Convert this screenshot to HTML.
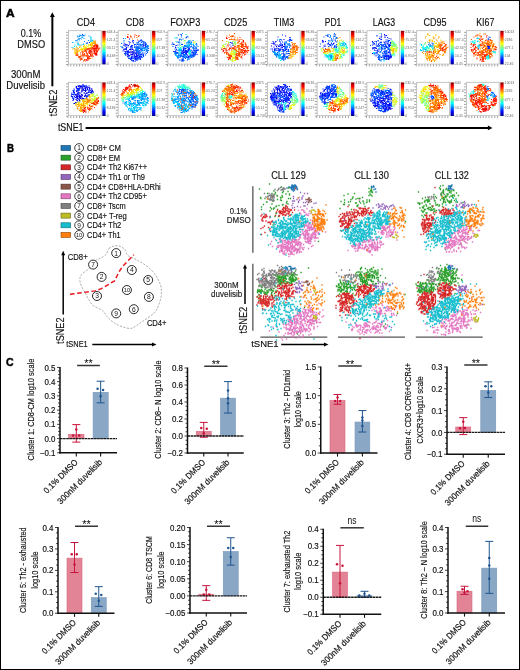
<!DOCTYPE html>
<html><head><meta charset="utf-8"><style>
html,body{margin:0;padding:0;background:#fff;}
body{width:520px;height:670px;overflow:hidden;}
svg{display:block;will-change:transform;font-family:"Liberation Sans", sans-serif;}
</style></head><body>
<svg width="520" height="670" viewBox="0 0 520 670">
<rect x="0" y="0" width="520" height="670" fill="#fff"/>
<defs><linearGradient id="jet" x1="0" y1="0" x2="0" y2="1"><stop offset="0.0000" stop-color="#7f0000"/><stop offset="0.0625" stop-color="#bf0000"/><stop offset="0.1250" stop-color="#ff0000"/><stop offset="0.1875" stop-color="#ff3f00"/><stop offset="0.2500" stop-color="#ff7f00"/><stop offset="0.3125" stop-color="#ffbf00"/><stop offset="0.3750" stop-color="#ffff00"/><stop offset="0.4375" stop-color="#bfff3f"/><stop offset="0.5000" stop-color="#7fff7f"/><stop offset="0.5625" stop-color="#3fffbf"/><stop offset="0.6250" stop-color="#00ffff"/><stop offset="0.6875" stop-color="#00bfff"/><stop offset="0.7500" stop-color="#007fff"/><stop offset="0.8125" stop-color="#003fff"/><stop offset="0.8750" stop-color="#0000ff"/><stop offset="0.9375" stop-color="#0000bf"/><stop offset="1.0000" stop-color="#00007f"/></linearGradient><filter id="bl" x="-10%" y="-10%" width="120%" height="120%"><feGaussianBlur stdDeviation="0.4"/></filter><filter id="bl2" x="-5%" y="-5%" width="110%" height="110%"><feGaussianBlur stdDeviation="0.3"/></filter></defs>
<text x="6.00" y="16.80" font-size="10.8" fill="#000" font-weight="bold" textLength="8.60" lengthAdjust="spacingAndGlyphs" stroke="#000" stroke-width="0.5">A</text>
<text x="31.00" y="36.90" font-size="10.3" fill="#111" text-anchor="middle" textLength="20.50" lengthAdjust="spacingAndGlyphs" stroke="#111" stroke-width="0.15">0.1%</text>
<text x="31.20" y="47.80" font-size="10.3" fill="#111" text-anchor="middle" textLength="27.90" lengthAdjust="spacingAndGlyphs" stroke="#111" stroke-width="0.15">DMSO</text>
<text x="25.70" y="77.50" font-size="10.3" fill="#111" text-anchor="middle" textLength="29.40" lengthAdjust="spacingAndGlyphs" stroke="#111" stroke-width="0.15">300nM</text>
<text x="25.60" y="88.90" font-size="10.3" fill="#111" text-anchor="middle" textLength="38.70" lengthAdjust="spacingAndGlyphs" stroke="#111" stroke-width="0.15">Duvelisib</text>
<line x1="52.35" y1="86.30" x2="52.35" y2="16.00" stroke="#000" stroke-width="2"/>
<path d="M52.35 12.3 L54.8 16.9 L49.9 16.9 Z" fill="#000"/>
<text x="0.00" y="0.00" font-size="10.4" fill="#111" textLength="26.60" lengthAdjust="spacingAndGlyphs" transform="translate(57.3,116.3) rotate(-90)" stroke="#111" stroke-width="0.15">tSNE2</text>
<text x="57.90" y="130.70" font-size="10.2" fill="#111" textLength="25.60" lengthAdjust="spacingAndGlyphs" stroke="#111" stroke-width="0.15">tSNE1</text>
<line x1="85.60" y1="127.90" x2="488.50" y2="127.90" stroke="#000" stroke-width="2"/>
<path d="M492.5 127.9 L487.9 125.45 L487.9 130.35 Z" fill="#000"/>
<text x="85.85" y="25.90" font-size="10.1" fill="#111" text-anchor="middle" textLength="18.20" lengthAdjust="spacingAndGlyphs" stroke="#111" stroke-width="0.15">CD4</text>
<rect x="68.40" y="30.70" width="32.80" height="33.40" fill="#fff" stroke="#b5b5b5" stroke-width="0.8"/>
<path d="M66.00 64.50h2M68.00 64.50v2M66.00 61.58h2M70.87 64.50v2M66.00 58.65h2M73.74 64.50v2M66.00 55.73h2M76.62 64.50v2M66.00 52.81h2M79.49 64.50v2M66.00 49.88h2M82.36 64.50v2M66.00 46.96h2M85.23 64.50v2M66.00 44.04h2M88.10 64.50v2M66.00 41.12h2M90.97 64.50v2M66.00 38.19h2M93.85 64.50v2M66.00 35.27h2M96.72 64.50v2M66.00 32.35h2M99.59 64.50v2" stroke="#666" stroke-width="0.6"/>
<g filter="url(#bl)">
<path d="M174 86h0" stroke="#0005ff" stroke-width="2.20" stroke-linecap="square" fill="none" transform="scale(0.5)"/>
<path d="M165 69h0m1 2h0m13 14h0" stroke="#0031ff" stroke-width="2.20" stroke-linecap="square" fill="none" transform="scale(0.5)"/>
<path d="M167 71h0m-8 2h0m-3 1h0m8 1h0m-4 2h0m-8 4h0m29 1h0m-6 4h0" stroke="#005eff" stroke-width="2.20" stroke-linecap="square" fill="none" transform="scale(0.5)"/>
<path d="M160 70h0m10 0h0m-9 1h0m-6 1h0m4 0h0m9 0h0m10 0h0m-20 5h0m10 0h0m-10 1h0m-2 1h0m-2 2h0m23 0h0m-8 2h0m-13 1h0m-11 1h0m11 2h0m17 0h0m-6 1h0" stroke="#008aff" stroke-width="2.20" stroke-linecap="square" fill="none" transform="scale(0.5)"/>
<path d="M164 71h0m-2 1h0m-4 1h0m7 1h0m16 0h0m-16 1h0m-2 3h0m18 0h0m-22 2h0m24 0h0m3 1h0m-2 1h0m0 1h0m-18 6h0m-10 1h0m3 0h0m3 0h0m-9 4h0m-9 1h0" stroke="#00b6ff" stroke-width="2.20" stroke-linecap="square" fill="none" transform="scale(0.5)"/>
<path d="M182 75h0m1 1h0m-2 7h0m-29 1h0m-6 1h0m9 3h0m2 1h0m-7 1h0m-1 3h0m-2 3h0" stroke="#00e3ff" stroke-width="2.20" stroke-linecap="square" fill="none" transform="scale(0.5)"/>
<path d="M184 80h0" stroke="#10ffee" stroke-width="2.20" stroke-linecap="square" fill="none" transform="scale(0.5)"/>
<path d="M178 89h0m-8 1h0m-3 2h0m16 1h0m-13 1h0m1 2h0m-4 1h0m-1 1h0m-3 1h0" stroke="#c2ff3c" stroke-width="2.20" stroke-linecap="square" fill="none" transform="scale(0.5)"/>
<path d="M181 86h0m2 0h0m-1 2h0m-9 2h0m5 1h0m4 0h0m-13 3h0m3 0h0m2 0h0m4 1h0m-15 1h0m8 0h0m8 0h0m-16 1h0m3 0h0m2 0h0m-6 1h0m-1 1h0m7 0h0m-5 1h0" stroke="#eeff10" stroke-width="2.20" stroke-linecap="square" fill="none" transform="scale(0.5)"/>
<path d="M187 82h0m-3 4h0m4 0h0m2 0h0m-7 2h0m0 1h0m1 0h0m-6 1h0m6 0h0m0 0h0m-15 1h0m8 0h0m-1 2h0m-17 1h0m11 0h0m12 0h0m-28 1h0m14 0h0m4 0h0m10 0h0m-2 1h0m1 0h0m-9 1h0m0 1h0m-7 1h0m3 0h0m1 0h0m-17 1h0m0 0h0m7 0h0m1 0h0m0 0h0m3 0h0m-4 2h0m-9 1h0m6 1h0m-1 1h0m-5 1h0m1 0h0m-1 1h0m1 0h0m0 0h0m0 0h0" stroke="#ffe300" stroke-width="2.20" stroke-linecap="square" fill="none" transform="scale(0.5)"/>
<path d="M190 82h0m0 2h0m-6 1h0m4 0h0m-3 2h0m3 0h0m3 0h0m1 1h0m-1 1h0m2 0h0m-11 2h0m5 0h0m-25 1h0m22 0h0m-17 1h0m-7 1h0m-1 1h0m24 0h0m-29 1h0m18 0h0m-23 1h0m21 0h0m4 0h0m3 0h0m2 0h0m-16 2h0m-14 1h0m1 0h0m2 1h0m4 0h0m-4 1h0m2 0h0m0 1h0m2 0h0m-6 2h0m2 0h0m6 8h0" stroke="#ffb600" stroke-width="2.20" stroke-linecap="square" fill="none" transform="scale(0.5)"/>
<path d="M190 82h0m-3 2h0m3 0h0m1 2h0m-3 1h0m-7 2h0m10 0h0m3 0h0m-9 1h0m-29 7h0m-10 1h0m6 0h0m23 0h0m16 0h0m-37 2h0m0 0h0m2 0h0m10 3h0m3 0h0m23 0h0m-14 3h0m-13 1h0m-12 1h0m1 0h0m3 2h0m13 0h0m-9 2h0m9 0h0m1 0h0m-12 1h0m-2 1h0m19 0h0m8 2h0m-22 1h0m2 0h0m14 0h0m-9 4h0" stroke="#ff8a00" stroke-width="2.20" stroke-linecap="square" fill="none" transform="scale(0.5)"/>
<path d="M190 89h0m-1 2h0m-2 3h0m-2 1h0m0 1h0m1 0h0m8 0h0m5 0h0m0 1h0m-21 1h0m5 0h0m2 0h0m-11 1h0m-4 1h0m12 0h0m-3 1h0m1 0h0m-15 1h0m3 0h0m5 0h0m-9 1h0m7 0h0m8 0h0m14 0h0m1 0h0m-30 1h0m20 0h0m9 0h0m-27 1h0m7 0h0m0 1h0m6 0h0m14 0h0m-39 1h0m15 0h0m6 0h0m11 0h0m7 1h0m-39 1h0m21 0h0m10 0h0m-34 1h0m2 0h0m9 0h0m3 0h0m16 0h0m2 0h0m-29 1h0m18 0h0m-8 1h0m4 0h0m7 0h0m2 0h0m-18 1h0m2 0h0m14 0h0m1 0h0m6 0h0m-23 2h0m16 0h0m-14 1h0m18 1h0m2 0h0m-6 1h0m2 0h0m-14 1h0m1 0h0m5 0h0m0 1h0" stroke="#ff5e00" stroke-width="2.20" stroke-linecap="square" fill="none" transform="scale(0.5)"/>
<path d="M195 91h0m1 0h0m-8 1h0m0 0h0m5 0h0m3 0h0m-9 1h0m1 0h0m1 0h0m4 0h0m0 1h0m1 0h0m-9 1h0m10 0h0m1 0h0m-14 1h0m3 0h0m4 0h0m5 0h0m-6 1h0m4 0h0m-18 1h0m1 0h0m0 0h0m3 0h0m3 0h0m1 0h0m6 0h0m2 0h0m4 0h0m4 0h0m-5 1h0m4 0h0m-27 1h0m2 0h0m0 0h0m4 0h0m16 0h0m-21 1h0m17 0h0m2 0h0m6 0h0m-12 1h0m9 0h0m2 0h0m0 1h0m-16 1h0m2 0h0m11 0h0m3 0h0m-3 1h0m-38 1h0m7 0h0m5 0h0m7 0h0m8 0h0m1 0h0m7 0h0m3 1h0m-3 1h0m-23 1h0m3 0h0m12 0h0m10 0h0m-36 1h0m13 0h0m6 0h0m18 0h0m-38 1h0m12 0h0m10 0h0m8 0h0m-11 1h0m-15 1h0m4 1h0m4 0h0m9 0h0m-17 1h0m20 0h0m-1 1h0m0 0h0m-14 1h0m12 0h0m-15 1h0m18 0h0m-17 2h0m13 1h0m-7 1h0m4 0h0" stroke="#ff3100" stroke-width="2.20" stroke-linecap="square" fill="none" transform="scale(0.5)"/>
<path d="M194 90h0m-4 1h0m3 0h0m-2 1h0m0 0h0m1 0h0m0 3h0m0 1h0m-14 1h0m10 0h0m1 0h0m3 0h0m4 0h0m-18 1h0m8 0h0m2 2h0m1 0h0m-8 1h0m-2 1h0m3 0h0m12 0h0m-12 1h0m6 0h0m1 0h0m-16 1h0m4 0h0m6 0h0m3 2h0m4 0h0m-11 1h0m12 0h0m1 0h0m-10 1h0m10 1h0m-11 1h0m11 0h0m2 0h0m-12 2h0m4 0h0m-7 1h0m7 0h0m-14 6h0m4 1h0" stroke="#ff0500" stroke-width="2.20" stroke-linecap="square" fill="none" transform="scale(0.5)"/>
<path d="M194 93h0m1 0h0m-5 3h0m-2 2h0m2 0h0m-1 6h0m4 3h0m0 2h0m-17 7h0m-3 4h0" stroke="#d80000" stroke-width="2.20" stroke-linecap="square" fill="none" transform="scale(0.5)"/>
</g>
<rect x="102.30" y="30.80" width="3.30" height="33.60" fill="url(#jet)"/>
<line x1="105.60" y1="31.50" x2="106.60" y2="31.50" stroke="#555" stroke-width="0.4"/>
<text x="106.80" y="32.70" font-size="3.4" fill="#666">443.4</text>
<line x1="105.60" y1="39.65" x2="106.60" y2="39.65" stroke="#555" stroke-width="0.4"/>
<text x="106.80" y="40.85" font-size="3.4" fill="#666">121.4</text>
<line x1="105.60" y1="47.80" x2="106.60" y2="47.80" stroke="#555" stroke-width="0.4"/>
<text x="106.80" y="49.00" font-size="3.4" fill="#666">33.11</text>
<line x1="105.60" y1="55.95" x2="106.60" y2="55.95" stroke="#555" stroke-width="0.4"/>
<text x="106.80" y="57.15" font-size="3.4" fill="#666">8.438</text>
<line x1="105.60" y1="64.10" x2="106.60" y2="64.10" stroke="#555" stroke-width="0.4"/>
<text x="106.80" y="65.30" font-size="3.4" fill="#666">0</text>
<rect x="68.40" y="82.30" width="32.80" height="33.40" fill="#fff" stroke="#b5b5b5" stroke-width="0.8"/>
<path d="M66.00 116.10h2M68.00 116.10v2M66.00 113.18h2M70.87 116.10v2M66.00 110.25h2M73.74 116.10v2M66.00 107.33h2M76.62 116.10v2M66.00 104.41h2M79.49 116.10v2M66.00 101.48h2M82.36 116.10v2M66.00 98.56h2M85.23 116.10v2M66.00 95.64h2M88.10 116.10v2M66.00 92.72h2M90.97 116.10v2M66.00 89.79h2M93.85 116.10v2M66.00 86.87h2M96.72 116.10v2M66.00 83.95h2M99.59 116.10v2" stroke="#666" stroke-width="0.6"/>
<g filter="url(#bl)">
<path d="M164 180h0" stroke="#00007f" stroke-width="2.20" stroke-linecap="square" fill="none" transform="scale(0.5)"/>
<path d="M161 173h0m8 0h0m-7 1h0m-9 1h0m31 3h0m-26 1h0m8 1h0m1 0h0m-19 2h0m23 1h0m12 0h0m1 0h0m-26 2h0m22 0h0m2 0h0m-26 1h0m27 0h0m-4 4h0m-27 1h0m7 0h0m1 1h0m1 0h0m-5 1h0m-1 1h0m18 1h0m-18 2h0m2 1h0m-3 7h0" stroke="#0000ab" stroke-width="2.20" stroke-linecap="square" fill="none" transform="scale(0.5)"/>
<path d="M158 171h0m3 1h0m3 0h0m3 0h0m1 0h0m10 0h0m-25 1h0m4 0h0m6 0h0m-3 1h0m3 0h0m3 0h0m6 1h0m4 0h0m-11 1h0m-11 1h0m0 0h0m2 0h0m1 0h0m7 0h0m4 0h0m-4 1h0m3 1h0m8 0h0m-17 1h0m1 0h0m19 0h0m-24 1h0m2 0h0m14 0h0m2 0h0m13 0h0m0 0h0m-31 1h0m9 0h0m-10 1h0m30 0h0m3 0h0m-30 1h0m21 0h0m9 1h0m-26 1h0m9 0h0m-9 1h0m14 0h0m-20 1h0m17 0h0m-19 1h0m11 0h0m-15 1h0m8 0h0m9 0h0m-11 1h0m11 0h0m5 0h0m2 0h0m-8 1h0m-19 1h0m8 0h0m7 0h0m2 0h0m7 0h0m-14 1h0m-4 1h0m0 0h0m3 0h0m5 0h0m3 0h0m-1 1h0m-1 1h0m-4 1h0m9 0h0m1 0h0m-14 1h0m2 2h0m5 1h0m1 0h0m-4 2h0m-8 3h0m2 0h0" stroke="#0000d8" stroke-width="2.20" stroke-linecap="square" fill="none" transform="scale(0.5)"/>
<path d="M166 169h0m-10 3h0m3 0h0m3 0h0m3 0h0m2 0h0m4 0h0m1 0h0m1 0h0m-16 1h0m6 0h0m-11 1h0m22 0h0m1 0h0m-22 1h0m17 0h0m8 0h0m-25 1h0m5 0h0m1 0h0m2 0h0m9 0h0m2 0h0m7 0h0m1 0h0m-9 1h0m4 0h0m-27 1h0m7 0h0m24 0h0m4 0h0m-26 1h0m9 0h0m1 0h0m4 0h0m-17 1h0m1 0h0m12 0h0m13 0h0m-26 1h0m28 0h0m-35 1h0m9 0h0m0 0h0m9 0h0m14 0h0m-32 2h0m16 0h0m-15 1h0m1 0h0m25 0h0m3 0h0m5 0h0m0 1h0m-27 1h0m1 0h0m17 0h0m11 0h0m0 0h0m-41 1h0m6 0h0m2 1h0m7 0h0m-3 1h0m1 0h0m15 0h0m-12 1h0m5 0h0m13 0h0m-34 1h0m32 0h0m-30 1h0m4 0h0m6 0h0m4 0h0m17 0h0m-20 1h0m-5 1h0m1 0h0m-7 1h0m3 0h0m17 0h0m-4 1h0m1 0h0m4 0h0m1 0h0m-14 1h0m-6 1h0m-1 2h0m9 0h0m4 0h0m-8 4h0" stroke="#0005ff" stroke-width="2.20" stroke-linecap="square" fill="none" transform="scale(0.5)"/>
<path d="M172 172h0m-13 5h0m-2 1h0m1 1h0m-9 1h0m9 0h0m16 0h0m-28 1h0m23 0h0m9 1h0m4 2h0m-25 1h0m-13 1h0m4 0h0m20 0h0m-23 3h0m2 0h0m31 0h0m-35 1h0m33 0h0m1 0h0m0 1h0m-3 1h0m-31 1h0m29 0h0m2 1h0m-29 2h0m2 1h0m12 2h0m4 0h0m2 0h0" stroke="#0031ff" stroke-width="2.20" stroke-linecap="square" fill="none" transform="scale(0.5)"/>
<path d="M168 171h0m-1 1h0m11 10h0m-30 6h0m22 9h0" stroke="#005eff" stroke-width="2.20" stroke-linecap="square" fill="none" transform="scale(0.5)"/>
<path d="M155 180h0" stroke="#008aff" stroke-width="2.20" stroke-linecap="square" fill="none" transform="scale(0.5)"/>
<path d="M186 192h0m2 0h0" stroke="#69ff95" stroke-width="2.20" stroke-linecap="square" fill="none" transform="scale(0.5)"/>
<path d="M187 188h0m1 0h0m6 2h0m-5 3h0m-4 5h0m2 1h0m1 1h0m-2 2h0" stroke="#95ff69" stroke-width="2.20" stroke-linecap="square" fill="none" transform="scale(0.5)"/>
<path d="M183 188h0m2 0h0m0 0h0m-1 1h0m2 1h0m0 0h0m8 0h0m1 0h0m-10 1h0m9 0h0m-9 1h0m6 0h0m-7 1h0m5 0h0m-1 1h0m4 1h0m2 0h0m-4 2h0m-2 1h0m2 0h0m1 0h0m-6 1h0m5 0h0m0 0h0m1 0h0m-7 1h0m1 0h0m1 0h0m-25 1h0m26 0h0m2 0h0m-5 3h0m-28 1h0m0 0h0m1 0h0m28 0h0m-6 5h0" stroke="#c2ff3c" stroke-width="2.20" stroke-linecap="square" fill="none" transform="scale(0.5)"/>
<path d="M186 190h0m0 0h0m1 0h0m-9 2h0m5 0h0m-4 2h0m2 0h0m9 1h0m-7 2h0m6 0h0m-20 2h0m18 1h0m-2 2h0m3 0h0m-20 1h0m-10 1h0m-2 1h0m4 1h0m7 0h0m-10 1h0m6 0h0m9 0h0m-21 1h0m13 0h0m12 0h0m-2 1h0m1 0h0m0 1h0m-7 1h0m1 1h0" stroke="#eeff10" stroke-width="2.20" stroke-linecap="square" fill="none" transform="scale(0.5)"/>
<path d="M181 190h0m-1 4h0m-7 3h0m10 0h0m-19 2h0m5 0h0m-3 1h0m5 0h0m0 0h0m7 1h0m2 0h0m2 0h0m-14 1h0m-1 1h0m7 0h0m-7 1h0m1 0h0m7 0h0m6 0h0m-17 2h0m5 0h0m4 0h0m7 0h0m-27 1h0m-1 1h0m6 0h0m1 0h0m8 0h0m7 0h0m-18 1h0m3 0h0m3 0h0m2 0h0m3 0h0m0 1h0m4 0h0m-7 1h0m1 0h0m-3 1h0m6 0h0m2 0h0m0 0h0m-9 1h0m3 1h0m1 0h0m2 0h0m1 0h0m-7 5h0m3 0h0m-4 1h0" stroke="#ffe300" stroke-width="2.20" stroke-linecap="square" fill="none" transform="scale(0.5)"/>
<path d="M179 192h0m-1 1h0m1 0h0m18 2h0m-24 1h0m7 0h0m0 0h0m-2 2h0m17 0h0m-25 1h0m4 0h0m0 0h0m-6 1h0m7 0h0m5 0h0m-15 1h0m9 0h0m6 0h0m-5 1h0m-9 1h0m0 0h0m1 0h0m3 0h0m2 0h0m2 1h0m5 0h0m1 0h0m3 0h0m-25 1h0m9 0h0m7 0h0m0 0h0m-17 1h0m10 0h0m7 0h0m-3 1h0m3 0h0m0 0h0m-10 1h0m3 0h0m-6 1h0m6 0h0m-15 1h0m0 0h0m5 0h0m12 0h0m0 0h0m-17 1h0m6 0h0m7 0h0m1 0h0m1 1h0m-10 1h0m-2 1h0m6 0h0m2 0h0m4 0h0m-5 1h0m1 0h0m1 0h0m-2 1h0m4 0h0m-8 2h0m4 0h0m1 0h0m-1 1h0m-1 1h0m1 1h0m1 0h0m-2 2h0m2 0h0" stroke="#ffb600" stroke-width="2.20" stroke-linecap="square" fill="none" transform="scale(0.5)"/>
<path d="M196 197h0m-22 2h0m2 0h0m-1 1h0m6 0h0m-5 1h0m2 0h0m12 0h0m-22 1h0m10 0h0m11 0h0m5 0h0m-4 1h0m-20 1h0m8 0h0m11 0h0m-13 1h0m-2 1h0m10 1h0m-28 2h0m31 0h0m-33 1h0m13 0h0m25 0h0m-29 1h0m3 0h0m-7 1h0m26 0h0m1 0h0m-6 1h0m2 0h0m-28 1h0m27 0h0m-20 1h0m1 1h0m-7 1h0m7 0h0m13 0h0m3 0h0m-22 1h0m3 3h0m4 0h0m14 3h0" stroke="#ff8a00" stroke-width="2.20" stroke-linecap="square" fill="none" transform="scale(0.5)"/>
<path d="M197 195h0m-23 2h0m22 0h0m-18 3h0m17 2h0m-19 1h0m14 0h0m4 0h0m-3 1h0m-1 1h0m5 1h0m-12 1h0m6 0h0m3 0h0m4 0h0m-2 1h0m-5 1h0m2 0h0m-11 1h0m4 2h0m-9 2h0m9 0h0m-9 1h0m3 0h0m4 2h0m-1 1h0m3 0h0m-15 2h0m3 0h0m7 1h0m-8 3h0" stroke="#ff5e00" stroke-width="2.20" stroke-linecap="square" fill="none" transform="scale(0.5)"/>
<path d="M194 199h0m-1 1h0m4 1h0m-6 1h0m4 2h0m-8 1h0m6 0h0m2 0h0m0 0h0m-2 1h0m-8 1h0m1 0h0m2 0h0m1 0h0m0 2h0m3 1h0m-9 3h0m-13 1h0m1 1h0m18 0h0m-21 1h0m1 1h0m10 0h0m-3 1h0m-10 1h0m11 0h0m3 0h0m-15 1h0m6 0h0m-5 1h0m2 0h0m0 1h0m-2 1h0m1 2h0" stroke="#ff3100" stroke-width="2.20" stroke-linecap="square" fill="none" transform="scale(0.5)"/>
<path d="M193 198h0m4 5h0m-18 8h0m-8 5h0m7 3h0m-10 2h0" stroke="#ff0500" stroke-width="2.20" stroke-linecap="square" fill="none" transform="scale(0.5)"/>
<path d="M168 220h0m1 3h0m3 1h0" stroke="#d80000" stroke-width="2.20" stroke-linecap="square" fill="none" transform="scale(0.5)"/>
</g>
<rect x="102.30" y="82.40" width="3.30" height="33.60" fill="url(#jet)"/>
<line x1="105.60" y1="83.10" x2="106.60" y2="83.10" stroke="#555" stroke-width="0.4"/>
<text x="106.80" y="84.30" font-size="3.4" fill="#666">443.4</text>
<line x1="105.60" y1="91.25" x2="106.60" y2="91.25" stroke="#555" stroke-width="0.4"/>
<text x="106.80" y="92.45" font-size="3.4" fill="#666">121.4</text>
<line x1="105.60" y1="99.40" x2="106.60" y2="99.40" stroke="#555" stroke-width="0.4"/>
<text x="106.80" y="100.60" font-size="3.4" fill="#666">33.11</text>
<line x1="105.60" y1="107.55" x2="106.60" y2="107.55" stroke="#555" stroke-width="0.4"/>
<text x="106.80" y="108.75" font-size="3.4" fill="#666">8.438</text>
<line x1="105.60" y1="115.70" x2="106.60" y2="115.70" stroke="#555" stroke-width="0.4"/>
<text x="106.80" y="116.90" font-size="3.4" fill="#666">0</text>
<text x="134.90" y="25.90" font-size="10.1" fill="#111" text-anchor="middle" textLength="18.20" lengthAdjust="spacingAndGlyphs" stroke="#111" stroke-width="0.15">CD8</text>
<rect x="118.15" y="30.70" width="32.80" height="33.40" fill="#fff" stroke="#b5b5b5" stroke-width="0.8"/>
<path d="M115.75 64.50h2M117.75 64.50v2M115.75 61.58h2M120.62 64.50v2M115.75 58.65h2M123.49 64.50v2M115.75 55.73h2M126.37 64.50v2M115.75 52.81h2M129.24 64.50v2M115.75 49.88h2M132.11 64.50v2M115.75 46.96h2M134.98 64.50v2M115.75 44.04h2M137.85 64.50v2M115.75 41.12h2M140.72 64.50v2M115.75 38.19h2M143.60 64.50v2M115.75 35.27h2M146.47 64.50v2M115.75 32.35h2M149.34 64.50v2" stroke="#666" stroke-width="0.6"/>
<g filter="url(#bl)">
<path d="M253 96h0m8 2h0m-4 12h0m10 11h0" stroke="#0000ab" stroke-width="2.20" stroke-linecap="square" fill="none" transform="scale(0.5)"/>
<path d="M250 88h0m9 0h0m-7 1h0m35 1h0m-37 2h0m2 6h0m0 1h0m7 0h0m2 0h0m19 2h0m-26 2h0m1 0h0m2 0h0m5 0h0m-11 1h0m14 0h0m3 0h0m-6 2h0m5 0h0m-2 2h0m4 0h0m-7 1h0m2 0h0m10 2h0m2 0h0m-20 2h0m8 0h0m7 0h0m3 1h0m-12 2h0m7 0h0m9 0h0" stroke="#0000d8" stroke-width="2.20" stroke-linecap="square" fill="none" transform="scale(0.5)"/>
<path d="M259 78h0m6 4h0m13 0h0m-12 2h0m-6 1h0m-12 3h0m43 0h0m-36 2h0m31 0h0m5 0h0m-34 1h0m31 0h0m-36 1h0m12 0h0m-3 2h0m15 0h0m-23 1h0m19 0h0m-8 1h0m10 0h0m1 0h0m-23 1h0m45 0h0m-33 1h0m-16 1h0m4 0h0m13 0h0m-3 1h0m9 0h0m3 1h0m-17 1h0m19 0h0m-26 1h0m0 0h0m5 0h0m11 0h0m12 0h0m-20 1h0m12 0h0m-12 1h0m2 0h0m4 0h0m17 0h0m-30 1h0m1 0h0m3 0h0m2 0h0m13 0h0m0 0h0m10 0h0m-31 1h0m23 0h0m5 0h0m-11 1h0m9 0h0m-20 1h0m18 0h0m11 0h0m-27 1h0m5 0h0m3 0h0m0 0h0m3 0h0m0 0h0m5 0h0m-14 1h0m28 0h0m-32 1h0m14 0h0m5 0h0m5 0h0m1 0h0m-8 1h0m-2 1h0m4 0h0m3 0h0m2 0h0m-16 1h0m1 0h0m6 0h0m12 0h0m-11 1h0m1 0h0m3 0h0m3 0h0m-20 1h0m4 0h0m2 0h0m6 1h0m2 0h0m1 0h0m1 0h0m-2 2h0m-8 1h0m3 1h0" stroke="#0005ff" stroke-width="2.20" stroke-linecap="square" fill="none" transform="scale(0.5)"/>
<path d="M282 80h0m-15 1h0m14 0h0m2 1h0m-25 1h0m20 0h0m8 0h0m1 1h0m-13 1h0m-7 1h0m7 0h0m14 0h0m0 0h0m-1 2h0m1 0h0m3 0h0m-38 1h0m16 0h0m15 0h0m-32 1h0m29 0h0m-33 1h0m15 0h0m2 0h0m26 0h0m-27 1h0m27 0h0m4 0h0m-33 1h0m1 0h0m23 0h0m0 0h0m8 0h0m2 0h0m-51 1h0m11 0h0m18 0h0m2 0h0m15 0h0m-27 1h0m-18 1h0m32 0h0m5 0h0m7 0h0m-16 1h0m6 0h0m-31 1h0m3 0h0m25 0h0m-29 2h0m19 0h0m5 0h0m2 0h0m19 0h0m-25 1h0m-22 1h0m7 0h0m4 0h0m17 0h0m0 1h0m20 0h0m-20 1h0m-19 1h0m1 0h0m20 0h0m-24 1h0m15 0h0m6 0h0m4 0h0m8 0h0m5 0h0m-40 1h0m4 0h0m18 0h0m1 0h0m-1 1h0m6 0h0m4 0h0m1 0h0m-5 1h0m0 0h0m3 0h0m2 0h0m-32 1h0m1 0h0m28 0h0m1 0h0m6 0h0m-13 1h0m-5 1h0m1 0h0m5 0h0m-11 1h0m4 0h0m13 0h0m2 0h0m4 0h0m-31 1h0m2 0h0m24 0h0m-18 2h0m-6 1h0m0 0h0m1 0h0m16 0h0m6 0h0m-20 2h0m1 0h0m19 0h0m-17 1h0m7 0h0m2 0h0m2 0h0" stroke="#0031ff" stroke-width="2.20" stroke-linecap="square" fill="none" transform="scale(0.5)"/>
<path d="M247 77h0m36 3h0m2 2h0m-37 2h0m41 0h0m-12 1h0m0 0h0m6 0h0m8 0h0m-48 2h0m33 1h0m16 0h0m1 0h0m-22 1h0m4 0h0m5 0h0m1 0h0m12 0h0m-20 1h0m4 0h0m2 0h0m3 1h0m-13 1h0m14 0h0m1 0h0m8 0h0m-22 1h0m10 0h0m13 0h0m-32 1h0m12 0h0m3 0h0m11 0h0m6 0h0m-24 1h0m4 0h0m5 0h0m12 0h0m5 0h0m-19 1h0m1 0h0m4 0h0m4 0h0m5 0h0m-18 1h0m5 0h0m1 0h0m0 0h0m0 0h0m7 0h0m3 0h0m-5 1h0m2 0h0m-13 1h0m4 0h0m5 0h0m13 0h0m-20 1h0m0 0h0m9 0h0m-27 1h0m17 0h0m0 0h0m1 0h0m4 0h0m6 0h0m1 0h0m10 0h0m-22 1h0m4 1h0m5 0h0m-9 1h0m6 1h0m0 0h0m16 0h0m-40 1h0m22 0h0m1 1h0m15 0h0m-43 1h0m37 0h0m0 1h0m-36 1h0m26 0h0m4 0h0m10 0h0m-14 1h0m8 4h0m-18 1h0m8 0h0m4 0h0m0 0h0m-12 1h0m10 0h0m-8 1h0m5 1h0m4 0h0m-13 3h0m5 1h0" stroke="#005eff" stroke-width="2.20" stroke-linecap="square" fill="none" transform="scale(0.5)"/>
<path d="M248 81h0m33 1h0m-5 4h0m10 0h0m-43 1h0m37 0h0m3 3h0m12 1h0m1 1h0m1 0h0m-55 1h0m32 1h0m-30 1h0m44 0h0m-7 1h0m13 0h0m2 0h0m-21 1h0m13 0h0m8 0h0m-15 1h0m4 0h0m4 0h0m-17 1h0m3 0h0m17 0h0m1 1h0m-7 1h0m3 0h0m8 0h0m-22 1h0m17 0h0m3 0h0m-9 2h0m-2 7h0m-26 2h0m3 3h0" stroke="#008aff" stroke-width="2.20" stroke-linecap="square" fill="none" transform="scale(0.5)"/>
<path d="M251 77h0m45 16h0m-16 1h0m12 3h0m-4 1h0m-11 2h0m4 5h0" stroke="#00b6ff" stroke-width="2.20" stroke-linecap="square" fill="none" transform="scale(0.5)"/>
<path d="M285 99h0" stroke="#00e3ff" stroke-width="2.20" stroke-linecap="square" fill="none" transform="scale(0.5)"/>
<path d="M257 74h0m8 4h0" stroke="#ff8a00" stroke-width="2.20" stroke-linecap="square" fill="none" transform="scale(0.5)"/>
<path d="M273 71h0m4 2h0m-16 1h0m-5 1h0m18 0h0m1 5h0" stroke="#ff5e00" stroke-width="2.20" stroke-linecap="square" fill="none" transform="scale(0.5)"/>
<path d="M256 69h0m5 3h0m2 2h0m6 0h0" stroke="#ff3100" stroke-width="2.20" stroke-linecap="square" fill="none" transform="scale(0.5)"/>
<path d="M270 70h0m8 1h0m-23 2h0m0 2h0" stroke="#ff0500" stroke-width="2.20" stroke-linecap="square" fill="none" transform="scale(0.5)"/>
</g>
<rect x="152.05" y="30.80" width="3.30" height="33.60" fill="url(#jet)"/>
<line x1="155.35" y1="31.50" x2="156.35" y2="31.50" stroke="#555" stroke-width="0.4"/>
<text x="156.55" y="32.70" font-size="3.4" fill="#666">902.9</text>
<line x1="155.35" y1="39.65" x2="156.35" y2="39.65" stroke="#555" stroke-width="0.4"/>
<text x="156.55" y="40.85" font-size="3.4" fill="#666">207</text>
<line x1="155.35" y1="47.80" x2="156.35" y2="47.80" stroke="#555" stroke-width="0.4"/>
<text x="156.55" y="49.00" font-size="3.4" fill="#666">47.38</text>
<line x1="155.35" y1="55.95" x2="156.35" y2="55.95" stroke="#555" stroke-width="0.4"/>
<text x="156.55" y="57.15" font-size="3.4" fill="#666">10.32</text>
<line x1="155.35" y1="64.10" x2="156.35" y2="64.10" stroke="#555" stroke-width="0.4"/>
<text x="156.55" y="65.30" font-size="3.4" fill="#666">0</text>
<rect x="118.15" y="82.30" width="32.80" height="33.40" fill="#fff" stroke="#b5b5b5" stroke-width="0.8"/>
<path d="M115.75 116.10h2M117.75 116.10v2M115.75 113.18h2M120.62 116.10v2M115.75 110.25h2M123.49 116.10v2M115.75 107.33h2M126.37 116.10v2M115.75 104.41h2M129.24 116.10v2M115.75 101.48h2M132.11 116.10v2M115.75 98.56h2M134.98 116.10v2M115.75 95.64h2M137.85 116.10v2M115.75 92.72h2M140.72 116.10v2M115.75 89.79h2M143.60 116.10v2M115.75 86.87h2M146.47 116.10v2M115.75 83.95h2M149.34 116.10v2" stroke="#666" stroke-width="0.6"/>
<g filter="url(#bl)">
<path d="M277 207h0" stroke="#0031ff" stroke-width="2.20" stroke-linecap="square" fill="none" transform="scale(0.5)"/>
<path d="M289 186h0m-1 1h0m2 1h0m-13 4h0m10 0h0m-18 2h0m-6 1h0m17 0h0m15 0h0m-26 1h0m2 0h0m-6 1h0m31 0h0m-8 1h0m3 0h0m1 0h0m-10 2h0m-7 1h0m6 4h0m2 0h0m1 0h0m11 0h0m-24 1h0m-1 3h0m9 0h0m-20 2h0m8 0h0m7 4h0m-14 7h0" stroke="#005eff" stroke-width="2.20" stroke-linecap="square" fill="none" transform="scale(0.5)"/>
<path d="M285 187h0m2 0h0m-4 1h0m9 0h0m-13 1h0m3 0h0m3 0h0m1 0h0m3 0h0m4 0h0m-9 1h0m8 0h0m2 0h0m-10 1h0m1 0h0m8 0h0m-4 1h0m-21 1h0m2 0h0m4 0h0m8 0h0m3 0h0m7 0h0m-26 1h0m0 0h0m3 0h0m14 0h0m7 0h0m-23 1h0m5 0h0m8 0h0m6 0h0m-3 1h0m13 0h0m-29 1h0m12 0h0m4 0h0m2 0h0m3 0h0m-25 1h0m23 0h0m0 0h0m2 0h0m4 0h0m-27 1h0m1 0h0m17 0h0m0 0h0m5 0h0m-6 1h0m13 0h0m-37 1h0m2 0h0m10 0h0m0 0h0m1 0h0m7 0h0m0 0h0m5 0h0m0 0h0m-13 1h0m7 0h0m19 0h0m-35 1h0m14 0h0m15 0h0m-40 1h0m29 0h0m-27 1h0m41 0h0m-47 1h0m4 0h0m19 0h0m7 0h0m1 0h0m3 0h0m7 0h0m5 0h0m1 0h0m-32 1h0m5 0h0m2 0h0m-6 1h0m3 0h0m14 0h0m-22 1h0m-5 1h0m8 0h0m3 0h0m23 0h0m-11 1h0m5 0h0m-16 2h0m3 2h0m13 0h0m-12 1h0m1 0h0m4 3h0m-12 1h0m13 0h0m8 0h0m-18 1h0m6 0h0m3 0h0m2 1h0m-11 1h0m1 0h0m9 0h0m-9 2h0m3 0h0" stroke="#008aff" stroke-width="2.20" stroke-linecap="square" fill="none" transform="scale(0.5)"/>
<path d="M290 184h0m-7 2h0m2 0h0m5 0h0m-9 2h0m1 0h0m-5 1h0m3 0h0m2 1h0m3 0h0m1 0h0m-10 1h0m2 0h0m6 0h0m4 0h0m-19 1h0m1 0h0m4 0h0m14 0h0m-19 1h0m10 0h0m10 0h0m-27 1h0m29 0h0m-25 1h0m3 0h0m12 0h0m1 0h0m3 0h0m-9 1h0m3 0h0m1 0h0m-21 1h0m37 0h0m-40 1h0m26 0h0m1 0h0m-31 1h0m6 0h0m27 0h0m9 1h0m2 0h0m-7 2h0m-36 1h0m35 0h0m-31 1h0m1 0h0m26 0h0m10 0h0m-35 1h0m8 0h0m8 0h0m1 0h0m2 0h0m4 0h0m5 0h0m6 0h0m0 0h0m2 0h0m-42 1h0m27 0h0m2 0h0m-29 1h0m6 0h0m5 0h0m19 0h0m4 0h0m9 0h0m-47 1h0m2 0h0m7 0h0m4 0h0m9 0h0m5 0h0m9 0h0m-29 1h0m12 0h0m6 0h0m2 0h0m0 0h0m15 0h0m-18 1h0m4 0h0m1 0h0m15 0h0m-21 1h0m1 0h0m14 0h0m4 0h0m-38 1h0m19 0h0m-17 2h0m5 0h0m0 0h0m12 0h0m-4 1h0m8 0h0m-4 1h0m3 0h0m4 0h0m1 0h0m3 0h0m-25 1h0m2 0h0m0 0h0m3 0h0m5 0h0m-11 1h0m6 0h0m3 0h0m-4 1h0m7 0h0m9 0h0m2 0h0m-23 1h0m12 0h0m-5 1h0m2 0h0m4 0h0m0 0h0m-2 2h0m-2 1h0m2 0h0m2 1h0" stroke="#00b6ff" stroke-width="2.20" stroke-linecap="square" fill="none" transform="scale(0.5)"/>
<path d="M283 186h0m-3 2h0m-3 1h0m4 0h0m0 1h0m-8 1h0m17 0h0m-25 1h0m12 0h0m-14 1h0m7 0h0m4 0h0m-13 1h0m0 0h0m1 0h0m0 0h0m-1 1h0m24 0h0m-7 1h0m-23 1h0m39 0h0m-39 1h0m2 0h0m31 0h0m-20 2h0m20 1h0m9 1h0m-51 1h0m16 2h0m-3 1h0m27 0h0m4 0h0m-9 1h0m8 1h0m-31 1h0m6 0h0m6 0h0m-17 1h0m11 0h0m11 0h0m-23 2h0m17 1h0m1 0h0m1 0h0m-8 1h0m0 0h0m25 0h0m-6 1h0m-11 1h0m1 0h0m-9 1h0m18 0h0m-23 1h0m6 0h0m9 1h0m-5 1h0m9 0h0m-16 1h0m11 1h0" stroke="#00e3ff" stroke-width="2.20" stroke-linecap="square" fill="none" transform="scale(0.5)"/>
<path d="M285 182h0m2 1h0m-2 1h0m-3 1h0m3 0h0m-23 8h0m1 0h0m-7 1h0m3 0h0m2 0h0m-5 1h0m20 0h0m-30 6h0m8 3h0m36 6h0m-5 1h0m-19 1h0m-2 1h0" stroke="#10ffee" stroke-width="2.20" stroke-linecap="square" fill="none" transform="scale(0.5)"/>
<path d="M281 184h0m-4 2h0m-2 2h0m-2 2h0m2 0h0m-13 1h0m1 0h0m-5 1h0m-8 3h0m0 1h0m2 0h0m3 1h0m-11 3h0m3 0h0" stroke="#3cffc2" stroke-width="2.20" stroke-linecap="square" fill="none" transform="scale(0.5)"/>
<path d="M283 180h0m-2 1h0m3 0h0m-18 7h0m-4 1h0m4 0h0m-5 1h0m2 0h0m6 0h0m-12 1h0m1 0h0m-2 2h0m3 0h0m-9 2h0m-5 1h0m3 1h0m-3 2h0m2 0h0" stroke="#69ff95" stroke-width="2.20" stroke-linecap="square" fill="none" transform="scale(0.5)"/>
<path d="M283 180h0m-4 3h0m-3 1h0m-3 1h0m1 1h0m-11 2h0m6 0h0m4 0h0m-15 1h0m6 0h0m5 0h0m-7 1h0m-8 1h0m3 1h0m-4 1h0m3 1h0m-10 4h0" stroke="#95ff69" stroke-width="2.20" stroke-linecap="square" fill="none" transform="scale(0.5)"/>
<path d="M285 179h0m-3 2h0m-8 1h0m-6 3h0m-3 1h0m4 0h0m-7 1h0m3 0h0m1 0h0m-12 1h0m6 0h0m2 0h0m-5 1h0m3 0h0m5 0h0m-6 2h0m-11 3h0m-1 1h0" stroke="#c2ff3c" stroke-width="2.20" stroke-linecap="square" fill="none" transform="scale(0.5)"/>
<path d="M278 179h0m-5 1h0m0 0h0m3 0h0m1 0h0m-2 1h0m1 0h0m-10 1h0m6 0h0m1 0h0m-10 2h0m-6 2h0m4 0h0m6 0h0m2 0h0m-8 1h0m2 0h0m-9 2h0m-3 1h0m-2 1h0m6 0h0m-10 3h0m1 0h0m-3 2h0" stroke="#eeff10" stroke-width="2.20" stroke-linecap="square" fill="none" transform="scale(0.5)"/>
<path d="M281 175h0m1 2h0m-11 1h0m0 0h0m1 0h0m5 0h0m-10 1h0m8 0h0m3 0h0m-12 1h0m-2 1h0m3 0h0m0 0h0m4 0h0m2 1h0m-6 1h0m-4 1h0m1 0h0m-3 1h0m3 0h0m3 0h0m5 0h0m-15 1h0m-11 6h0" stroke="#ffe300" stroke-width="2.20" stroke-linecap="square" fill="none" transform="scale(0.5)"/>
<path d="M275 176h0m-2 1h0m2 0h0m2 1h0m-9 1h0m1 0h0m5 0h0m-2 1h0m-13 1h0m4 1h0m-4 1h0m5 0h0m-11 1h0m-6 2h0m8 0h0m2 0h0m-13 2h0m0 3h0m1 0h0m1 0h0" stroke="#ffb600" stroke-width="2.20" stroke-linecap="square" fill="none" transform="scale(0.5)"/>
<path d="M276 172h0m-6 2h0m5 0h0m2 1h0m0 1h0m-3 1h0m-12 1h0m-2 1h0m-2 1h0m0 0h0m-10 5h0m1 1h0m6 0h0m-11 1h0m0 1h0m1 1h0m1 0h0m-1 1h0m-2 1h0" stroke="#ff8a00" stroke-width="2.20" stroke-linecap="square" fill="none" transform="scale(0.5)"/>
<path d="M270 170h0m6 1h0m-4 1h0m-2 1h0m2 0h0m6 0h0m-21 1h0m3 3h0m-6 2h0m6 0h0m1 0h0m1 0h0m1 0h0m-12 1h0m11 0h0m-4 1h0m-6 1h0m-4 1h0m1 2h0m-5 1h0m0 2h0m2 0h0m-4 1h0" stroke="#ff5e00" stroke-width="2.20" stroke-linecap="square" fill="none" transform="scale(0.5)"/>
<path d="M274 170h0m1 0h0m-4 1h0m-1 1h0m0 1h0m4 0h0m-21 1h0m7 0h0m18 0h0m-27 1h0m3 0h0m2 0h0m6 0h0m-10 2h0m3 0h0m-4 1h0m7 0h0m-11 1h0m2 2h0m0 0h0m-2 3h0" stroke="#ff3100" stroke-width="2.20" stroke-linecap="square" fill="none" transform="scale(0.5)"/>
<path d="M270 169h0m-11 1h0m1 0h0m0 0h0m12 1h0m-14 1h0m7 0h0m0 0h0m4 0h0m5 0h0m1 0h0m-16 1h0m1 0h0m-5 2h0m1 0h0m-3 1h0m3 0h0m-5 1h0m3 1h0m0 0h0m-7 1h0m0 0h0m6 0h0m-3 1h0m1 0h0m-6 2h0m5 0h0m-4 4h0m-1 1h0" stroke="#ff0500" stroke-width="2.20" stroke-linecap="square" fill="none" transform="scale(0.5)"/>
<path d="M268 169h0m0 3h0m9 1h0" stroke="#d80000" stroke-width="2.20" stroke-linecap="square" fill="none" transform="scale(0.5)"/>
<path d="M263 169h0m7 1h0m-2 1h0m3 0h0" stroke="#ab0000" stroke-width="2.20" stroke-linecap="square" fill="none" transform="scale(0.5)"/>
</g>
<rect x="152.05" y="82.40" width="3.30" height="33.60" fill="url(#jet)"/>
<line x1="155.35" y1="83.10" x2="156.35" y2="83.10" stroke="#555" stroke-width="0.4"/>
<text x="156.55" y="84.30" font-size="3.4" fill="#666">902.9</text>
<line x1="155.35" y1="91.25" x2="156.35" y2="91.25" stroke="#555" stroke-width="0.4"/>
<text x="156.55" y="92.45" font-size="3.4" fill="#666">207</text>
<line x1="155.35" y1="99.40" x2="156.35" y2="99.40" stroke="#555" stroke-width="0.4"/>
<text x="156.55" y="100.60" font-size="3.4" fill="#666">47.38</text>
<line x1="155.35" y1="107.55" x2="156.35" y2="107.55" stroke="#555" stroke-width="0.4"/>
<text x="156.55" y="108.75" font-size="3.4" fill="#666">10.32</text>
<line x1="155.35" y1="115.70" x2="156.35" y2="115.70" stroke="#555" stroke-width="0.4"/>
<text x="156.55" y="116.90" font-size="3.4" fill="#666">0</text>
<text x="185.25" y="25.90" font-size="10.1" fill="#111" text-anchor="middle" textLength="30.00" lengthAdjust="spacingAndGlyphs" stroke="#111" stroke-width="0.15">FOXP3</text>
<rect x="167.90" y="30.70" width="32.80" height="33.40" fill="#fff" stroke="#b5b5b5" stroke-width="0.8"/>
<path d="M165.50 64.50h2M167.50 64.50v2M165.50 61.58h2M170.37 64.50v2M165.50 58.65h2M173.24 64.50v2M165.50 55.73h2M176.12 64.50v2M165.50 52.81h2M178.99 64.50v2M165.50 49.88h2M181.86 64.50v2M165.50 46.96h2M184.73 64.50v2M165.50 44.04h2M187.60 64.50v2M165.50 41.12h2M190.47 64.50v2M165.50 38.19h2M193.35 64.50v2M165.50 35.27h2M196.22 64.50v2M165.50 32.35h2M199.09 64.50v2" stroke="#666" stroke-width="0.6"/>
<g filter="url(#bl)">
<path d="M368 102h0" stroke="#0000ab" stroke-width="2.20" stroke-linecap="square" fill="none" transform="scale(0.5)"/>
<path d="M353 99h0m29 1h0m-9 1h0m23 0h0m-26 1h0m2 0h0m3 0h0m-25 1h0m17 2h0m7 0h0m-11 1h0m26 2h0m-3 3h0m-2 3h0" stroke="#0000d8" stroke-width="2.20" stroke-linecap="square" fill="none" transform="scale(0.5)"/>
<path d="M363 70h0m-16 19h0m1 0h0m3 6h0m16 1h0m3 1h0m2 0h0m5 0h0m-10 1h0m2 0h0m0 0h0m9 1h0m-11 1h0m10 0h0m2 0h0m9 0h0m-32 1h0m0 0h0m7 0h0m8 0h0m7 0h0m15 0h0m-41 1h0m13 0h0m1 0h0m1 0h0m4 0h0m-7 1h0m9 0h0m2 0h0m17 0h0m-22 1h0m6 0h0m8 0h0m-15 1h0m3 0h0m16 0h0m-26 1h0m3 1h0m2 0h0m4 0h0m2 0h0m-12 1h0m11 0h0m9 0h0m9 1h0m4 0h0m-9 1h0m0 1h0m3 0h0m-5 1h0m-21 8h0" stroke="#0005ff" stroke-width="2.20" stroke-linecap="square" fill="none" transform="scale(0.5)"/>
<path d="M362 69h0m-5 1h0m3 8h0m-1 2h0m-5 4h0m-9 2h0m38 0h0m-18 3h0m-9 1h0m-3 1h0m-2 1h0m27 0h0m-10 1h0m4 1h0m15 0h0m5 0h0m-17 1h0m3 0h0m14 0h0m-40 1h0m15 0h0m20 0h0m5 0h0m-14 1h0m1 0h0m-8 1h0m7 0h0m9 0h0m-34 1h0m23 0h0m20 0h0m-24 2h0m10 0h0m6 0h0m2 0h0m5 0h0m-44 1h0m25 0h0m1 0h0m13 0h0m1 0h0m-44 1h0m3 0h0m1 0h0m25 0h0m-26 1h0m20 0h0m0 0h0m3 0h0m12 0h0m3 0h0m-33 1h0m9 0h0m20 0h0m1 0h0m7 0h0m1 0h0m-41 1h0m13 0h0m19 0h0m-21 1h0m3 0h0m1 0h0m20 0h0m0 0h0m4 0h0m-40 1h0m13 0h0m24 0h0m2 0h0m-23 1h0m1 0h0m1 0h0m3 0h0m0 0h0m9 0h0m6 0h0m-29 1h0m17 0h0m8 0h0m0 0h0m4 0h0m3 0h0m-38 1h0m34 0h0m-25 1h0m13 0h0m4 0h0m0 0h0m5 0h0m-18 1h0m2 0h0m10 0h0m0 0h0m1 0h0m2 0h0m8 0h0m-27 1h0m15 0h0m1 0h0m5 0h0m4 0h0m-28 1h0m14 0h0m11 0h0m-6 1h0m1 0h0m2 0h0m-16 2h0m2 0h0m-1 2h0m2 0h0m8 0h0m-10 2h0" stroke="#0031ff" stroke-width="2.20" stroke-linecap="square" fill="none" transform="scale(0.5)"/>
<path d="M374 73h0m-11 1h0m13 0h0m-3 1h0m-19 1h0m18 0h0m-6 2h0m-7 1h0m27 2h0m-29 3h0m2 0h0m19 1h0m1 0h0m-3 1h0m6 1h0m11 0h0m-46 1h0m-3 1h0m19 0h0m16 1h0m14 0h0m1 0h0m-25 1h0m2 0h0m3 0h0m2 1h0m0 0h0m1 0h0m-31 1h0m24 0h0m3 0h0m10 0h0m-14 1h0m12 0h0m-5 1h0m1 1h0m0 0h0m16 0h0m-24 1h0m-19 1h0m40 0h0m1 0h0m2 0h0m-31 2h0m-2 1h0m26 1h0m-35 2h0m17 0h0m22 0h0m2 0h0m-41 1h0m2 0h0m34 0h0m-34 1h0m0 0h0m4 0h0m35 0h0m0 0h0m-39 1h0m0 0h0m2 0h0m12 0h0m-9 1h0m13 0h0m13 0h0m-15 1h0m4 0h0m-10 1h0m4 0h0m3 0h0m2 0h0m7 0h0m8 0h0m3 0h0m-34 1h0m2 0h0m1 0h0m3 0h0m2 0h0m4 0h0m13 0h0m-24 1h0m3 0h0m3 0h0m5 0h0m2 0h0m12 0h0m0 0h0m-17 1h0m8 0h0m8 0h0m1 0h0m1 0h0m3 0h0m-30 1h0m0 0h0m14 0h0m-4 1h0m3 0h0m6 0h0m-19 1h0m0 1h0m15 0h0m-5 1h0m-7 2h0m9 1h0m-5 1h0m4 0h0" stroke="#005eff" stroke-width="2.20" stroke-linecap="square" fill="none" transform="scale(0.5)"/>
<path d="M363 71h0m-1 8h0m1 1h0m14 2h0m1 0h0m0 1h0m4 0h0m-6 1h0m-19 1h0m19 0h0m7 0h0m-10 1h0m7 0h0m7 0h0m-7 1h0m-21 1h0m18 0h0m5 0h0m0 1h0m0 0h0m10 0h0m0 0h0m-20 1h0m11 0h0m-9 1h0m0 0h0m1 0h0m4 0h0m8 0h0m-10 1h0m12 0h0m-19 1h0m0 0h0m3 0h0m7 0h0m16 0h0m-22 1h0m2 0h0m8 0h0m6 0h0m-24 2h0m19 0h0m1 0h0m6 0h0m-4 1h0m-27 1h0m2 1h0m-2 1h0m2 0h0m-3 1h0m1 0h0m-1 3h0m0 0h0m-11 2h0m0 0h0m6 1h0m-5 1h0m39 0h0m-38 1h0m1 0h0m5 1h0m4 0h0m10 0h0m-19 1h0m18 0h0m14 0h0m-4 1h0m-25 1h0m7 0h0m-5 1h0m14 0h0m-16 1h0m1 0h0m17 0h0m-6 1h0m9 1h0m-1 2h0m3 0h0" stroke="#008aff" stroke-width="2.20" stroke-linecap="square" fill="none" transform="scale(0.5)"/>
<path d="M365 67h0m15 14h0m-1 1h0m-3 3h0m-14 1h0m12 0h0m7 2h0m-1 1h0m6 0h0m1 0h0m-12 1h0m1 0h0m17 0h0m-15 1h0m-4 1h0m3 0h0m-19 4h0m3 2h0m-3 1h0m2 0h0m-3 1h0m5 1h0m17 0h0m-21 1h0m2 0h0m21 1h0m-3 1h0m1 0h0m-27 6h0m1 1h0m6 1h0m-3 2h0m27 0h0" stroke="#00b6ff" stroke-width="2.20" stroke-linecap="square" fill="none" transform="scale(0.5)"/>
<path d="M372 69h0m0 0h0m-22 7h0m33 11h0m-6 3h0m-5 1h0m-10 8h0m-5 1h0m24 1h0m-23 1h0m3 4h0m19 0h0m1 0h0m-21 1h0m18 0h0m-25 6h0" stroke="#00e3ff" stroke-width="2.20" stroke-linecap="square" fill="none" transform="scale(0.5)"/>
<path d="M352 75h0m0 8h0m4 12h0m3 2h0m3 0h0m17 7h0m0 0h0m-18 2h0m17 0h0m3 0h0m-3 1h0m1 1h0" stroke="#10ffee" stroke-width="2.20" stroke-linecap="square" fill="none" transform="scale(0.5)"/>
<path d="M359 92h0m7 1h0m-3 1h0m-2 1h0m-3 11h0m21 1h0m0 1h0m1 0h0m-1 1h0" stroke="#3cffc2" stroke-width="2.20" stroke-linecap="square" fill="none" transform="scale(0.5)"/>
<path d="M361 91h0m4 2h0" stroke="#69ff95" stroke-width="2.20" stroke-linecap="square" fill="none" transform="scale(0.5)"/>
<path d="M369 81h0m1 0h0m-2 1h0m3 0h0m20 2h0" stroke="#95ff69" stroke-width="2.20" stroke-linecap="square" fill="none" transform="scale(0.5)"/>
<path d="M369 86h0" stroke="#c2ff3c" stroke-width="2.20" stroke-linecap="square" fill="none" transform="scale(0.5)"/>
<path d="M388 84h0m0 2h0" stroke="#eeff10" stroke-width="2.20" stroke-linecap="square" fill="none" transform="scale(0.5)"/>
<path d="M388 84h0" stroke="#ffe300" stroke-width="2.20" stroke-linecap="square" fill="none" transform="scale(0.5)"/>
</g>
<rect x="201.80" y="30.80" width="3.30" height="33.60" fill="url(#jet)"/>
<line x1="205.10" y1="31.50" x2="206.10" y2="31.50" stroke="#555" stroke-width="0.4"/>
<text x="206.30" y="32.70" font-size="3.4" fill="#666">276.7</text>
<line x1="205.10" y1="39.65" x2="206.10" y2="39.65" stroke="#555" stroke-width="0.4"/>
<text x="206.30" y="40.85" font-size="3.4" fill="#666">65.24</text>
<line x1="205.10" y1="47.80" x2="206.10" y2="47.80" stroke="#555" stroke-width="0.4"/>
<text x="206.30" y="49.00" font-size="3.4" fill="#666">15.06</text>
<line x1="205.10" y1="55.95" x2="206.10" y2="55.95" stroke="#555" stroke-width="0.4"/>
<text x="206.30" y="57.15" font-size="3.4" fill="#666">3.338</text>
<line x1="205.10" y1="64.10" x2="206.10" y2="64.10" stroke="#555" stroke-width="0.4"/>
<text x="206.30" y="65.30" font-size="3.4" fill="#666">0</text>
<rect x="167.90" y="82.30" width="32.80" height="33.40" fill="#fff" stroke="#b5b5b5" stroke-width="0.8"/>
<path d="M165.50 116.10h2M167.50 116.10v2M165.50 113.18h2M170.37 116.10v2M165.50 110.25h2M173.24 116.10v2M165.50 107.33h2M176.12 116.10v2M165.50 104.41h2M178.99 116.10v2M165.50 101.48h2M181.86 116.10v2M165.50 98.56h2M184.73 116.10v2M165.50 95.64h2M187.60 116.10v2M165.50 92.72h2M190.47 116.10v2M165.50 89.79h2M193.35 116.10v2M165.50 86.87h2M196.22 116.10v2M165.50 83.95h2M199.09 116.10v2" stroke="#666" stroke-width="0.6"/>
<g filter="url(#bl)">
<path d="M359 180h0m8 0h0m3 0h0m-5 1h0m1 3h0m21 4h0m-2 4h0m4 2h0m1 21h0" stroke="#0005ff" stroke-width="2.20" stroke-linecap="square" fill="none" transform="scale(0.5)"/>
<path d="M365 178h0m-5 1h0m1 0h0m7 0h0m-3 1h0m-2 1h0m2 0h0m3 0h0m-5 2h0m2 0h0m2 0h0m-5 1h0m7 0h0m13 0h0m-10 2h0m2 0h0m15 0h0m-23 1h0m14 0h0m5 1h0m-2 1h0m-11 2h0m9 0h0m4 0h0m2 0h0m-14 1h0m9 0h0m3 0h0m4 1h0m-19 1h0m14 0h0m2 0h0m3 0h0m3 0h0m-18 1h0m16 0h0m-4 1h0m7 0h0m-7 1h0m4 0h0m-36 1h0m4 0h0m27 0h0m1 0h0m5 1h0m1 0h0m-8 1h0m3 1h0m-22 1h0m16 1h0m9 0h0m-9 2h0m9 0h0m5 1h0m-3 1h0m-10 2h0m4 0h0m-5 1h0m8 0h0m2 0h0m1 1h0m-7 1h0m6 0h0m-7 1h0m2 0h0m-2 2h0" stroke="#0031ff" stroke-width="2.20" stroke-linecap="square" fill="none" transform="scale(0.5)"/>
<path d="M359 178h0m21 0h0m-21 1h0m2 0h0m2 0h0m4 0h0m1 0h0m-9 1h0m16 0h0m-12 1h0m2 0h0m3 0h0m1 0h0m2 1h0m-12 1h0m7 0h0m-10 1h0m7 0h0m11 0h0m1 0h0m3 0h0m4 0h0m-19 1h0m0 0h0m4 0h0m8 0h0m9 0h0m0 0h0m1 0h0m1 0h0m-29 1h0m9 0h0m6 0h0m6 0h0m6 0h0m2 0h0m-27 1h0m2 0h0m11 0h0m15 0h0m1 0h0m0 0h0m1 0h0m-21 1h0m1 0h0m0 0h0m8 0h0m0 0h0m6 0h0m-2 1h0m1 0h0m-9 1h0m15 0h0m3 0h0m0 0h0m1 0h0m-26 1h0m3 0h0m3 0h0m-15 1h0m12 1h0m19 0h0m-4 1h0m1 0h0m-29 1h0m23 0h0m7 0h0m3 0h0m1 0h0m1 0h0m1 0h0m-19 1h0m3 0h0m7 0h0m-15 1h0m1 0h0m8 0h0m6 0h0m-1 1h0m5 0h0m-21 1h0m19 0h0m10 0h0m-28 1h0m1 0h0m15 0h0m10 0h0m-31 1h0m1 0h0m3 0h0m6 0h0m7 0h0m1 0h0m7 0h0m7 0h0m0 0h0m-37 1h0m11 0h0m11 0h0m7 0h0m7 0h0m-28 1h0m9 0h0m0 0h0m12 0h0m2 0h0m-32 1h0m13 0h0m10 0h0m1 0h0m11 0h0m1 0h0m1 0h0m-11 1h0m-18 1h0m24 0h0m-32 2h0m3 0h0m28 0h0m-31 1h0m29 0h0m0 0h0m0 0h0m5 0h0m1 0h0m-29 1h0m1 0h0m7 0h0m-8 1h0m15 0h0m6 0h0m-1 1h0m5 0h0m-26 1h0m25 0h0m-30 1h0m0 0h0m7 3h0m2 1h0m19 0h0m-18 2h0" stroke="#005eff" stroke-width="2.20" stroke-linecap="square" fill="none" transform="scale(0.5)"/>
<path d="M350 179h0m21 0h0m3 0h0m6 2h0m3 0h0m-36 1h0m9 0h0m17 0h0m8 1h0m6 0h0m-20 1h0m14 0h0m3 0h0m-27 1h0m20 0h0m9 0h0m-31 1h0m25 0h0m2 0h0m6 0h0m-28 1h0m3 0h0m6 0h0m11 0h0m-16 1h0m6 0h0m10 0h0m4 0h0m-29 1h0m4 0h0m24 0h0m-13 2h0m14 0h0m10 0h0m-36 1h0m7 0h0m3 0h0m1 0h0m9 0h0m8 0h0m5 0h0m-30 1h0m32 0h0m-38 1h0m30 0h0m-29 1h0m18 0h0m2 0h0m4 0h0m2 0h0m12 0h0m-32 1h0m5 0h0m24 0h0m-41 1h0m6 0h0m0 0h0m4 0h0m1 0h0m3 0h0m0 0h0m3 0h0m6 0h0m16 0h0m7 0h0m-40 1h0m5 0h0m10 0h0m24 0h0m-46 1h0m1 0h0m2 0h0m4 0h0m7 0h0m8 0h0m6 0h0m3 0h0m16 0h0m-51 1h0m24 0h0m0 0h0m0 0h0m7 0h0m4 0h0m-34 1h0m3 0h0m20 0h0m0 0h0m1 0h0m-22 1h0m3 0h0m1 0h0m6 0h0m5 0h0m6 0h0m2 0h0m9 0h0m15 0h0m-48 1h0m5 0h0m3 0h0m2 0h0m9 0h0m18 0h0m9 0h0m3 0h0m-44 1h0m14 0h0m12 0h0m5 0h0m12 0h0m-47 1h0m14 0h0m0 0h0m3 0h0m3 0h0m26 0h0m-28 1h0m1 0h0m16 0h0m-35 1h0m10 0h0m11 0h0m17 0h0m-29 1h0m6 0h0m7 0h0m0 0h0m3 0h0m0 0h0m9 0h0m11 0h0m-23 1h0m10 0h0m-25 1h0m36 0h0m-41 1h0m0 0h0m16 0h0m13 0h0m2 0h0m1 0h0m-25 1h0m5 0h0m1 0h0m0 0h0m11 0h0m9 0h0m-32 1h0m0 0h0m12 0h0m2 0h0m25 0h0m-20 1h0m5 0h0m-11 1h0m22 0h0m-26 1h0m8 1h0m-10 1h0m0 0h0m0 0h0m9 0h0m3 1h0m-8 1h0m6 0h0m6 0h0m2 0h0m-13 1h0m4 0h0m7 0h0m1 0h0m1 1h0m-3 1h0m-8 1h0m4 0h0m-7 1h0m2 0h0m0 0h0" stroke="#008aff" stroke-width="2.20" stroke-linecap="square" fill="none" transform="scale(0.5)"/>
<path d="M375 178h0m-25 1h0m26 0h0m-7 2h0m11 0h0m3 0h0m1 0h0m-34 1h0m2 0h0m19 0h0m-19 1h0m17 0h0m-16 1h0m31 0h0m-30 1h0m27 0h0m8 1h0m-45 1h0m5 1h0m6 0h0m9 0h0m-20 2h0m16 0h0m-14 2h0m2 1h0m6 0h0m3 0h0m-14 1h0m22 0h0m12 1h0m17 0h0m-51 2h0m2 0h0m7 1h0m0 0h0m1 0h0m11 0h0m2 0h0m-20 1h0m3 0h0m1 0h0m16 0h0m12 0h0m16 0h0m-51 1h0m4 0h0m34 0h0m12 0h0m-35 1h0m5 0h0m-16 1h0m1 0h0m3 0h0m14 1h0m11 0h0m-30 1h0m1 0h0m6 0h0m1 0h0m22 0h0m-22 1h0m13 0h0m0 0h0m-20 1h0m1 0h0m1 0h0m6 0h0m4 1h0m9 0h0m11 0h0m-20 1h0m19 0h0m-19 1h0m13 0h0m5 0h0m-23 1h0m-3 1h0m6 0h0m1 0h0m0 0h0m3 0h0m7 0h0m9 0h0m5 0h0m-20 1h0m-5 1h0m1 0h0m2 0h0m11 0h0m-11 1h0m6 0h0m1 0h0m8 0h0m2 0h0m3 0h0m-24 1h0m3 0h0m10 0h0m-14 1h0m6 0h0m3 0h0m3 0h0m1 0h0m3 0h0m1 0h0m7 0h0m-18 1h0m9 0h0m3 0h0m5 0h0m2 0h0m-11 1h0m1 0h0m1 0h0m-6 1h0m1 0h0m3 0h0m8 0h0m-17 1h0m11 0h0m3 0h0m-7 1h0m2 0h0m2 0h0m3 0h0m-3 1h0m-4 1h0m1 1h0m1 0h0" stroke="#00b6ff" stroke-width="2.20" stroke-linecap="square" fill="none" transform="scale(0.5)"/>
<path d="M366 170h0m2 2h0m1 0h0m-2 1h0m-6 1h0m3 1h0m1 1h0m1 1h0m1 0h0m-4 1h0m-11 2h0m-1 14h0m44 0h0m-50 2h0m14 2h0m-15 1h0m1 3h0m7 2h0m-2 1h0m6 1h0m-1 1h0m3 1h0m12 2h0m-21 1h0m22 0h0m2 0h0m5 0h0m-5 1h0m-12 3h0m0 0h0m4 1h0m8 2h0m-7 2h0" stroke="#00e3ff" stroke-width="2.20" stroke-linecap="square" fill="none" transform="scale(0.5)"/>
<path d="M366 169h0m-7 1h0m9 0h0m-7 2h0m3 0h0m6 0h0m1 0h0m1 0h0m-17 1h0m9 0h0m2 1h0m1 0h0m3 0h0m-10 1h0m2 0h0m3 0h0m4 0h0m4 0h0m-22 1h0m6 0h0m12 0h0m8 0h0m-6 1h0m0 0h0m-26 12h0m16 24h0" stroke="#10ffee" stroke-width="2.20" stroke-linecap="square" fill="none" transform="scale(0.5)"/>
<path d="M363 170h0m6 0h0m0 0h0m-2 1h0m-11 1h0m15 0h0m-16 1h0m3 0h0m-1 1h0m2 0h0m4 0h0m1 0h0m12 0h0m1 0h0m1 0h0m-21 1h0m14 0h0m1 0h0m0 0h0m2 0h0m-11 1h0m5 0h0m5 0h0m2 0h0m4 1h0m0 0h0m0 0h0" stroke="#3cffc2" stroke-width="2.20" stroke-linecap="square" fill="none" transform="scale(0.5)"/>
<path d="M371 173h0m6 0h0m3 5h0" stroke="#69ff95" stroke-width="2.20" stroke-linecap="square" fill="none" transform="scale(0.5)"/>
<path d="M381 187h0m9 1h0" stroke="#ffb600" stroke-width="2.20" stroke-linecap="square" fill="none" transform="scale(0.5)"/>
<path d="M365 183h0m3 2h0m-2 4h0m12 5h0m5 16h0m-7 2h0m-19 1h0m33 0h0m-13 1h0m-18 6h0" stroke="#ff8a00" stroke-width="2.20" stroke-linecap="square" fill="none" transform="scale(0.5)"/>
<path d="M354 185h0m17 0h0m19 2h0m-43 1h0m22 5h0m10 0h0m-18 3h0m-15 2h0m-2 3h0m24 0h0m26 2h0m-33 1h0m29 0h0m-11 5h0m-15 5h0m2 1h0m0 2h0" stroke="#ff5e00" stroke-width="2.20" stroke-linecap="square" fill="none" transform="scale(0.5)"/>
<path d="M355 180h0m13 0h0m14 4h0m10 7h0m-5 1h0m0 3h0m-26 3h0m7 12h0m13 1h0m-18 1h0m1 7h0m7 0h0" stroke="#ff3100" stroke-width="2.20" stroke-linecap="square" fill="none" transform="scale(0.5)"/>
</g>
<rect x="201.80" y="82.40" width="3.30" height="33.60" fill="url(#jet)"/>
<line x1="205.10" y1="83.10" x2="206.10" y2="83.10" stroke="#555" stroke-width="0.4"/>
<text x="206.30" y="84.30" font-size="3.4" fill="#666">276.7</text>
<line x1="205.10" y1="91.25" x2="206.10" y2="91.25" stroke="#555" stroke-width="0.4"/>
<text x="206.30" y="92.45" font-size="3.4" fill="#666">65.24</text>
<line x1="205.10" y1="99.40" x2="206.10" y2="99.40" stroke="#555" stroke-width="0.4"/>
<text x="206.30" y="100.60" font-size="3.4" fill="#666">15.06</text>
<line x1="205.10" y1="107.55" x2="206.10" y2="107.55" stroke="#555" stroke-width="0.4"/>
<text x="206.30" y="108.75" font-size="3.4" fill="#666">3.338</text>
<line x1="205.10" y1="115.70" x2="206.10" y2="115.70" stroke="#555" stroke-width="0.4"/>
<text x="206.30" y="116.90" font-size="3.4" fill="#666">0</text>
<text x="235.60" y="25.90" font-size="10.1" fill="#111" text-anchor="middle" textLength="23.20" lengthAdjust="spacingAndGlyphs" stroke="#111" stroke-width="0.15">CD25</text>
<rect x="217.65" y="30.70" width="32.80" height="33.40" fill="#fff" stroke="#b5b5b5" stroke-width="0.8"/>
<path d="M215.25 64.50h2M217.25 64.50v2M215.25 61.58h2M220.12 64.50v2M215.25 58.65h2M222.99 64.50v2M215.25 55.73h2M225.87 64.50v2M215.25 52.81h2M228.74 64.50v2M215.25 49.88h2M231.61 64.50v2M215.25 46.96h2M234.48 64.50v2M215.25 44.04h2M237.35 64.50v2M215.25 41.12h2M240.22 64.50v2M215.25 38.19h2M243.10 64.50v2M215.25 35.27h2M245.97 64.50v2M215.25 32.35h2M248.84 64.50v2" stroke="#666" stroke-width="0.6"/>
<g filter="url(#bl)">
<path d="M464 86h0" stroke="#0000d8" stroke-width="2.20" stroke-linecap="square" fill="none" transform="scale(0.5)"/>
<path d="M462 94h0" stroke="#0005ff" stroke-width="2.20" stroke-linecap="square" fill="none" transform="scale(0.5)"/>
<path d="M461 85h0m3 1h0m2 2h0m-6 2h0m6 1h0" stroke="#0031ff" stroke-width="2.20" stroke-linecap="square" fill="none" transform="scale(0.5)"/>
<path d="M467 91h0" stroke="#005eff" stroke-width="2.20" stroke-linecap="square" fill="none" transform="scale(0.5)"/>
<path d="M469 84h0m-10 1h0m10 1h0m-2 2h0m-25 8h0m27 5h0m0 0h0m0 3h0m2 0h0m-2 2h0m1 11h0" stroke="#69ff95" stroke-width="2.20" stroke-linecap="square" fill="none" transform="scale(0.5)"/>
<path d="M454 83h0m11 0h0m3 0h0m3 1h0m-1 2h0m-3 1h0m4 0h0m1 0h0m-21 1h0m18 0h0m-21 1h0m-3 2h0m4 2h0m18 9h0m5 2h0m-1 1h0m-6 2h0m5 0h0m0 0h0m-1 2h0m1 1h0m1 0h0m-9 10h0m2 2h0" stroke="#95ff69" stroke-width="2.20" stroke-linecap="square" fill="none" transform="scale(0.5)"/>
<path d="M457 84h0m0 1h0m-5 3h0m19 1h0m-26 2h0m2 0h0m-1 2h0m3 1h0m1 2h0m17 6h0m3 0h0m-7 1h0m1 1h0m0 0h0m3 1h0m2 1h0m-7 1h0m1 1h0m-2 1h0m7 1h0m1 0h0m1 0h0m-5 4h0m5 0h0m-2 2h0m2 0h0m-3 1h0m-2 1h0m-5 2h0m2 0h0m9 0h0m-3 1h0m2 0h0m-5 2h0" stroke="#c2ff3c" stroke-width="2.20" stroke-linecap="square" fill="none" transform="scale(0.5)"/>
<path d="M453 83h0m-8 12h0m20 5h0m-1 3h0m-4 3h0m4 0h0m-2 1h0m1 0h0m3 0h0m0 0h0m0 1h0m1 0h0m1 0h0m-5 1h0m0 1h0m4 0h0m-3 1h0m2 4h0m1 0h0m1 0h0m-3 1h0m3 0h0m2 2h0m1 3h0m-5 1h0" stroke="#eeff10" stroke-width="2.20" stroke-linecap="square" fill="none" transform="scale(0.5)"/>
<path d="M447 93h0m41 3h0m1 1h0m-14 5h0m-11 1h0m-2 3h0m2 1h0m0 2h0m2 5h0m1 1h0m-2 3h0m0 2h0" stroke="#ffe300" stroke-width="2.20" stroke-linecap="square" fill="none" transform="scale(0.5)"/>
<path d="M473 80h0m5 8h0m-10 3h0m8 1h0m4 1h0m-2 1h0m-5 2h0m-1 3h0m0 4h0m3 4h0m-21 7h0" stroke="#ffb600" stroke-width="2.20" stroke-linecap="square" fill="none" transform="scale(0.5)"/>
<path d="M464 71h0m2 1h0m-5 1h0m3 1h0m11 2h0m-14 3h0m1 0h0m2 0h0m2 0h0m3 0h0m2 1h0m5 4h0m1 1h0m14 1h0m-5 2h0m-4 1h0m2 0h0m-7 2h0m2 0h0m7 0h0m-14 1h0m12 0h0m-3 1h0m-10 1h0m5 1h0m2 1h0m-35 2h0m25 0h0m20 0h0m-11 1h0m2 0h0m-8 1h0m2 2h0m9 0h0m4 2h0m-8 1h0m2 0h0m-7 1h0m0 0h0m1 1h0m1 0h0m-21 2h0m18 0h0m6 0h0m2 0h0m-7 1h0m4 0h0m2 3h0m-4 4h0" stroke="#ff8a00" stroke-width="2.20" stroke-linecap="square" fill="none" transform="scale(0.5)"/>
<path d="M459 70h0m-5 2h0m16 2h0m-12 1h0m-4 2h0m9 1h0m-4 1h0m25 0h0m-16 1h0m8 0h0m-31 1h0m40 1h0m-7 1h0m1 0h0m-2 2h0m-2 1h0m8 0h0m7 0h0m0 0h0m-9 1h0m2 0h0m0 0h0m1 0h0m-27 1h0m23 0h0m3 1h0m2 0h0m2 0h0m-3 1h0m1 0h0m-2 1h0m-8 1h0m2 0h0m0 1h0m12 0h0m-35 1h0m38 0h0m-18 1h0m9 0h0m2 0h0m-22 1h0m5 0h0m11 0h0m-30 1h0m17 0h0m12 0h0m17 0h0m-36 1h0m8 0h0m1 0h0m3 0h0m24 0h0m-24 1h0m13 0h0m1 0h0m-37 1h0m4 0h0m20 0h0m6 0h0m5 0h0m3 0h0m-13 1h0m15 0h0m7 0h0m-17 1h0m18 0h0m-49 1h0m28 0h0m10 0h0m5 0h0m-38 1h0m28 0h0m4 0h0m-35 1h0m1 0h0m4 0h0m34 0h0m7 0h0m-39 1h0m22 0h0m10 0h0m2 0h0m-37 1h0m21 0h0m3 0h0m10 0h0m-30 1h0m23 0h0m-23 1h0m15 0h0m1 0h0m4 0h0m-19 1h0m2 0h0m13 0h0m3 0h0m6 0h0m-22 1h0m14 0h0m3 0h0m2 0h0m-21 1h0m3 0h0m13 0h0m2 0h0m2 0h0m-19 1h0m2 0h0m10 0h0m-9 1h0m10 0h0m-17 1h0m18 0h0m9 0h0m-6 1h0m0 0h0m-1 2h0m-3 1h0" stroke="#ff5e00" stroke-width="2.20" stroke-linecap="square" fill="none" transform="scale(0.5)"/>
<path d="M469 67h0m-2 5h0m-5 1h0m3 0h0m-12 2h0m27 0h0m-11 3h0m11 1h0m-4 1h0m3 2h0m12 6h0m-6 1h0m7 0h0m-37 1h0m36 0h0m-34 2h0m19 0h0m7 0h0m4 0h0m6 0h0m-10 1h0m1 0h0m7 0h0m-22 1h0m14 0h0m1 0h0m2 0h0m6 0h0m3 1h0m-36 1h0m6 0h0m2 0h0m26 0h0m3 0h0m-49 1h0m12 0h0m2 0h0m5 0h0m12 0h0m11 0h0m-36 1h0m16 0h0m12 0h0m-23 1h0m24 0h0m-19 1h0m20 0h0m0 0h0m2 0h0m6 0h0m-37 1h0m28 0h0m0 0h0m4 0h0m3 0h0m1 0h0m2 1h0m1 0h0m-40 2h0m24 0h0m4 0h0m2 0h0m11 0h0m-40 1h0m30 0h0m3 0h0m3 0h0m-41 1h0m34 0h0m-4 1h0m-25 1h0m18 0h0m7 0h0m13 0h0m-16 2h0m9 0h0m4 0h0m-31 1h0m16 0h0m-11 2h0m20 0h0m-1 1h0m-26 1h0m19 0h0m-14 1h0m10 0h0m2 0h0m11 0h0m-26 1h0m16 0h0m0 0h0m-14 1h0m0 0h0m14 0h0m2 1h0" stroke="#ff3100" stroke-width="2.20" stroke-linecap="square" fill="none" transform="scale(0.5)"/>
<path d="M453 77h0m1 0h0m33 4h0m0 1h0m0 2h0m-3 1h0m1 5h0m-15 3h0m26 0h0m-30 3h0m-8 4h0m-11 1h0m43 0h0m7 0h0m-51 1h0m46 0h0m-3 1h0m-3 3h0m4 3h0m-32 1h0m4 1h0m-3 4h0m-1 1h0m2 0h0m-3 3h0" stroke="#ff0500" stroke-width="2.20" stroke-linecap="square" fill="none" transform="scale(0.5)"/>
<path d="M450 97h0m37 0h0m-43 2h0m8 1h0" stroke="#d80000" stroke-width="2.20" stroke-linecap="square" fill="none" transform="scale(0.5)"/>
</g>
<rect x="251.55" y="30.80" width="3.30" height="33.60" fill="url(#jet)"/>
<line x1="254.85" y1="31.50" x2="255.85" y2="31.50" stroke="#555" stroke-width="0.4"/>
<text x="256.05" y="32.70" font-size="3.4" fill="#666">2375</text>
<line x1="254.85" y1="39.65" x2="255.85" y2="39.65" stroke="#555" stroke-width="0.4"/>
<text x="256.05" y="40.85" font-size="3.4" fill="#666">466</text>
<line x1="254.85" y1="47.80" x2="255.85" y2="47.80" stroke="#555" stroke-width="0.4"/>
<text x="256.05" y="49.00" font-size="3.4" fill="#666">92.94</text>
<line x1="254.85" y1="55.95" x2="255.85" y2="55.95" stroke="#555" stroke-width="0.4"/>
<text x="256.05" y="57.15" font-size="3.4" fill="#666">15.11</text>
<line x1="254.85" y1="64.10" x2="255.85" y2="64.10" stroke="#555" stroke-width="0.4"/>
<text x="256.05" y="65.30" font-size="3.4" fill="#666">-0.747</text>
<rect x="217.65" y="82.30" width="32.80" height="33.40" fill="#fff" stroke="#b5b5b5" stroke-width="0.8"/>
<path d="M215.25 116.10h2M217.25 116.10v2M215.25 113.18h2M220.12 116.10v2M215.25 110.25h2M222.99 116.10v2M215.25 107.33h2M225.87 116.10v2M215.25 104.41h2M228.74 116.10v2M215.25 101.48h2M231.61 116.10v2M215.25 98.56h2M234.48 116.10v2M215.25 95.64h2M237.35 116.10v2M215.25 92.72h2M240.22 116.10v2M215.25 89.79h2M243.10 116.10v2M215.25 86.87h2M245.97 116.10v2M215.25 83.95h2M248.84 116.10v2" stroke="#666" stroke-width="0.6"/>
<g filter="url(#bl)">
<path d="M462 194h0m-3 4h0" stroke="#00e3ff" stroke-width="2.20" stroke-linecap="square" fill="none" transform="scale(0.5)"/>
<path d="M445 187h0m18 5h0m-5 2h0m4 0h0m2 0h0m-8 1h0m1 0h0m3 1h0m2 0h0" stroke="#10ffee" stroke-width="2.20" stroke-linecap="square" fill="none" transform="scale(0.5)"/>
<path d="M444 189h0m6 0h0m12 1h0m-19 1h0m2 1h0m13 0h0m1 0h0m-16 1h0m16 0h0m-16 1h0m18 0h0m-19 1h0m17 0h0m1 0h0m-12 1h0m0 0h0m-3 1h0m1 0h0m2 1h0" stroke="#3cffc2" stroke-width="2.20" stroke-linecap="square" fill="none" transform="scale(0.5)"/>
<path d="M449 187h0m2 0h0m0 2h0m-6 1h0m2 1h0m2 1h0m-7 1h0m0 1h0m0 0h0m3 0h0m5 0h0m-4 1h0m1 0h0m5 0h0m-8 1h0m0 0h0m4 1h0m2 0h0m-8 1h0m3 1h0m0 0h0m-2 1h0m3 1h0m3 2h0m-4 1h0" stroke="#69ff95" stroke-width="2.20" stroke-linecap="square" fill="none" transform="scale(0.5)"/>
<path d="M455 171h0m6 1h0m-14 13h0m0 6h0m4 3h0m-5 1h0m2 0h0m0 0h0m0 0h0m1 0h0m-2 3h0m0 0h0m-3 1h0m0 1h0m2 0h0m-2 1h0m2 0h0m0 0h0m3 0h0m-1 1h0m-4 1h0m6 0h0m1 2h0" stroke="#95ff69" stroke-width="2.20" stroke-linecap="square" fill="none" transform="scale(0.5)"/>
<path d="M457 170h0m-2 1h0m4 1h0m-7 24h0m-2 1h0m-4 2h0m6 0h0m-2 2h0m-5 1h0m0 0h0m3 0h0m2 0h0m0 2h0m1 3h0m-3 1h0m0 2h0m1 0h0m7 7h0m1 0h0" stroke="#c2ff3c" stroke-width="2.20" stroke-linecap="square" fill="none" transform="scale(0.5)"/>
<path d="M460 171h0m-2 1h0m25 19h0m-26 27h0" stroke="#eeff10" stroke-width="2.20" stroke-linecap="square" fill="none" transform="scale(0.5)"/>
<path d="M450 177h0m11 2h0m-7 1h0m0 5h0m20 1h0m2 5h0m6 0h0m-5 1h0m3 1h0m-3 4h0m-13 8h0m20 9h0m-25 2h0" stroke="#ffe300" stroke-width="2.20" stroke-linecap="square" fill="none" transform="scale(0.5)"/>
<path d="M451 176h0m3 0h0m2 1h0m8 0h0m3 0h0m-16 2h0m2 1h0m1 1h0m2 0h0m9 0h0m-20 1h0m2 0h0m3 0h0m20 1h0m-17 1h0m-1 1h0m32 0h0m-12 2h0m3 0h0m5 0h0m-10 1h0m10 0h0m12 0h0m-12 2h0m5 0h0m4 0h0m-16 1h0m5 0h0m3 0h0m2 0h0m9 0h0m-8 1h0m3 0h0m2 0h0m-34 1h0m24 0h0m6 0h0m-16 1h0m13 0h0m2 0h0m8 0h0m-20 1h0m19 0h0m-16 1h0m5 1h0m3 0h0m6 0h0m-21 1h0m16 0h0m-31 1h0m31 1h0m-17 1h0m-11 1h0m14 0h0m6 1h0m-1 1h0m-8 5h0m12 2h0m-22 3h0m33 0h0" stroke="#ffb600" stroke-width="2.20" stroke-linecap="square" fill="none" transform="scale(0.5)"/>
<path d="M456 172h0m7 0h0m-9 1h0m3 0h0m1 1h0m8 0h0m3 1h0m-17 1h0m6 0h0m1 0h0m4 0h0m-12 1h0m3 0h0m6 0h0m4 0h0m0 0h0m1 0h0m3 0h0m-19 1h0m1 0h0m2 0h0m2 0h0m3 0h0m1 0h0m1 0h0m6 0h0m2 0h0m3 0h0m14 0h0m-28 1h0m2 0h0m1 0h0m4 0h0m3 0h0m-18 1h0m5 0h0m3 0h0m0 0h0m1 0h0m-4 1h0m-7 1h0m9 0h0m6 0h0m5 0h0m1 0h0m17 0h0m-34 1h0m8 0h0m8 0h0m0 0h0m-10 1h0m11 0h0m12 0h0m2 0h0m-26 2h0m8 0h0m9 0h0m-15 1h0m1 0h0m7 0h0m4 0h0m-17 1h0m3 0h0m0 0h0m1 0h0m27 0h0m-3 1h0m0 0h0m-25 1h0m31 0h0m4 0h0m-38 1h0m17 0h0m3 0h0m17 0h0m-35 1h0m12 0h0m0 0h0m12 0h0m9 0h0m-11 1h0m12 0h0m4 0h0m3 0h0m-40 1h0m17 0h0m7 0h0m1 0h0m2 0h0m4 0h0m-15 1h0m4 0h0m-21 1h0m12 0h0m0 0h0m2 0h0m0 0h0m5 0h0m10 0h0m1 0h0m5 0h0m5 0h0m-39 1h0m23 0h0m2 0h0m2 0h0m4 0h0m-14 1h0m12 0h0m-25 1h0m3 0h0m25 0h0m2 0h0m-34 1h0m6 1h0m4 0h0m1 0h0m1 0h0m13 0h0m1 0h0m-27 1h0m1 0h0m22 0h0m2 0h0m-21 1h0m13 0h0m6 0h0m5 0h0m6 0h0m-31 1h0m3 0h0m2 0h0m11 0h0m5 0h0m-16 1h0m-1 1h0m2 0h0m2 0h0m3 0h0m13 0h0m4 0h0m-33 1h0m12 0h0m4 0h0m3 1h0m18 0h0m-28 1h0m-4 1h0m27 0h0m3 0h0m-7 1h0m2 1h0m-26 1h0m31 0h0m0 0h0m-28 2h0m6 0h0m0 0h0m20 0h0m1 0h0m0 1h0m-4 2h0m-21 3h0m9 0h0m7 1h0m-14 1h0m4 1h0m2 0h0" stroke="#ff8a00" stroke-width="2.20" stroke-linecap="square" fill="none" transform="scale(0.5)"/>
<path d="M465 168h0m-3 1h0m3 1h0m8 1h0m-6 1h0m-13 1h0m3 0h0m11 0h0m6 0h0m3 0h0m-14 1h0m0 0h0m6 0h0m2 0h0m-4 1h0m1 0h0m1 0h0m11 0h0m-24 1h0m15 0h0m-19 1h0m14 0h0m4 0h0m-9 1h0m2 0h0m1 0h0m0 2h0m2 0h0m-6 1h0m4 0h0m2 0h0m7 0h0m-24 1h0m10 0h0m3 0h0m4 0h0m1 0h0m-22 1h0m16 0h0m5 0h0m3 0h0m0 0h0m2 0h0m1 0h0m3 0h0m5 0h0m0 0h0m-10 1h0m17 0h0m0 0h0m-19 1h0m1 0h0m7 0h0m-21 1h0m-1 1h0m6 0h0m-4 1h0m3 0h0m11 0h0m-18 1h0m3 0h0m0 0h0m1 0h0m3 1h0m7 1h0m-10 2h0m29 0h0m2 0h0m2 0h0m-36 2h0m3 0h0m21 0h0m3 0h0m5 0h0m7 0h0m2 1h0m-22 1h0m12 0h0m7 0h0m-38 1h0m4 0h0m1 0h0m28 0h0m5 0h0m-37 1h0m33 0h0m5 0h0m-8 1h0m0 0h0m5 0h0m4 0h0m-38 1h0m6 0h0m17 0h0m7 0h0m6 0h0m2 0h0m-36 1h0m24 0h0m7 0h0m-17 1h0m25 0h0m-43 1h0m20 0h0m1 0h0m11 0h0m2 0h0m1 0h0m0 0h0m3 0h0m2 1h0m-23 1h0m1 0h0m13 0h0m1 0h0m4 0h0m-36 1h0m14 0h0m1 0h0m12 0h0m-26 1h0m7 0h0m5 0h0m15 0h0m1 0h0m2 0h0m6 0h0m-5 1h0m-30 1h0m8 0h0m25 0h0m-35 1h0m2 0h0m6 0h0m21 0h0m-4 1h0m0 0h0m-26 1h0m1 1h0m3 0h0m1 0h0m18 0h0m7 0h0m0 1h0m-27 1h0m10 0h0m3 0h0m3 0h0m5 0h0m5 0h0m0 0h0m-17 1h0m4 0h0m2 0h0m2 0h0m3 0h0m5 0h0m-8 1h0m-12 1h0m8 0h0m4 0h0m7 0h0m-16 1h0m13 0h0m4 0h0m-21 2h0m5 0h0m3 0h0m6 0h0m-11 1h0m1 0h0m8 0h0m2 0h0m-8 1h0m5 0h0m-7 1h0m6 1h0" stroke="#ff5e00" stroke-width="2.20" stroke-linecap="square" fill="none" transform="scale(0.5)"/>
<path d="M463 169h0m7 1h0m-8 1h0m1 2h0m3 0h0m3 0h0m1 0h0m-3 1h0m13 0h0m-22 1h0m3 0h0m5 0h0m5 0h0m2 0h0m2 0h0m1 0h0m-1 1h0m1 0h0m-6 1h0m-2 2h0m-12 1h0m19 0h0m-7 1h0m10 0h0m5 0h0m2 0h0m-3 1h0m1 0h0m-9 1h0m-14 1h0m-1 2h0m6 0h0m3 0h0m-7 2h0m4 0h0m0 1h0m-9 1h0m35 6h0m-8 1h0m14 3h0m-7 1h0m2 0h0m-15 1h0m11 0h0m2 0h0m-34 1h0m18 0h0m10 0h0m2 0h0m-33 1h0m29 0h0m1 0h0m-6 1h0m7 0h0m6 0h0m-37 1h0m39 0h0m2 0h0m-40 1h0m25 0h0m13 0h0m-35 1h0m19 0h0m-23 1h0m3 0h0m7 0h0m-9 1h0m4 1h0m15 1h0m-21 1h0m4 0h0m8 0h0m4 2h0m4 0h0m2 0h0m5 0h0m3 0h0m-12 1h0m13 0h0m-14 1h0m7 1h0m3 0h0m-24 1h0m23 0h0m-21 1h0m12 0h0m3 0h0m4 1h0m-6 1h0m-9 2h0" stroke="#ff3100" stroke-width="2.20" stroke-linecap="square" fill="none" transform="scale(0.5)"/>
<path d="M476 174h0m-6 2h0m11 0h0m-3 2h0m1 0h0m-6 2h0m0 2h0m-10 3h0m0 4h0m3 0h0m23 12h0m-15 6h0m-1 7h0m3 2h0" stroke="#ff0500" stroke-width="2.20" stroke-linecap="square" fill="none" transform="scale(0.5)"/>
<path d="M474 172h0" stroke="#d80000" stroke-width="2.20" stroke-linecap="square" fill="none" transform="scale(0.5)"/>
</g>
<rect x="251.55" y="82.40" width="3.30" height="33.60" fill="url(#jet)"/>
<line x1="254.85" y1="83.10" x2="255.85" y2="83.10" stroke="#555" stroke-width="0.4"/>
<text x="256.05" y="84.30" font-size="3.4" fill="#666">2375</text>
<line x1="254.85" y1="91.25" x2="255.85" y2="91.25" stroke="#555" stroke-width="0.4"/>
<text x="256.05" y="92.45" font-size="3.4" fill="#666">466</text>
<line x1="254.85" y1="99.40" x2="255.85" y2="99.40" stroke="#555" stroke-width="0.4"/>
<text x="256.05" y="100.60" font-size="3.4" fill="#666">92.94</text>
<line x1="254.85" y1="107.55" x2="255.85" y2="107.55" stroke="#555" stroke-width="0.4"/>
<text x="256.05" y="108.75" font-size="3.4" fill="#666">15.11</text>
<line x1="254.85" y1="115.70" x2="255.85" y2="115.70" stroke="#555" stroke-width="0.4"/>
<text x="256.05" y="116.90" font-size="3.4" fill="#666">-0.747</text>
<text x="284.00" y="25.90" font-size="10.1" fill="#111" text-anchor="middle" textLength="20.50" lengthAdjust="spacingAndGlyphs" stroke="#111" stroke-width="0.15">TIM3</text>
<rect x="267.40" y="30.70" width="32.80" height="33.40" fill="#fff" stroke="#b5b5b5" stroke-width="0.8"/>
<path d="M265.00 64.50h2M267.00 64.50v2M265.00 61.58h2M269.87 64.50v2M265.00 58.65h2M272.74 64.50v2M265.00 55.73h2M275.62 64.50v2M265.00 52.81h2M278.49 64.50v2M265.00 49.88h2M281.36 64.50v2M265.00 46.96h2M284.23 64.50v2M265.00 44.04h2M287.10 64.50v2M265.00 41.12h2M289.97 64.50v2M265.00 38.19h2M292.85 64.50v2M265.00 35.27h2M295.72 64.50v2M265.00 32.35h2M298.59 64.50v2" stroke="#666" stroke-width="0.6"/>
<g filter="url(#bl)">
<path d="M554 90h0m-5 12h0" stroke="#0000ab" stroke-width="2.20" stroke-linecap="square" fill="none" transform="scale(0.5)"/>
<path d="M580 75h0m-33 11h0m2 2h0m20 1h0m-9 1h0m4 0h0m-21 2h0m10 1h0m5 0h0m9 0h0m-3 1h0m-10 2h0m-4 2h0m2 0h0m5 0h0m-3 3h0m-9 1h0" stroke="#0000d8" stroke-width="2.20" stroke-linecap="square" fill="none" transform="scale(0.5)"/>
<path d="M571 72h0m-3 7h0m-5 1h0m-4 2h0m-7 1h0m-1 1h0m-3 2h0m13 0h0m-17 1h0m3 1h0m4 2h0m10 1h0m4 0h0m-8 1h0m1 1h0m11 0h0m-21 1h0m14 0h0m3 1h0m0 0h0m0 0h0m5 0h0m-6 1h0m-7 1h0m-12 1h0m0 0h0m4 0h0m21 0h0m-21 1h0m0 0h0m17 0h0m7 0h0m-8 1h0m0 0h0m2 0h0m-18 1h0m1 0h0m8 0h0m2 0h0m10 0h0m-2 1h0m8 0h0m1 0h0m-11 1h0m2 5h0m0 3h0m10 0h0m-10 2h0m-1 1h0m-1 2h0m-2 2h0" stroke="#0005ff" stroke-width="2.20" stroke-linecap="square" fill="none" transform="scale(0.5)"/>
<path d="M565 70h0m-9 4h0m24 2h0m-1 3h0m2 0h0m0 1h0m-5 1h0m4 0h0m3 0h0m-37 2h0m19 1h0m8 0h0m-4 2h0m-6 2h0m8 0h0m-11 1h0m5 0h0m-3 2h0m-4 1h0m12 0h0m5 2h0m-4 1h0m-29 3h0m8 0h0m8 0h0m3 0h0m13 0h0m7 0h0m-21 1h0m2 0h0m9 0h0m6 0h0m-28 1h0m10 0h0m1 0h0m7 0h0m4 0h0m-18 1h0m17 0h0m-13 1h0m20 0h0m-1 1h0m-9 3h0m-1 1h0m8 0h0m3 0h0m2 0h0m-26 1h0m1 0h0m9 0h0m-11 1h0m-1 1h0m16 0h0m3 2h0m-4 1h0m2 0h0m5 1h0m1 0h0m2 0h0m-11 1h0m3 0h0m6 0h0m-10 2h0m7 0h0m5 0h0m-8 1h0m-1 2h0" stroke="#0031ff" stroke-width="2.20" stroke-linecap="square" fill="none" transform="scale(0.5)"/>
<path d="M561 79h0m-6 1h0m29 0h0m-5 2h0m-19 1h0m12 1h0m-3 3h0m6 1h0m1 0h0m2 1h0m2 1h0m0 1h0m-10 1h0m9 0h0m-7 1h0m2 1h0m-2 1h0m-2 2h0m2 0h0m-18 1h0m15 3h0m8 0h0m-9 1h0m5 1h0m5 0h0m-28 1h0m-2 1h0m7 0h0m-5 1h0m8 0h0m14 0h0m2 2h0m5 0h0m-30 1h0m3 0h0m1 0h0m2 0h0m13 0h0m2 0h0m-1 3h0m-4 1h0m8 0h0m1 0h0m1 0h0m-22 1h0m17 0h0m-4 1h0m7 0h0m3 0h0m-9 1h0m4 0h0m6 0h0m-11 1h0m5 0h0m-7 1h0m1 0h0m0 0h0m6 0h0m-3 2h0" stroke="#005eff" stroke-width="2.20" stroke-linecap="square" fill="none" transform="scale(0.5)"/>
<path d="M579 83h0m-9 1h0m2 2h0m7 1h0m-2 3h0m-5 2h0m3 0h0m4 3h0m-9 1h0m-17 5h0m-6 2h0m11 0h0m1 0h0m-10 2h0m1 0h0m-1 1h0m7 0h0m-6 1h0m4 0h0m5 1h0m-1 1h0m-6 2h0m0 0h0m1 0h0m1 0h0m3 0h0m4 0h0m-8 2h0m3 1h0m3 0h0m2 0h0m5 0h0m-4 2h0m1 0h0m-4 1h0m1 0h0m4 1h0" stroke="#008aff" stroke-width="2.20" stroke-linecap="square" fill="none" transform="scale(0.5)"/>
<path d="M559 79h0m14 7h0m3 2h0m5 4h0m-35 12h0m13 0h0m-12 1h0m4 0h0m2 2h0m-3 1h0m2 0h0m7 1h0m2 1h0m-7 1h0m0 0h0m5 0h0m-2 2h0m1 0h0m5 1h0m-4 1h0m2 0h0" stroke="#00b6ff" stroke-width="2.20" stroke-linecap="square" fill="none" transform="scale(0.5)"/>
<path d="M562 103h0m-2 6h0m-2 5h0m5 0h0m-5 3h0" stroke="#00e3ff" stroke-width="2.20" stroke-linecap="square" fill="none" transform="scale(0.5)"/>
<path d="M561 109h0m2 11h0m-2 1h0" stroke="#10ffee" stroke-width="2.20" stroke-linecap="square" fill="none" transform="scale(0.5)"/>
<path d="M581 106h0m-1 2h0m8 1h0m-3 4h0m1 0h0m-8 2h0" stroke="#ffe300" stroke-width="2.20" stroke-linecap="square" fill="none" transform="scale(0.5)"/>
<path d="M588 87h0m2 4h0m-3 3h0m0 1h0m3 0h0m4 2h0m-12 2h0m2 0h0m-2 2h0m10 0h0m-7 1h0m4 1h0m-6 2h0m8 0h0m0 0h0m-4 1h0m-5 3h0m3 0h0m5 0h0m-9 1h0m-1 1h0m6 1h0m-4 3h0m-3 1h0m2 0h0m2 0h0m-5 1h0" stroke="#ffb600" stroke-width="2.20" stroke-linecap="square" fill="none" transform="scale(0.5)"/>
<path d="M591 87h0m-6 1h0m0 1h0m4 0h0m-1 1h0m4 1h0m-4 1h0m-2 2h0m6 0h0m-7 1h0m8 0h0m1 0h0m-8 1h0m3 0h0m6 0h0m-8 1h0m2 1h0m5 0h0m-8 1h0m2 1h0m1 0h0m4 0h0m-1 1h0m-7 1h0m1 0h0m1 0h0m-6 1h0m5 0h0m4 0h0m0 0h0m-3 1h0m-1 1h0m4 0h0m4 0h0m-8 2h0m5 0h0m-5 1h0m-6 4h0m2 0h0m1 0h0" stroke="#ff8a00" stroke-width="2.20" stroke-linecap="square" fill="none" transform="scale(0.5)"/>
<path d="M584 85h0m4 2h0m4 5h0m-4 1h0m6 0h0m-8 1h0m0 0h0m3 1h0m8 0h0m-3 2h0m-2 1h0m3 1h0m-1 2h0m-13 2h0m10 0h0m-10 1h0m3 1h0m9 0h0m1 0h0" stroke="#ff5e00" stroke-width="2.20" stroke-linecap="square" fill="none" transform="scale(0.5)"/>
<path d="M585 90h0m-3 2h0m12 0h0m-4 1h0m-3 2h0m-3 2h0" stroke="#ff3100" stroke-width="2.20" stroke-linecap="square" fill="none" transform="scale(0.5)"/>
</g>
<rect x="301.30" y="30.80" width="3.30" height="33.60" fill="url(#jet)"/>
<line x1="304.60" y1="31.50" x2="305.60" y2="31.50" stroke="#555" stroke-width="0.4"/>
<text x="305.80" y="32.70" font-size="3.4" fill="#666">96.36</text>
<line x1="304.60" y1="39.65" x2="305.60" y2="39.65" stroke="#555" stroke-width="0.4"/>
<text x="305.80" y="40.85" font-size="3.4" fill="#666">35.63</text>
<line x1="304.60" y1="47.80" x2="305.60" y2="47.80" stroke="#555" stroke-width="0.4"/>
<text x="305.80" y="49.00" font-size="3.4" fill="#666">13.12</text>
<line x1="304.60" y1="55.95" x2="305.60" y2="55.95" stroke="#555" stroke-width="0.4"/>
<text x="305.80" y="57.15" font-size="3.4" fill="#666">4.227</text>
<line x1="304.60" y1="64.10" x2="305.60" y2="64.10" stroke="#555" stroke-width="0.4"/>
<text x="305.80" y="65.30" font-size="3.4" fill="#666">0</text>
<rect x="267.40" y="82.30" width="32.80" height="33.40" fill="#fff" stroke="#b5b5b5" stroke-width="0.8"/>
<path d="M265.00 116.10h2M267.00 116.10v2M265.00 113.18h2M269.87 116.10v2M265.00 110.25h2M272.74 116.10v2M265.00 107.33h2M275.62 116.10v2M265.00 104.41h2M278.49 116.10v2M265.00 101.48h2M281.36 116.10v2M265.00 98.56h2M284.23 116.10v2M265.00 95.64h2M287.10 116.10v2M265.00 92.72h2M289.97 116.10v2M265.00 89.79h2M292.85 116.10v2M265.00 86.87h2M295.72 116.10v2M265.00 83.95h2M298.59 116.10v2" stroke="#666" stroke-width="0.6"/>
<g filter="url(#bl)">
<path d="M549 183h0m16 34h0" stroke="#00007f" stroke-width="2.20" stroke-linecap="square" fill="none" transform="scale(0.5)"/>
<path d="M551 176h0m4 1h0m-1 1h0m-6 2h0m35 0h0m-1 1h0m-38 9h0m9 7h0m-4 6h0m12 0h0m20 0h0m-19 5h0m-1 6h0m-2 2h0m4 0h0" stroke="#0000ab" stroke-width="2.20" stroke-linecap="square" fill="none" transform="scale(0.5)"/>
<path d="M570 170h0m0 0h0m0 2h0m3 0h0m-12 1h0m7 0h0m7 0h0m-21 1h0m4 0h0m5 0h0m-10 1h0m5 0h0m-5 1h0m0 0h0m1 0h0m10 0h0m3 0h0m8 0h0m-10 1h0m6 0h0m-14 1h0m1 0h0m7 0h0m-11 1h0m0 0h0m2 0h0m3 0h0m5 0h0m18 0h0m-32 1h0m5 1h0m4 0h0m1 0h0m0 2h0m1 0h0m-6 1h0m7 0h0m-14 1h0m4 0h0m3 0h0m17 0h0m-7 1h0m4 0h0m-28 1h0m35 0h0m-29 1h0m26 0h0m0 0h0m10 0h0m1 0h0m-35 1h0m-7 1h0m30 0h0m5 0h0m0 1h0m-4 1h0m3 0h0m-34 1h0m27 0h0m-26 1h0m10 0h0m-7 1h0m1 0h0m30 0h0m-23 1h0m21 0h0m7 0h0m-28 1h0m7 1h0m14 0h0m3 0h0m-16 1h0m-6 1h0m17 0h0m3 0h0m-9 1h0m6 0h0m5 0h0m-27 2h0m2 0h0m11 0h0m-7 1h0m-9 1h0m31 1h0m0 1h0m-31 1h0m10 1h0m7 1h0m13 0h0m-21 1h0m19 0h0m-20 1h0m5 0h0m0 2h0m3 0h0m-9 2h0m5 1h0m5 0h0m-3 2h0m-6 1h0m11 0h0m-5 2h0" stroke="#0000d8" stroke-width="2.20" stroke-linecap="square" fill="none" transform="scale(0.5)"/>
<path d="M570 169h0m1 2h0m-15 1h0m2 0h0m-1 1h0m-7 1h0m18 0h0m0 0h0m3 0h0m-9 1h0m11 0h0m-13 1h0m7 0h0m0 1h0m-9 1h0m20 0h0m-8 1h0m11 0h0m-18 1h0m1 0h0m5 0h0m4 0h0m-18 1h0m11 0h0m-22 1h0m5 0h0m6 0h0m11 0h0m2 0h0m9 0h0m-15 1h0m-1 1h0m7 0h0m2 0h0m-8 1h0m11 0h0m1 0h0m5 0h0m-23 1h0m3 0h0m5 0h0m6 0h0m0 0h0m-21 1h0m7 0h0m2 0h0m18 0h0m3 0h0m-32 1h0m1 0h0m31 0h0m2 0h0m2 0h0m-23 1h0m-16 1h0m6 0h0m4 0h0m15 0h0m4 0h0m6 0h0m2 0h0m-38 1h0m1 0h0m3 0h0m1 0h0m5 0h0m5 0h0m5 0h0m10 0h0m6 0h0m-36 1h0m1 0h0m24 0h0m10 0h0m1 0h0m2 0h0m-39 1h0m8 0h0m18 0h0m5 0h0m0 0h0m10 0h0m-38 1h0m2 0h0m2 0h0m-8 1h0m2 0h0m1 0h0m1 0h0m8 0h0m8 0h0m13 0h0m-31 1h0m4 0h0m0 0h0m2 0h0m18 0h0m-23 1h0m23 0h0m6 0h0m2 0h0m1 0h0m-33 1h0m2 0h0m24 0h0m1 0h0m2 0h0m-28 1h0m33 0h0m-28 1h0m4 0h0m7 0h0m4 0h0m8 0h0m1 0h0m6 0h0m-35 1h0m15 0h0m4 0h0m7 0h0m0 0h0m-26 1h0m4 0h0m3 0h0m8 0h0m16 0h0m-20 1h0m1 0h0m0 0h0m1 0h0m1 0h0m13 0h0m-5 1h0m7 0h0m-15 1h0m10 0h0m8 0h0m5 0h0m-35 1h0m7 0h0m4 1h0m22 0h0m0 0h0m-29 1h0m2 0h0m11 0h0m-15 2h0m5 0h0m7 0h0m16 0h0m0 0h0m-12 2h0m9 0h0m-2 1h0m6 0h0m-22 1h0m3 0h0m6 1h0m-5 1h0m7 0h0m10 0h0m-11 2h0m-3 1h0m9 0h0m-5 1h0m-4 1h0m5 1h0m-1 1h0m2 1h0" stroke="#0005ff" stroke-width="2.20" stroke-linecap="square" fill="none" transform="scale(0.5)"/>
<path d="M567 169h0m2 0h0m-12 2h0m13 1h0m0 0h0m-6 1h0m15 0h0m-14 1h0m5 2h0m1 0h0m-12 1h0m12 0h0m-24 1h0m28 0h0m7 0h0m-6 1h0m6 1h0m-15 1h0m13 0h0m-7 2h0m1 1h0m-7 1h0m15 0h0m-37 1h0m4 0h0m3 0h0m29 0h0m-37 1h0m11 0h0m3 0h0m-12 1h0m5 0h0m4 0h0m1 0h0m3 0h0m11 0h0m-24 1h0m13 0h0m6 0h0m5 0h0m2 0h0m-25 1h0m13 0h0m4 0h0m4 0h0m4 0h0m-20 1h0m9 1h0m7 0h0m5 0h0m-23 1h0m15 0h0m8 0h0m1 0h0m-21 1h0m3 0h0m7 0h0m9 0h0m9 0h0m-38 1h0m6 0h0m2 0h0m31 0h0m-22 1h0m10 0h0m4 0h0m1 0h0m-7 1h0m3 0h0m7 0h0m1 0h0m-38 1h0m5 0h0m2 0h0m3 0h0m7 0h0m1 0h0m10 0h0m4 0h0m0 0h0m-29 1h0m27 0h0m-24 1h0m18 0h0m10 0h0m-29 1h0m23 0h0m3 0h0m5 0h0m-31 1h0m12 0h0m15 0h0m-20 1h0m6 0h0m8 0h0m14 0h0m-32 2h0m2 0h0m5 0h0m-2 2h0m-4 1h0m1 2h0m11 1h0m-9 1h0m21 0h0m-2 3h0m-13 5h0m-1 1h0m1 2h0m3 1h0m5 0h0" stroke="#0031ff" stroke-width="2.20" stroke-linecap="square" fill="none" transform="scale(0.5)"/>
<path d="M570 173h0m6 4h0m2 1h0m-2 2h0m-2 1h0m6 1h0m4 3h0m-38 2h0m15 0h0m16 2h0m-19 2h0m-3 1h0m6 0h0m-13 1h0m11 0h0m1 0h0m-3 1h0m5 1h0m3 0h0m6 0h0m1 0h0m-11 1h0m6 2h0m-21 2h0m4 0h0m-5 2h0m1 0h0m28 10h0m-16 9h0m2 0h0m5 3h0m1 0h0" stroke="#005eff" stroke-width="2.20" stroke-linecap="square" fill="none" transform="scale(0.5)"/>
<path d="M563 206h0" stroke="#008aff" stroke-width="2.20" stroke-linecap="square" fill="none" transform="scale(0.5)"/>
<path d="M570 210h0m0 0h0m-1 1h0m1 3h0m-1 3h0m0 1h0m-1 3h0" stroke="#00b6ff" stroke-width="2.20" stroke-linecap="square" fill="none" transform="scale(0.5)"/>
<path d="M585 183h0m2 2h0m3 2h0m-27 18h0m8 1h0m-14 1h0m10 1h0m3 0h0m0 1h0m-1 5h0m-1 3h0m2 1h0" stroke="#00e3ff" stroke-width="2.20" stroke-linecap="square" fill="none" transform="scale(0.5)"/>
<path d="M587 184h0m0 1h0m2 1h0m3 2h0m-3 2h0m4 2h0m-4 2h0m3 0h0m3 5h0m0 1h0m-4 2h0m-28 4h0m0 1h0m9 0h0m-5 1h0m1 5h0m2 0h0m-2 3h0m2 2h0m-1 1h0m-1 1h0" stroke="#10ffee" stroke-width="2.20" stroke-linecap="square" fill="none" transform="scale(0.5)"/>
<path d="M585 187h0m1 0h0m1 2h0m-2 2h0m6 0h0m1 0h0m-5 1h0m6 2h0m-8 3h0m5 0h0m4 0h0m-1 1h0m2 0h0m-3 1h0m1 0h0m-11 1h0m13 1h0m1 2h0m-26 2h0m23 0h0m1 0h0m-22 1h0m-13 1h0" stroke="#3cffc2" stroke-width="2.20" stroke-linecap="square" fill="none" transform="scale(0.5)"/>
<path d="M587 193h0m5 1h0m-2 1h0m-6 2h0m9 0h0m-8 1h0m3 1h0m0 1h0m7 0h0m1 0h0m-14 1h0m2 0h0m10 0h0m-2 1h0m2 1h0m-6 1h0m1 0h0m-4 1h0m8 0h0m-6 1h0m4 0h0m1 0h0m-14 9h0" stroke="#69ff95" stroke-width="2.20" stroke-linecap="square" fill="none" transform="scale(0.5)"/>
<path d="M585 195h0m0 4h0m4 2h0m2 0h0m-9 1h0m3 0h0m5 1h0m-8 2h0m6 1h0m1 0h0m1 0h0m-10 13h0" stroke="#95ff69" stroke-width="2.20" stroke-linecap="square" fill="none" transform="scale(0.5)"/>
<path d="M588 205h0m-4 4h0m2 0h0m4 0h0m-4 1h0m2 0h0m1 1h0m-10 1h0m5 2h0m-3 3h0m-2 1h0m-1 1h0m2 0h0" stroke="#c2ff3c" stroke-width="2.20" stroke-linecap="square" fill="none" transform="scale(0.5)"/>
<path d="M589 210h0m-8 4h0m2 1h0m-1 1h0m-3 1h0m4 0h0" stroke="#eeff10" stroke-width="2.20" stroke-linecap="square" fill="none" transform="scale(0.5)"/>
<path d="M583 211h0m4 0h0m-6 1h0m-1 3h0m2 2h0m1 0h0" stroke="#ffe300" stroke-width="2.20" stroke-linecap="square" fill="none" transform="scale(0.5)"/>
</g>
<rect x="301.30" y="82.40" width="3.30" height="33.60" fill="url(#jet)"/>
<line x1="304.60" y1="83.10" x2="305.60" y2="83.10" stroke="#555" stroke-width="0.4"/>
<text x="305.80" y="84.30" font-size="3.4" fill="#666">96.36</text>
<line x1="304.60" y1="91.25" x2="305.60" y2="91.25" stroke="#555" stroke-width="0.4"/>
<text x="305.80" y="92.45" font-size="3.4" fill="#666">35.63</text>
<line x1="304.60" y1="99.40" x2="305.60" y2="99.40" stroke="#555" stroke-width="0.4"/>
<text x="305.80" y="100.60" font-size="3.4" fill="#666">13.12</text>
<line x1="304.60" y1="107.55" x2="305.60" y2="107.55" stroke="#555" stroke-width="0.4"/>
<text x="305.80" y="108.75" font-size="3.4" fill="#666">4.227</text>
<line x1="304.60" y1="115.70" x2="305.60" y2="115.70" stroke="#555" stroke-width="0.4"/>
<text x="305.80" y="116.90" font-size="3.4" fill="#666">0</text>
<text x="333.10" y="25.90" font-size="10.1" fill="#111" text-anchor="middle" textLength="16.50" lengthAdjust="spacingAndGlyphs" stroke="#111" stroke-width="0.15">PD1</text>
<rect x="317.15" y="30.70" width="32.80" height="33.40" fill="#fff" stroke="#b5b5b5" stroke-width="0.8"/>
<path d="M314.75 64.50h2M316.75 64.50v2M314.75 61.58h2M319.62 64.50v2M314.75 58.65h2M322.49 64.50v2M314.75 55.73h2M325.37 64.50v2M314.75 52.81h2M328.24 64.50v2M314.75 49.88h2M331.11 64.50v2M314.75 46.96h2M333.98 64.50v2M314.75 44.04h2M336.85 64.50v2M314.75 41.12h2M339.72 64.50v2M314.75 38.19h2M342.60 64.50v2M314.75 35.27h2M345.47 64.50v2M314.75 32.35h2M348.34 64.50v2" stroke="#666" stroke-width="0.6"/>
<g filter="url(#bl)">
<path d="M645 81h0m1 1h0m25 0h0m-20 1h0m-6 1h0m2 0h0m20 3h0m-17 3h0m0 3h0m19 1h0m-23 2h0" stroke="#0005ff" stroke-width="2.20" stroke-linecap="square" fill="none" transform="scale(0.5)"/>
<path d="M670 69h0m-14 4h0m18 4h0m-10 3h0m4 0h0m-10 2h0m17 0h0m-18 4h0m11 0h0m-5 1h0m-8 1h0m2 0h0m30 0h0m-28 1h0m1 0h0m6 0h0m-5 1h0m3 0h0m0 0h0m-3 1h0m-13 1h0m21 0h0m4 0h0m0 0h0m-33 1h0m23 1h0m6 0h0m1 0h0m3 1h0" stroke="#0031ff" stroke-width="2.20" stroke-linecap="square" fill="none" transform="scale(0.5)"/>
<path d="M658 69h0m-3 1h0m13 0h0m-16 1h0m3 1h0m1 0h0m15 0h0m-3 1h0m1 0h0m-21 1h0m12 1h0m13 0h0m1 0h0m-7 1h0m5 0h0m-9 4h0m8 0h0m-11 2h0m13 2h0m-10 2h0m-22 2h0m24 1h0m8 0h0m-9 1h0m6 1h0m-11 1h0m-2 1h0m15 0h0m-5 3h0m5 0h0m-12 14h0m0 2h0m4 1h0m-3 1h0m2 1h0" stroke="#005eff" stroke-width="2.20" stroke-linecap="square" fill="none" transform="scale(0.5)"/>
<path d="M669 67h0m-8 4h0m2 6h0m9 0h0m-15 4h0m7 0h0m21 7h0m0 0h0m6 1h0m0 0h0m-2 2h0m-38 6h0m9 13h0m3 1h0m-10 1h0m8 0h0m-7 1h0m8 0h0m1 0h0m-6 1h0m1 0h0m3 0h0m2 2h0m-2 1h0m0 0h0" stroke="#008aff" stroke-width="2.20" stroke-linecap="square" fill="none" transform="scale(0.5)"/>
<path d="M661 73h0m4 10h0m23 2h0m-2 1h0m2 0h0m-5 1h0m8 0h0m-1 1h0m2 0h0m-7 2h0m1 1h0m-13 8h0m-11 11h0m-6 1h0m4 0h0m-4 2h0m8 0h0m-14 1h0m13 3h0m0 0h0" stroke="#00b6ff" stroke-width="2.20" stroke-linecap="square" fill="none" transform="scale(0.5)"/>
<path d="M688 86h0m4 4h0m0 0h0m-10 1h0m1 0h0m1 0h0m3 1h0m6 0h0m0 2h0m2 1h0m-17 2h0m-6 2h0m1 0h0m1 2h0m-1 1h0m2 0h0m-11 7h0m-14 1h0m1 0h0m2 0h0m1 1h0m0 0h0m2 0h0m9 1h0m1 0h0m-10 1h0m9 0h0m-11 1h0m11 0h0m-4 1h0m-4 1h0m2 1h0m5 0h0m-6 1h0m3 0h0m-3 1h0m3 1h0" stroke="#00e3ff" stroke-width="2.20" stroke-linecap="square" fill="none" transform="scale(0.5)"/>
<path d="M686 84h0m1 1h0m1 0h0m-8 3h0m6 0h0m-5 2h0m0 2h0m12 4h0m-22 1h0m1 0h0m0 1h0m4 2h0m-5 1h0m24 2h0m-22 1h0m2 0h0m19 0h0m-30 3h0m-4 1h0m1 0h0m-10 1h0m13 0h0m0 0h0m-13 1h0m6 0h0m29 0h0m1 0h0m-36 1h0m37 0h0m-22 2h0m17 1h0m1 0h0m-29 1h0m2 0h0m-1 1h0m4 0h0m5 0h0m-7 1h0m7 1h0m-3 1h0m1 0h0m-5 1h0" stroke="#10ffee" stroke-width="2.20" stroke-linecap="square" fill="none" transform="scale(0.5)"/>
<path d="M682 86h0m-1 2h0m-1 4h0m9 0h0m3 1h0m-15 1h0m16 0h0m1 0h0m-2 1h0m-13 1h0m13 0h0m0 0h0m0 0h0m1 0h0m-17 1h0m1 0h0m1 0h0m1 0h0m0 0h0m15 0h0m-52 1h0m30 0h0m7 1h0m-8 1h0m6 0h0m-7 2h0m25 0h0m-19 1h0m-2 1h0m3 1h0m-16 3h0m-11 1h0m2 0h0m5 0h0m2 0h0m24 1h0m4 1h0m-20 2h0m16 0h0m-15 2h0m-10 3h0m9 0h0m-4 1h0" stroke="#3cffc2" stroke-width="2.20" stroke-linecap="square" fill="none" transform="scale(0.5)"/>
<path d="M685 83h0m-6 2h0m0 1h0m1 0h0m-2 2h0m2 1h0m-1 1h0m-4 3h0m4 1h0m4 0h0m2 0h0m-15 3h0m9 0h0m1 0h0m-10 1h0m3 0h0m6 0h0m-10 1h0m9 2h0m14 2h0m-32 2h0m14 0h0m1 0h0m17 0h0m-45 1h0m16 1h0m2 0h0m5 0h0m18 0h0m-4 1h0m4 1h0m-21 2h0m1 0h0m-1 2h0m0 1h0m1 1h0m16 1h0m-26 1h0m8 1h0m1 0h0m0 0h0m-2 2h0m1 0h0m-6 1h0m6 0h0" stroke="#69ff95" stroke-width="2.20" stroke-linecap="square" fill="none" transform="scale(0.5)"/>
<path d="M687 82h0m-2 1h0m1 0h0m-8 4h0m1 2h0m-1 5h0m9 0h0m-4 1h0m2 0h0m3 0h0m-1 1h0m7 4h0m-14 2h0m0 1h0m-9 1h0m8 0h0m13 0h0m-38 3h0m13 0h0m11 1h0m-10 2h0m13 1h0m0 2h0m-13 4h0m-1 1h0m-1 2h0m1 2h0" stroke="#95ff69" stroke-width="2.20" stroke-linecap="square" fill="none" transform="scale(0.5)"/>
<path d="M679 82h0m-3 4h0m4 8h0m5 2h0m2 0h0m-9 1h0m5 0h0m5 0h0m2 0h0m-47 1h0m36 2h0m-36 1h0m38 2h0m11 0h0m-24 1h0m12 0h0m-2 1h0m3 0h0m3 0h0m-13 1h0m2 0h0m12 0h0m4 0h0m3 0h0m-42 1h0m19 0h0m10 0h0m6 0h0m-17 1h0m1 1h0m12 0h0m-12 2h0m1 3h0m11 1h0m-13 1h0m0 2h0m-1 3h0" stroke="#c2ff3c" stroke-width="2.20" stroke-linecap="square" fill="none" transform="scale(0.5)"/>
<path d="M682 81h0m-3 1h0m-2 5h0m-2 2h0m1 2h0m-31 6h0m44 0h0m-22 1h0m-7 1h0m22 0h0m0 0h0m0 1h0m-38 2h0m20 0h0m18 0h0m0 1h0m2 0h0m5 0h0m-33 1h0m26 0h0m1 0h0m3 0h0m-39 1h0m40 0h0m-38 1h0m1 0h0m36 0h0m3 0h0m-38 1h0m0 0h0m5 0h0m15 0h0m8 2h0m1 0h0m-10 1h0m0 0h0m11 0h0m-10 1h0m-2 5h0m11 1h0m0 0h0m-11 2h0" stroke="#eeff10" stroke-width="2.20" stroke-linecap="square" fill="none" transform="scale(0.5)"/>
<path d="M675 82h0m-10 15h0m2 2h0m-10 1h0m9 1h0m0 2h0m18 0h0m-35 1h0m12 0h0m23 0h0m-37 1h0m7 1h0m16 4h0m0 4h0m9 0h0m-10 3h0m10 0h0m-9 1h0m-2 3h0" stroke="#ffe300" stroke-width="2.20" stroke-linecap="square" fill="none" transform="scale(0.5)"/>
<path d="M676 77h0m7 3h0m-26 16h0m2 0h0m5 1h0m-17 2h0m8 0h0m30 0h0m4 1h0m-31 1h0m2 0h0m-1 1h0m29 0h0m-33 1h0m5 0h0m1 0h0m-11 1h0m2 0h0m6 0h0m29 0h0m-40 1h0m2 0h0m27 4h0m-3 1h0m4 1h0m-6 1h0m6 0h0m-7 4h0m1 0h0m0 0h0m-1 5h0" stroke="#ffb600" stroke-width="2.20" stroke-linecap="square" fill="none" transform="scale(0.5)"/>
<path d="M680 75h0m-29 24h0m3 0h0m5 0h0m-3 1h0m-1 1h0m-6 1h0m3 0h0m9 0h0m-10 1h0m2 0h0m-4 1h0m25 5h0m-2 1h0m2 0h0m1 0h0m0 1h0m0 1h0m1 0h0m-5 2h0m1 3h0m3 0h0m1 0h0m-4 2h0m-1 2h0" stroke="#ff8a00" stroke-width="2.20" stroke-linecap="square" fill="none" transform="scale(0.5)"/>
<path d="M656 98h0m0 1h0m-8 1h0m10 0h0m28 1h0m-37 1h0m3 1h0m20 10h0m0 1h0m3 1h0m-3 2h0m3 0h0m-2 1h0m0 0h0" stroke="#ff5e00" stroke-width="2.20" stroke-linecap="square" fill="none" transform="scale(0.5)"/>
<path d="M651 98h0m1 1h0m21 21h0" stroke="#ff3100" stroke-width="2.20" stroke-linecap="square" fill="none" transform="scale(0.5)"/>
</g>
<rect x="351.05" y="30.80" width="3.30" height="33.60" fill="url(#jet)"/>
<line x1="354.35" y1="31.50" x2="355.35" y2="31.50" stroke="#555" stroke-width="0.4"/>
<text x="355.55" y="32.70" font-size="3.4" fill="#666">418.5</text>
<line x1="354.35" y1="39.65" x2="355.35" y2="39.65" stroke="#555" stroke-width="0.4"/>
<text x="355.55" y="40.85" font-size="3.4" fill="#666">114.2</text>
<line x1="354.35" y1="47.80" x2="355.35" y2="47.80" stroke="#555" stroke-width="0.4"/>
<text x="355.55" y="49.00" font-size="3.4" fill="#666">32.15</text>
<line x1="354.35" y1="55.95" x2="355.35" y2="55.95" stroke="#555" stroke-width="0.4"/>
<text x="355.55" y="57.15" font-size="3.4" fill="#666">8.247</text>
<line x1="354.35" y1="64.10" x2="355.35" y2="64.10" stroke="#555" stroke-width="0.4"/>
<text x="355.55" y="65.30" font-size="3.4" fill="#666">0</text>
<rect x="317.15" y="82.30" width="32.80" height="33.40" fill="#fff" stroke="#b5b5b5" stroke-width="0.8"/>
<path d="M314.75 116.10h2M316.75 116.10v2M314.75 113.18h2M319.62 116.10v2M314.75 110.25h2M322.49 116.10v2M314.75 107.33h2M325.37 116.10v2M314.75 104.41h2M328.24 116.10v2M314.75 101.48h2M331.11 116.10v2M314.75 98.56h2M333.98 116.10v2M314.75 95.64h2M336.85 116.10v2M314.75 92.72h2M339.72 116.10v2M314.75 89.79h2M342.60 116.10v2M314.75 86.87h2M345.47 116.10v2M314.75 83.95h2M348.34 116.10v2" stroke="#666" stroke-width="0.6"/>
<g filter="url(#bl)">
<path d="M645 190h0" stroke="#00007f" stroke-width="2.20" stroke-linecap="square" fill="none" transform="scale(0.5)"/>
<path d="M653 177h0" stroke="#0000ab" stroke-width="2.20" stroke-linecap="square" fill="none" transform="scale(0.5)"/>
<path d="M665 172h0m-12 3h0m9 1h0m-7 2h0m-4 1h0m-2 1h0m6 1h0m10 1h0m-14 4h0m2 1h0m5 0h0m5 0h0m-4 2h0m-14 1h0m9 0h0m-9 1h0m2 1h0m4 0h0m-11 1h0m4 0h0m13 0h0m-8 1h0m-7 1h0m26 0h0m-21 2h0m4 0h0m-2 5h0m1 3h0m3 1h0m-3 1h0m-1 1h0" stroke="#0000d8" stroke-width="2.20" stroke-linecap="square" fill="none" transform="scale(0.5)"/>
<path d="M663 171h0m-9 1h0m3 1h0m10 2h0m1 0h0m-14 1h0m1 0h0m-9 2h0m13 0h0m2 1h0m-12 1h0m15 0h0m-16 1h0m7 0h0m9 0h0m-10 1h0m8 0h0m1 0h0m-15 1h0m15 0h0m0 0h0m10 0h0m-18 1h0m1 0h0m0 0h0m-14 1h0m18 0h0m7 0h0m0 0h0m-1 1h0m-25 1h0m8 0h0m9 0h0m0 0h0m11 0h0m1 0h0m3 0h0m-31 1h0m4 0h0m8 0h0m4 0h0m4 0h0m4 0h0m2 0h0m4 0h0m-23 1h0m2 0h0m14 0h0m6 0h0m2 0h0m-29 1h0m2 0h0m10 0h0m-12 1h0m0 0h0m4 0h0m2 0h0m4 0h0m0 0h0m3 0h0m9 0h0m-26 1h0m4 0h0m7 0h0m6 1h0m16 0h0m-33 1h0m0 0h0m5 0h0m5 0h0m6 0h0m0 0h0m0 0h0m14 0h0m-24 2h0m-2 2h0m12 0h0m-7 1h0m-4 1h0m4 0h0m1 3h0m-2 2h0m7 0h0m-7 1h0" stroke="#0005ff" stroke-width="2.20" stroke-linecap="square" fill="none" transform="scale(0.5)"/>
<path d="M668 169h0m-9 3h0m4 0h0m1 0h0m0 0h0m6 0h0m-15 1h0m2 0h0m2 0h0m7 0h0m-13 1h0m6 0h0m12 0h0m-19 1h0m6 0h0m11 0h0m3 0h0m-20 1h0m1 0h0m3 0h0m3 0h0m5 0h0m4 0h0m-16 1h0m1 0h0m4 0h0m6 0h0m5 0h0m-3 1h0m2 0h0m-12 1h0m1 0h0m4 0h0m6 0h0m2 0h0m5 0h0m-18 1h0m16 0h0m-10 1h0m3 0h0m5 0h0m1 0h0m-11 1h0m9 1h0m0 0h0m1 0h0m1 0h0m1 0h0m-10 1h0m9 0h0m2 0h0m-16 1h0m1 0h0m-3 1h0m0 0h0m1 0h0m5 0h0m1 0h0m4 0h0m3 0h0m-23 1h0m5 0h0m5 0h0m4 0h0m0 0h0m5 0h0m0 1h0m2 0h0m1 0h0m-16 1h0m7 0h0m10 0h0m-26 1h0m4 0h0m2 0h0m7 0h0m16 0h0m2 0h0m-14 1h0m14 0h0m-27 1h0m6 0h0m2 0h0m3 0h0m0 0h0m2 0h0m4 0h0m3 0h0m6 0h0m-7 1h0m7 0h0m-28 1h0m10 0h0m1 0h0m2 0h0m15 0h0m-28 1h0m12 0h0m5 0h0m2 0h0m2 0h0m-25 1h0m5 0h0m8 0h0m2 0h0m-10 1h0m9 0h0m1 0h0m-7 1h0m3 0h0m10 0h0m-12 1h0m12 0h0m-11 1h0m-6 4h0m2 0h0m5 1h0m0 0h0m6 0h0m-8 2h0m4 0h0m-4 1h0m2 0h0" stroke="#0031ff" stroke-width="2.20" stroke-linecap="square" fill="none" transform="scale(0.5)"/>
<path d="M664 170h0m1 0h0m-1 1h0m7 0h0m-7 2h0m5 0h0m-12 1h0m-1 1h0m1 0h0m10 0h0m2 1h0m4 1h0m-14 2h0m5 0h0m6 0h0m3 0h0m-18 2h0m13 0h0m3 0h0m1 1h0m-12 1h0m-14 1h0m21 2h0m-7 1h0m10 0h0m-1 1h0m-27 3h0m25 0h0m-13 1h0m9 0h0m8 0h0m-17 1h0m1 0h0m7 0h0m2 0h0m9 1h0m-29 1h0m18 0h0m3 0h0m2 0h0m1 0h0m-26 1h0m5 0h0m7 1h0m-13 1h0m8 0h0m11 0h0m1 0h0m-17 1h0m14 0h0m-15 1h0m21 0h0m-18 3h0m14 0h0m-10 1h0" stroke="#005eff" stroke-width="2.20" stroke-linecap="square" fill="none" transform="scale(0.5)"/>
<path d="M664 170h0m2 0h0m6 4h0m-4 16h0m-25 10h0m13 1h0" stroke="#008aff" stroke-width="2.20" stroke-linecap="square" fill="none" transform="scale(0.5)"/>
<path d="M661 198h0m0 0h0" stroke="#00b6ff" stroke-width="2.20" stroke-linecap="square" fill="none" transform="scale(0.5)"/>
<path d="M683 180h0m-4 10h0m-29 19h0m-2 4h0m3 0h0" stroke="#00e3ff" stroke-width="2.20" stroke-linecap="square" fill="none" transform="scale(0.5)"/>
<path d="M676 193h0m-24 15h0m1 1h0m1 3h0m-2 1h0" stroke="#10ffee" stroke-width="2.20" stroke-linecap="square" fill="none" transform="scale(0.5)"/>
<path d="M684 182h0m-4 4h0m1 3h0m-4 1h0m-3 5h0m0 1h0m-21 12h0m-2 1h0m2 4h0" stroke="#3cffc2" stroke-width="2.20" stroke-linecap="square" fill="none" transform="scale(0.5)"/>
<path d="M681 179h0m-2 3h0m3 1h0m3 2h0m2 0h0m0 2h0m-12 1h0m9 0h0m4 0h0m-8 2h0m7 0h0m-10 2h0m3 1h0m4 0h0m0 0h0m-10 1h0m1 2h0m0 5h0m-21 8h0m0 2h0m0 1h0m1 0h0m-2 4h0m1 1h0" stroke="#69ff95" stroke-width="2.20" stroke-linecap="square" fill="none" transform="scale(0.5)"/>
<path d="M679 176h0m1 1h0m-5 6h0m3 1h0m-4 2h0m3 1h0m11 1h0m-3 1h0m-1 3h0m-3 1h0m-7 3h0m2 0h0m-5 3h0m7 1h0m-23 7h0m-1 1h0" stroke="#95ff69" stroke-width="2.20" stroke-linecap="square" fill="none" transform="scale(0.5)"/>
<path d="M679 175h0m-2 9h0m-2 1h0m2 2h0m13 6h0m-6 2h0m-7 1h0m2 1h0m-5 1h0m2 0h0m1 0h0m-2 1h0m-2 1h0m1 1h0m-1 2h0m-17 3h0m21 1h0m16 1h0" stroke="#c2ff3c" stroke-width="2.20" stroke-linecap="square" fill="none" transform="scale(0.5)"/>
<path d="M677 177h0m1 0h0m-4 1h0m4 0h0m-2 3h0m-2 1h0m1 0h0m1 0h0m15 9h0m-1 3h0m1 0h0m-4 2h0m-12 2h0m-3 1h0m6 1h0m-6 1h0m2 1h0m1 0h0m5 0h0m-3 1h0m-4 1h0m1 0h0m11 9h0m-27 3h0m-1 2h0" stroke="#eeff10" stroke-width="2.20" stroke-linecap="square" fill="none" transform="scale(0.5)"/>
<path d="M676 176h0m-2 2h0m0 6h0m18 8h0m0 3h0m2 0h0m-5 1h0m1 0h0m0 0h0m-7 1h0m-5 1h0m2 0h0m-7 2h0m-5 2h0m2 0h0m8 0h0m1 1h0m0 1h0m2 0h0m-11 1h0m-10 1h0m9 1h0m23 0h0m-7 1h0m4 0h0m-14 1h0m4 0h0m3 0h0m2 0h0m-2 1h0m1 1h0m5 0h0m-4 1h0m-2 3h0m1 1h0m-25 1h0m25 0h0" stroke="#ffe300" stroke-width="2.20" stroke-linecap="square" fill="none" transform="scale(0.5)"/>
<path d="M675 174h0m0 2h0m18 20h0m1 0h0m2 1h0m-7 1h0m1 0h0m-10 1h0m3 0h0m12 1h0m-12 1h0m1 0h0m11 0h0m-13 1h0m10 0h0m2 2h0m-2 1h0m-27 1h0m4 0h0m11 0h0m-10 1h0m2 0h0m7 0h0m1 0h0m0 0h0m6 0h0m3 0h0m0 0h0m1 0h0m-12 1h0m6 0h0m-14 1h0m6 0h0m12 0h0m-9 1h0m-21 1h0m1 0h0m19 0h0m-19 2h0m21 0h0m0 0h0m-22 1h0m3 3h0m20 1h0m-24 1h0m0 0h0m2 0h0m23 0h0m-19 2h0" stroke="#ffb600" stroke-width="2.20" stroke-linecap="square" fill="none" transform="scale(0.5)"/>
<path d="M675 174h0m19 23h0m1 0h0m-6 1h0m4 1h0m2 0h0m-2 1h0m-12 2h0m0 0h0m3 0h0m10 0h0m-24 1h0m12 0h0m3 0h0m-19 1h0m15 0h0m3 0h0m4 0h0m7 0h0m0 1h0m-29 1h0m22 0h0m1 0h0m-29 1h0m6 0h0m4 0h0m12 0h0m0 0h0m4 0h0m-3 1h0m-23 1h0m12 0h0m2 0h0m3 0h0m3 0h0m2 0h0m-13 1h0m7 0h0m-15 1h0m7 0h0m2 0h0m4 0h0m-11 1h0m19 1h0m-3 2h0m0 0h0m0 1h0m-15 1h0m-1 1h0m17 0h0m-9 1h0m-10 1h0m2 0h0m5 0h0" stroke="#ff8a00" stroke-width="2.20" stroke-linecap="square" fill="none" transform="scale(0.5)"/>
<path d="M695 197h0m-9 2h0m6 1h0m-27 1h0m16 0h0m8 0h0m-23 1h0m25 0h0m2 0h0m-27 1h0m27 0h0m-6 1h0m3 0h0m-29 1h0m26 0h0m-25 1h0m1 0h0m1 1h0m2 0h0m20 0h0m-22 1h0m2 2h0m4 0h0m-3 1h0m2 1h0m2 0h0m0 1h0m8 0h0m-5 1h0m1 0h0m-13 2h0m0 1h0m6 0h0m2 0h0m1 0h0m6 0h0m-7 2h0m7 0h0m-9 1h0m10 0h0m-13 1h0m2 0h0m3 0h0m1 1h0m-4 2h0m-7 1h0" stroke="#ff5e00" stroke-width="2.20" stroke-linecap="square" fill="none" transform="scale(0.5)"/>
<path d="M686 202h0m-26 2h0m3 1h0m1 0h0m1 0h0m-1 2h0m3 5h0m4 0h0m3 1h0m-11 2h0m4 0h0m0 1h0m11 0h0m-14 2h0m5 0h0m0 0h0m8 1h0m-18 1h0m17 0h0m-12 1h0m13 0h0m-9 2h0" stroke="#ff3100" stroke-width="2.20" stroke-linecap="square" fill="none" transform="scale(0.5)"/>
<path d="M672 212h0m3 7h0m-7 2h0" stroke="#ff0500" stroke-width="2.20" stroke-linecap="square" fill="none" transform="scale(0.5)"/>
</g>
<rect x="351.05" y="82.40" width="3.30" height="33.60" fill="url(#jet)"/>
<line x1="354.35" y1="83.10" x2="355.35" y2="83.10" stroke="#555" stroke-width="0.4"/>
<text x="355.55" y="84.30" font-size="3.4" fill="#666">418.5</text>
<line x1="354.35" y1="91.25" x2="355.35" y2="91.25" stroke="#555" stroke-width="0.4"/>
<text x="355.55" y="92.45" font-size="3.4" fill="#666">114.2</text>
<line x1="354.35" y1="99.40" x2="355.35" y2="99.40" stroke="#555" stroke-width="0.4"/>
<text x="355.55" y="100.60" font-size="3.4" fill="#666">32.15</text>
<line x1="354.35" y1="107.55" x2="355.35" y2="107.55" stroke="#555" stroke-width="0.4"/>
<text x="355.55" y="108.75" font-size="3.4" fill="#666">8.247</text>
<line x1="354.35" y1="115.70" x2="355.35" y2="115.70" stroke="#555" stroke-width="0.4"/>
<text x="355.55" y="116.90" font-size="3.4" fill="#666">0</text>
<text x="384.00" y="25.90" font-size="10.1" fill="#111" text-anchor="middle" textLength="22.40" lengthAdjust="spacingAndGlyphs" stroke="#111" stroke-width="0.15">LAG3</text>
<rect x="366.90" y="30.70" width="32.80" height="33.40" fill="#fff" stroke="#b5b5b5" stroke-width="0.8"/>
<path d="M364.50 64.50h2M366.50 64.50v2M364.50 61.58h2M369.37 64.50v2M364.50 58.65h2M372.24 64.50v2M364.50 55.73h2M375.12 64.50v2M364.50 52.81h2M377.99 64.50v2M364.50 49.88h2M380.86 64.50v2M364.50 46.96h2M383.73 64.50v2M364.50 44.04h2M386.60 64.50v2M364.50 41.12h2M389.47 64.50v2M364.50 38.19h2M392.35 64.50v2M364.50 35.27h2M395.22 64.50v2M364.50 32.35h2M398.09 64.50v2" stroke="#666" stroke-width="0.6"/>
<g filter="url(#bl)">
<path d="M750 95h0m29 21h0" stroke="#0000ab" stroke-width="2.20" stroke-linecap="square" fill="none" transform="scale(0.5)"/>
<path d="M770 71h0m-7 3h0m19 4h0m-37 5h0m23 1h0m3 4h0m8 3h0m-33 6h0m7 0h0m-3 4h0m32 11h0m-13 2h0m9 0h0m4 0h0m-4 1h0m4 0h0m-1 1h0" stroke="#0000d8" stroke-width="2.20" stroke-linecap="square" fill="none" transform="scale(0.5)"/>
<path d="M769 69h0m4 2h0m-10 1h0m7 2h0m0 1h0m-8 4h0m10 1h0m5 3h0m-15 1h0m19 1h0m-12 1h0m5 0h0m7 1h0m-24 1h0m18 0h0m-27 1h0m9 0h0m5 0h0m17 0h0m-8 1h0m10 0h0m-17 1h0m14 0h0m1 0h0m2 0h0m-10 1h0m1 0h0m1 1h0m6 0h0m-32 3h0m3 0h0m0 1h0m19 0h0m-14 3h0m3 2h0m14 0h0m2 0h0m-6 1h0m5 0h0m-4 1h0m8 1h0m3 0h0m-25 1h0m19 0h0m-29 1h0m26 0h0m10 1h0m-11 2h0m2 0h0m6 0h0m-5 1h0m1 0h0m2 0h0m0 0h0m-8 1h0m2 0h0m3 0h0m2 0h0m2 0h0m3 0h0m2 0h0m-11 1h0m2 0h0m3 0h0m4 0h0m1 0h0m-17 1h0m14 0h0m5 0h0m-20 1h0m9 1h0m6 0h0m-9 1h0m9 1h0m-5 1h0m4 0h0" stroke="#0005ff" stroke-width="2.20" stroke-linecap="square" fill="none" transform="scale(0.5)"/>
<path d="M763 68h0m-9 3h0m0 1h0m6 2h0m15 1h0m-16 2h0m19 0h0m-16 1h0m1 1h0m14 2h0m2 0h0m-22 1h0m20 0h0m-27 1h0m3 0h0m19 0h0m5 0h0m0 1h0m0 0h0m-31 1h0m15 0h0m2 0h0m7 0h0m-23 1h0m6 0h0m-4 1h0m28 1h0m-16 1h0m7 0h0m-23 1h0m20 0h0m1 0h0m12 0h0m-24 1h0m5 0h0m18 0h0m-21 1h0m2 0h0m6 0h0m2 0h0m1 0h0m4 0h0m-17 1h0m4 0h0m10 0h0m-6 1h0m-16 1h0m3 0h0m1 0h0m13 0h0m9 0h0m2 0h0m1 0h0m-23 1h0m16 0h0m8 0h0m1 0h0m-13 1h0m5 0h0m-24 1h0m12 0h0m2 0h0m4 0h0m7 0h0m6 0h0m-12 1h0m0 0h0m12 0h0m1 0h0m-28 1h0m30 0h0m-25 1h0m1 0h0m-1 1h0m16 0h0m10 0h0m-24 1h0m22 0h0m-8 1h0m-18 1h0m17 0h0m-15 1h0m24 0h0m1 0h0m-9 1h0m3 0h0m-7 1h0m6 0h0m-15 1h0m24 0h0m-27 1h0m27 0h0m2 0h0m-13 1h0m-18 1h0m14 0h0m3 0h0m2 0h0m1 0h0m-15 1h0m9 0h0m3 0h0m0 1h0m5 0h0m-18 1h0m12 0h0m-11 1h0m11 0h0m5 0h0m0 1h0m4 0h0m-9 1h0m4 0h0m3 0h0m1 0h0m-19 1h0m3 2h0" stroke="#0031ff" stroke-width="2.20" stroke-linecap="square" fill="none" transform="scale(0.5)"/>
<path d="M775 80h0m-19 1h0m20 2h0m-2 1h0m-28 2h0m13 0h0m3 0h0m1 3h0m6 0h0m2 0h0m-19 1h0m15 0h0m5 0h0m-31 1h0m23 1h0m7 0h0m6 0h0m-8 1h0m0 1h0m7 0h0m-11 2h0m0 1h0m4 0h0m2 0h0m-9 1h0m15 0h0m3 1h0m1 0h0m-1 1h0m-17 1h0m10 0h0m8 0h0m1 0h0m0 0h0m-12 1h0m3 0h0m-2 1h0m-9 1h0m11 0h0m6 0h0m-19 1h0m0 0h0m5 1h0m3 0h0m0 0h0m2 0h0m1 0h0m3 0h0m-25 1h0m3 0h0m13 0h0m-17 1h0m2 2h0m10 0h0m7 0h0m3 0h0m4 0h0m1 0h0m-17 1h0m8 0h0m4 0h0m-11 1h0m19 0h0m-21 2h0m4 0h0m-2 1h0m8 0h0m8 1h0m-17 1h0m2 1h0m-1 1h0m0 0h0m5 0h0m4 0h0m4 0h0" stroke="#005eff" stroke-width="2.20" stroke-linecap="square" fill="none" transform="scale(0.5)"/>
<path d="M753 88h0m26 8h0m0 0h0m-2 1h0m-9 2h0m-7 4h0m-4 6h0m3 4h0m2 8h0m0 1h0" stroke="#008aff" stroke-width="2.20" stroke-linecap="square" fill="none" transform="scale(0.5)"/>
<path d="M780 97h0" stroke="#00b6ff" stroke-width="2.20" stroke-linecap="square" fill="none" transform="scale(0.5)"/>
<path d="M758 96h0m2 0h0m0 0h0m-13 9h0m0 1h0m1 0h0m20 13h0m0 1h0m0 2h0" stroke="#00e3ff" stroke-width="2.20" stroke-linecap="square" fill="none" transform="scale(0.5)"/>
<path d="M789 86h0m-1 2h0m-1 2h0m-3 2h0m-24 2h0m-12 11h0m1 0h0m35 4h0m4 3h0" stroke="#10ffee" stroke-width="2.20" stroke-linecap="square" fill="none" transform="scale(0.5)"/>
<path d="M760 67h0m26 18h0m1 0h0m1 0h0m-3 2h0m0 0h0m3 0h0m-1 1h0m2 1h0m-1 1h0m0 0h0m3 0h0m-6 1h0m1 1h0m2 0h0m-1 1h0m5 5h0m-5 11h0m1 0h0m1 1h0m1 0h0m-5 1h0" stroke="#3cffc2" stroke-width="2.20" stroke-linecap="square" fill="none" transform="scale(0.5)"/>
<path d="M784 81h0m-2 2h0m1 2h0m6 2h0m-3 1h0m4 0h0m0 0h0m-8 1h0m4 0h0m2 0h0m0 0h0m2 1h0m-7 1h0m0 0h0m3 1h0m2 0h0m3 0h0m-4 1h0m-3 1h0m9 4h0m-1 5h0m-4 4h0m-2 1h0m1 0h0" stroke="#69ff95" stroke-width="2.20" stroke-linecap="square" fill="none" transform="scale(0.5)"/>
<path d="M785 83h0m1 0h0m1 3h0m5 3h0m-9 2h0m4 0h0m-3 1h0m9 0h0m-9 1h0m9 0h0m-2 1h0m2 0h0m-11 1h0m13 0h0m-4 2h0m3 0h0m-2 4h0m0 1h0m-4 3h0m-1 2h0" stroke="#95ff69" stroke-width="2.20" stroke-linecap="square" fill="none" transform="scale(0.5)"/>
<path d="M783 87h0m3 0h0m-3 6h0m0 0h0m7 0h0m-5 1h0m-1 1h0m1 0h0m-3 1h0m8 0h0m-9 1h0m0 0h0m4 0h0m3 0h0m3 0h0m-9 1h0m10 2h0m2 1h0m-2 1h0m1 0h0m-5 1h0m-3 2h0m-1 3h0" stroke="#c2ff3c" stroke-width="2.20" stroke-linecap="square" fill="none" transform="scale(0.5)"/>
<path d="M789 93h0m-5 2h0m-2 1h0m1 1h0m4 0h0m-4 1h0m4 0h0m3 2h0m3 0h0m0 1h0m-11 1h0m10 2h0m-7 1h0m0 1h0" stroke="#eeff10" stroke-width="2.20" stroke-linecap="square" fill="none" transform="scale(0.5)"/>
<path d="M787 97h0m2 0h0m-4 1h0m1 0h0m0 0h0m-3 1h0m-1 1h0m1 0h0m3 0h0m4 0h0m-4 2h0m-1 2h0m2 0h0" stroke="#ffe300" stroke-width="2.20" stroke-linecap="square" fill="none" transform="scale(0.5)"/>
<path d="M787 99h0m0 1h0m-2 1h0m0 0h0m2 1h0" stroke="#ffb600" stroke-width="2.20" stroke-linecap="square" fill="none" transform="scale(0.5)"/>
</g>
<rect x="400.80" y="30.80" width="3.30" height="33.60" fill="url(#jet)"/>
<line x1="404.10" y1="31.50" x2="405.10" y2="31.50" stroke="#555" stroke-width="0.4"/>
<text x="405.30" y="32.70" font-size="3.4" fill="#666">232.4</text>
<line x1="404.10" y1="39.65" x2="405.10" y2="39.65" stroke="#555" stroke-width="0.4"/>
<text x="405.30" y="40.85" font-size="3.4" fill="#666">75.33</text>
<line x1="404.10" y1="47.80" x2="405.10" y2="47.80" stroke="#555" stroke-width="0.4"/>
<text x="405.30" y="49.00" font-size="3.4" fill="#666">23.97</text>
<line x1="404.10" y1="55.95" x2="405.10" y2="55.95" stroke="#555" stroke-width="0.4"/>
<text x="405.30" y="57.15" font-size="3.4" fill="#666">6.914</text>
<line x1="404.10" y1="64.10" x2="405.10" y2="64.10" stroke="#555" stroke-width="0.4"/>
<text x="405.30" y="65.30" font-size="3.4" fill="#666">0</text>
<rect x="366.90" y="82.30" width="32.80" height="33.40" fill="#fff" stroke="#b5b5b5" stroke-width="0.8"/>
<path d="M364.50 116.10h2M366.50 116.10v2M364.50 113.18h2M369.37 116.10v2M364.50 110.25h2M372.24 116.10v2M364.50 107.33h2M375.12 116.10v2M364.50 104.41h2M377.99 116.10v2M364.50 101.48h2M380.86 116.10v2M364.50 98.56h2M383.73 116.10v2M364.50 95.64h2M386.60 116.10v2M364.50 92.72h2M389.47 116.10v2M364.50 89.79h2M392.35 116.10v2M364.50 86.87h2M395.22 116.10v2M364.50 83.95h2M398.09 116.10v2" stroke="#666" stroke-width="0.6"/>
<g filter="url(#bl)">
<path d="M751 212h0m31 6h0" stroke="#00007f" stroke-width="2.20" stroke-linecap="square" fill="none" transform="scale(0.5)"/>
<path d="M775 190h0m2 2h0m-36 8h0m21 1h0m6 0h0m-5 2h0m-6 1h0m5 0h0m1 0h0m9 5h0m-21 1h0m27 0h0m3 0h0m-30 2h0m22 2h0m0 1h0m0 0h0m5 0h0m0 2h0m-5 1h0m-4 5h0" stroke="#0000ab" stroke-width="2.20" stroke-linecap="square" fill="none" transform="scale(0.5)"/>
<path d="M756 179h0m2 1h0m8 5h0m15 0h0m-35 2h0m26 0h0m0 0h0m-6 1h0m13 2h0m-4 1h0m-4 1h0m-18 1h0m18 1h0m7 1h0m-23 2h0m12 0h0m3 0h0m0 0h0m4 0h0m-14 1h0m7 0h0m13 0h0m-20 2h0m6 0h0m4 0h0m1 0h0m4 0h0m-29 1h0m20 0h0m1 0h0m0 0h0m15 1h0m-20 1h0m1 0h0m6 0h0m7 0h0m-12 1h0m2 0h0m-16 1h0m11 0h0m4 0h0m4 2h0m4 0h0m-17 2h0m19 0h0m4 0h0m0 1h0m-29 1h0m21 0h0m10 0h0m-32 1h0m1 0h0m3 0h0m15 0h0m6 0h0m-18 1h0m22 0h0m-28 1h0m25 0h0m2 0h0m-21 2h0m14 0h0m1 0h0m7 0h0m1 0h0m2 0h0m-14 1h0m11 0h0m6 0h0m-13 2h0m6 0h0m0 0h0m0 1h0m-6 2h0m-2 1h0" stroke="#0000d8" stroke-width="2.20" stroke-linecap="square" fill="none" transform="scale(0.5)"/>
<path d="M758 178h0m-4 1h0m10 1h0m16 0h0m-26 1h0m4 0h0m19 0h0m-23 1h0m3 0h0m15 0h0m-23 1h0m14 0h0m1 0h0m1 0h0m2 0h0m-1 1h0m18 0h0m0 0h0m-28 1h0m8 0h0m11 0h0m-30 1h0m17 0h0m3 0h0m14 0h0m0 0h0m-17 1h0m2 0h0m10 0h0m0 0h0m8 0h0m-22 1h0m17 0h0m6 0h0m-18 1h0m15 0h0m2 0h0m-21 1h0m19 0h0m3 0h0m-7 1h0m-8 1h0m4 0h0m4 0h0m-3 1h0m3 0h0m-4 1h0m3 0h0m-20 1h0m5 0h0m-8 1h0m12 0h0m9 0h0m4 0h0m-24 1h0m7 0h0m3 0h0m3 0h0m2 0h0m4 0h0m4 0h0m-36 1h0m9 0h0m19 0h0m12 0h0m-24 1h0m2 0h0m19 0h0m1 0h0m-28 2h0m9 0h0m5 0h0m1 0h0m-22 1h0m3 0h0m13 0h0m3 0h0m16 0h0m-23 1h0m1 0h0m21 0h0m8 0h0m-13 1h0m5 0h0m-30 1h0m2 0h0m6 0h0m2 0h0m9 0h0m5 0h0m0 0h0m-26 1h0m5 0h0m2 0h0m3 0h0m24 0h0m-12 1h0m2 0h0m-21 1h0m3 0h0m3 0h0m2 0h0m8 0h0m1 0h0m1 0h0m5 0h0m8 0h0m-23 1h0m21 0h0m2 0h0m1 0h0m-21 1h0m0 0h0m9 0h0m3 0h0m12 0h0m-31 1h0m1 0h0m2 0h0m7 0h0m14 0h0m1 0h0m2 0h0m-23 1h0m6 0h0m12 0h0m8 0h0m0 0h0m-26 1h0m9 0h0m5 0h0m1 0h0m-15 1h0m9 0h0m14 0h0m-12 1h0m13 0h0m-10 1h0m3 0h0m7 0h0m-27 1h0m18 0h0m-3 1h0m6 0h0m2 0h0m-5 1h0m9 0h0m-10 1h0m2 0h0m-13 1h0m10 0h0m2 1h0" stroke="#0005ff" stroke-width="2.20" stroke-linecap="square" fill="none" transform="scale(0.5)"/>
<path d="M748 177h0m32 1h0m-30 1h0m5 0h0m26 0h0m-28 1h0m2 0h0m12 0h0m16 0h0m-30 1h0m7 0h0m3 0h0m12 0h0m2 0h0m-32 1h0m10 0h0m-3 1h0m2 0h0m5 0h0m4 0h0m16 0h0m-30 1h0m8 0h0m3 0h0m6 0h0m3 0h0m8 0h0m2 0h0m1 0h0m-36 1h0m8 0h0m4 0h0m5 0h0m6 0h0m1 0h0m4 0h0m1 0h0m-24 1h0m14 0h0m3 0h0m8 0h0m4 0h0m5 0h0m1 0h0m-32 1h0m9 0h0m2 0h0m2 0h0m4 0h0m12 0h0m1 0h0m-22 1h0m24 0h0m-33 1h0m1 0h0m10 0h0m3 0h0m3 0h0m0 0h0m1 0h0m1 0h0m10 0h0m2 0h0m-40 1h0m3 0h0m16 0h0m6 0h0m13 0h0m-38 1h0m21 0h0m10 0h0m4 0h0m7 0h0m-39 1h0m29 0h0m-25 1h0m4 0h0m15 0h0m-25 1h0m6 0h0m9 0h0m20 0h0m3 0h0m-25 1h0m5 0h0m23 0h0m-34 1h0m4 0h0m6 0h0m-9 1h0m0 0h0m1 0h0m3 0h0m28 0h0m-39 1h0m6 0h0m-1 1h0m0 0h0m34 0h0m-38 1h0m4 0h0m21 0h0m6 0h0m-25 2h0m3 0h0m-12 1h0m7 0h0m25 0h0m2 0h0m-2 2h0m9 0h0m-36 1h0m3 0h0m10 0h0m11 0h0m-15 1h0m8 0h0m17 0h0m1 0h0m-32 1h0m21 0h0m12 0h0m-25 1h0m7 0h0m9 0h0m6 0h0m0 0h0m-13 1h0m-20 1h0m17 0h0m4 0h0m2 0h0m-13 1h0m5 0h0m20 0h0m-24 1h0m8 0h0m0 0h0m1 0h0m1 0h0m2 0h0m14 0h0m-25 1h0m8 0h0m-8 1h0m-1 1h0m8 0h0m0 0h0m-5 1h0m-3 1h0m11 1h0m3 0h0m-8 1h0m11 0h0m-17 1h0m3 0h0m2 0h0m-2 1h0m7 0h0m2 0h0m4 0h0m-7 1h0m3 0h0m-3 1h0m3 0h0" stroke="#0031ff" stroke-width="2.20" stroke-linecap="square" fill="none" transform="scale(0.5)"/>
<path d="M776 177h0m-30 3h0m24 0h0m-20 1h0m21 0h0m8 0h0m-25 1h0m25 0h0m-25 1h0m13 0h0m4 0h0m6 0h0m-31 1h0m0 0h0m4 0h0m31 0h0m-36 1h0m1 0h0m11 0h0m-12 1h0m1 0h0m0 0h0m11 0h0m10 0h0m-25 1h0m9 0h0m7 0h0m4 1h0m-19 1h0m4 0h0m5 0h0m-9 1h0m11 1h0m3 0h0m4 0h0m-17 1h0m3 0h0m12 0h0m2 0h0m2 0h0m-11 1h0m5 0h0m9 0h0m-18 1h0m4 0h0m15 0h0m-3 1h0m2 0h0m16 0h0m-35 1h0m34 0h0m-7 1h0m-24 1h0m1 1h0m0 0h0m31 5h0m-27 1h0m28 1h0m-21 6h0m14 0h0m-12 2h0m-5 2h0m1 0h0m3 0h0m0 2h0m-5 2h0m17 1h0m-13 1h0m8 0h0m-5 1h0m0 0h0" stroke="#005eff" stroke-width="2.20" stroke-linecap="square" fill="none" transform="scale(0.5)"/>
<path d="M772 181h0m1 0h0m6 0h0m-6 1h0m5 5h0m-21 1h0m-1 4h0m29 10h0m0 0h0m0 1h0m-6 1h0m-22 12h0m7 1h0" stroke="#008aff" stroke-width="2.20" stroke-linecap="square" fill="none" transform="scale(0.5)"/>
<path d="M774 180h0m-29 5h0" stroke="#00b6ff" stroke-width="2.20" stroke-linecap="square" fill="none" transform="scale(0.5)"/>
<path d="M760 174h0" stroke="#10ffee" stroke-width="2.20" stroke-linecap="square" fill="none" transform="scale(0.5)"/>
<path d="M758 170h0m5 0h0m-1 2h0m3 0h0m-5 2h0m2 0h0m24 39h0" stroke="#3cffc2" stroke-width="2.20" stroke-linecap="square" fill="none" transform="scale(0.5)"/>
<path d="M759 170h0m5 0h0m-5 1h0m6 1h0m-1 1h0m-5 2h0m2 0h0m3 1h0m26 16h0m-2 20h0" stroke="#69ff95" stroke-width="2.20" stroke-linecap="square" fill="none" transform="scale(0.5)"/>
<path d="M768 171h0m-12 2h0m6 1h0m5 1h0m-6 1h0m25 12h0m2 2h0m1 2h0m3 3h0m2 2h0m-1 3h0m1 3h0m-4 2h0m0 4h0m-1 1h0" stroke="#95ff69" stroke-width="2.20" stroke-linecap="square" fill="none" transform="scale(0.5)"/>
<path d="M756 172h0m-1 1h0m1 0h0m12 1h0m-11 1h0m10 1h0m-3 2h0m1 0h0m0 1h0m27 17h0m-3 1h0m6 1h0m-5 1h0m1 1h0m3 3h0m-3 1h0m1 0h0m-4 1h0m3 0h0m-5 3h0m5 0h0m1 0h0m-6 2h0m2 2h0" stroke="#c2ff3c" stroke-width="2.20" stroke-linecap="square" fill="none" transform="scale(0.5)"/>
<path d="M769 171h0m-15 2h0m14 2h0m-2 1h0m-2 2h0m22 7h0m-1 5h0m1 1h0m1 4h0m1 1h0m0 3h0m2 1h0m0 1h0m-4 2h0m4 0h0m-4 2h0m7 0h0m-7 1h0m4 2h0" stroke="#eeff10" stroke-width="2.20" stroke-linecap="square" fill="none" transform="scale(0.5)"/>
<path d="M754 174h0m-3 1h0m16 0h0m3 0h0m0 1h0m-11 2h0m6 1h0m-25 19h0m46 1h0m0 0h0m0 2h0m1 0h0m5 1h0m-6 1h0m4 5h0" stroke="#ffe300" stroke-width="2.20" stroke-linecap="square" fill="none" transform="scale(0.5)"/>
<path d="M752 173h0m-2 1h0m1 1h0" stroke="#ffb600" stroke-width="2.20" stroke-linecap="square" fill="none" transform="scale(0.5)"/>
<path d="M772 171h0m2 5h0" stroke="#ff8a00" stroke-width="2.20" stroke-linecap="square" fill="none" transform="scale(0.5)"/>
</g>
<rect x="400.80" y="82.40" width="3.30" height="33.60" fill="url(#jet)"/>
<line x1="404.10" y1="83.10" x2="405.10" y2="83.10" stroke="#555" stroke-width="0.4"/>
<text x="405.30" y="84.30" font-size="3.4" fill="#666">232.4</text>
<line x1="404.10" y1="91.25" x2="405.10" y2="91.25" stroke="#555" stroke-width="0.4"/>
<text x="405.30" y="92.45" font-size="3.4" fill="#666">75.33</text>
<line x1="404.10" y1="99.40" x2="405.10" y2="99.40" stroke="#555" stroke-width="0.4"/>
<text x="405.30" y="100.60" font-size="3.4" fill="#666">23.97</text>
<line x1="404.10" y1="107.55" x2="405.10" y2="107.55" stroke="#555" stroke-width="0.4"/>
<text x="405.30" y="108.75" font-size="3.4" fill="#666">6.914</text>
<line x1="404.10" y1="115.70" x2="405.10" y2="115.70" stroke="#555" stroke-width="0.4"/>
<text x="405.30" y="116.90" font-size="3.4" fill="#666">0</text>
<text x="435.00" y="25.90" font-size="10.1" fill="#111" text-anchor="middle" textLength="23.10" lengthAdjust="spacingAndGlyphs" stroke="#111" stroke-width="0.15">CD95</text>
<rect x="416.65" y="30.70" width="32.80" height="33.40" fill="#fff" stroke="#b5b5b5" stroke-width="0.8"/>
<path d="M414.25 64.50h2M416.25 64.50v2M414.25 61.58h2M419.12 64.50v2M414.25 58.65h2M421.99 64.50v2M414.25 55.73h2M424.87 64.50v2M414.25 52.81h2M427.74 64.50v2M414.25 49.88h2M430.61 64.50v2M414.25 46.96h2M433.48 64.50v2M414.25 44.04h2M436.35 64.50v2M414.25 41.12h2M439.22 64.50v2M414.25 38.19h2M442.10 64.50v2M414.25 35.27h2M444.97 64.50v2M414.25 32.35h2M447.84 64.50v2" stroke="#666" stroke-width="0.6"/>
<g filter="url(#bl)">
<path d="M860 90h0" stroke="#0005ff" stroke-width="2.20" stroke-linecap="square" fill="none" transform="scale(0.5)"/>
<path d="M859 86h0m5 0h0" stroke="#0031ff" stroke-width="2.20" stroke-linecap="square" fill="none" transform="scale(0.5)"/>
<path d="M866 87h0m0 1h0m0 1h0m-4 2h0m4 0h0" stroke="#005eff" stroke-width="2.20" stroke-linecap="square" fill="none" transform="scale(0.5)"/>
<path d="M858 85h0m-1 4h0m4 1h0m-1 2h0m-12 4h0m1 2h0m2 1h0m17 1h0" stroke="#008aff" stroke-width="2.20" stroke-linecap="square" fill="none" transform="scale(0.5)"/>
<path d="M843 89h0m15 1h0m9 2h0m-6 1h0m4 1h0m-19 2h0m21 0h0m-19 1h0m-1 1h0m5 2h0m-9 1h0m9 0h0m-6 1h0m0 0h0m1 0h0m4 1h0" stroke="#00b6ff" stroke-width="2.20" stroke-linecap="square" fill="none" transform="scale(0.5)"/>
<path d="M840 88h0m7 4h0m8 1h0m4 0h0m5 0h0m-10 1h0m9 0h0m-11 1h0m-4 1h0m4 0h0m16 1h0m-22 1h0m2 0h0m0 0h0m-7 1h0m5 0h0m0 1h0m-5 1h0" stroke="#00e3ff" stroke-width="2.20" stroke-linecap="square" fill="none" transform="scale(0.5)"/>
<path d="M843 91h0m10 1h0m-7 1h0m9 0h0m-2 1h0m10 0h0m-18 1h0m6 0h0m4 0h0m1 1h0m2 0h0m-12 1h0m4 0h0m7 0h0m8 0h0m-18 2h0m7 1h0m13 2h0m0 0h0" stroke="#10ffee" stroke-width="2.20" stroke-linecap="square" fill="none" transform="scale(0.5)"/>
<path d="M850 88h0m5 8h0m1 0h0m2 0h0m-5 1h0m0 2h0m1 2h0m2 0h0" stroke="#3cffc2" stroke-width="2.20" stroke-linecap="square" fill="none" transform="scale(0.5)"/>
<path d="M851 85h0m-2 3h0m-3 2h0m12 7h0m-1 1h0m8 1h0m1 0h0m-3 3h0" stroke="#69ff95" stroke-width="2.20" stroke-linecap="square" fill="none" transform="scale(0.5)"/>
<path d="M850 87h0m-7 8h0m18 3h0m-1 2h0m0 2h0" stroke="#95ff69" stroke-width="2.20" stroke-linecap="square" fill="none" transform="scale(0.5)"/>
<path d="M861 99h0" stroke="#c2ff3c" stroke-width="2.20" stroke-linecap="square" fill="none" transform="scale(0.5)"/>
<path d="M868 90h0m3 10h0m-1 3h0m5 1h0m-23 11h0" stroke="#eeff10" stroke-width="2.20" stroke-linecap="square" fill="none" transform="scale(0.5)"/>
<path d="M856 70h0m15 0h0m-5 4h0m-6 5h0m4 1h0m17 0h0m-15 3h0m-7 1h0m19 1h0m-9 1h0m2 1h0m2 0h0m6 1h0m-11 3h0m4 0h0m4 0h0m-5 1h0m2 0h0m4 0h0m-7 1h0m7 0h0m-4 1h0m1 1h0m2 0h0m-1 4h0m-4 1h0m-1 1h0m4 1h0m2 1h0m-12 6h0m-12 1h0m17 0h0m-10 2h0m-3 1h0m3 1h0m0 1h0m-1 1h0m1 3h0m4 2h0m3 0h0m-3 1h0" stroke="#ffe300" stroke-width="2.20" stroke-linecap="square" fill="none" transform="scale(0.5)"/>
<path d="M855 68h0m17 2h0m-13 1h0m-7 2h0m26 0h0m-11 1h0m11 0h0m-20 6h0m2 1h0m5 0h0m-6 1h0m5 0h0m11 0h0m-6 1h0m-14 1h0m27 0h0m2 1h0m-11 1h0m4 0h0m-1 3h0m1 0h0m3 0h0m-4 4h0m0 0h0m-3 1h0m1 0h0m3 0h0m-2 1h0m5 2h0m-12 1h0m1 0h0m12 0h0m12 2h0m-14 1h0m-8 2h0m7 0h0m-10 1h0m3 1h0m6 0h0m0 0h0m12 0h0m1 0h0m-36 1h0m21 0h0m3 0h0m-31 1h0m4 0h0m22 0h0m-17 1h0m8 0h0m22 0h0m-35 1h0m4 0h0m4 0h0m5 0h0m-12 2h0m33 0h0m1 0h0m-27 1h0m2 0h0m3 0h0m-12 2h0m5 0h0m20 0h0m-20 1h0m7 0h0m-9 1h0m16 0h0m-17 1h0m25 0h0m-14 1h0m-6 1h0m8 0h0m3 1h0m0 0h0m1 0h0m-12 1h0m10 1h0m-7 1h0" stroke="#ffb600" stroke-width="2.20" stroke-linecap="square" fill="none" transform="scale(0.5)"/>
<path d="M856 68h0m-5 8h0m19 0h0m7 0h0m-10 1h0m6 3h0m11 2h0m2 2h0m2 0h0m-3 4h0m-3 1h0m-6 1h0m5 0h0m2 0h0m-5 1h0m1 0h0m2 0h0m1 0h0m-3 1h0m-9 1h0m7 0h0m4 0h0m0 1h0m15 0h0m-27 1h0m25 0h0m-14 1h0m2 1h0m-12 1h0m16 0h0m5 1h0m-23 1h0m8 0h0m9 0h0m-7 1h0m-10 1h0m0 0h0m23 0h0m-43 1h0m24 0h0m14 0h0m3 0h0m1 0h0m-29 1h0m16 0h0m13 0h0m1 0h0m-46 1h0m18 0h0m7 0h0m-4 1h0m11 0h0m-26 1h0m4 0h0m5 1h0m20 1h0m7 0h0m-31 2h0m8 0h0m3 0h0m-4 1h0m3 0h0m-4 1h0m-2 1h0m0 0h0m2 0h0m4 0h0m1 0h0m9 1h0m-19 1h0m3 0h0m1 0h0m0 0h0m-3 1h0m-5 1h0m1 0h0m12 0h0m-6 1h0m3 2h0m6 1h0" stroke="#ff8a00" stroke-width="2.20" stroke-linecap="square" fill="none" transform="scale(0.5)"/>
<path d="M888 87h0m1 0h0m-10 1h0m2 1h0m3 1h0m7 0h0m-8 1h0m8 0h0m-2 1h0m-7 1h0m6 0h0m2 0h0m1 1h0m1 0h0m-11 1h0m5 0h0m-7 1h0m3 0h0m4 0h0m-6 1h0m13 0h0m-3 1h0m-9 1h0m7 0h0m1 0h0m2 0h0m-6 1h0m-4 1h0m-27 2h0m13 0h0m11 0h0m12 0h0m-27 1h0m-9 1h0m4 0h0m32 0h0m0 1h0m-23 1h0m1 0h0m8 0h0m-8 1h0m-9 1h0m15 1h0m-9 1h0m-11 1h0m19 1h0m-6 1h0m4 1h0m-1 1h0m5 0h0m-2 2h0m-18 2h0m8 3h0" stroke="#ff5e00" stroke-width="2.20" stroke-linecap="square" fill="none" transform="scale(0.5)"/>
<path d="M882 86h0m10 4h0m-12 2h0m7 3h0m-2 1h0m7 1h0m-8 1h0m4 2h0m2 0h0m-6 1h0m2 0h0m-30 2h0m4 0h0m7 1h0m8 11h0" stroke="#ff3100" stroke-width="2.20" stroke-linecap="square" fill="none" transform="scale(0.5)"/>
<path d="M892 89h0m-7 8h0m-1 1h0" stroke="#ff0500" stroke-width="2.20" stroke-linecap="square" fill="none" transform="scale(0.5)"/>
<path d="M859 104h0" stroke="#d80000" stroke-width="2.20" stroke-linecap="square" fill="none" transform="scale(0.5)"/>
</g>
<rect x="450.55" y="30.80" width="3.30" height="33.60" fill="url(#jet)"/>
<line x1="453.85" y1="31.50" x2="454.85" y2="31.50" stroke="#555" stroke-width="0.4"/>
<text x="455.05" y="32.70" font-size="3.4" fill="#666">640</text>
<line x1="453.85" y1="39.65" x2="454.85" y2="39.65" stroke="#555" stroke-width="0.4"/>
<text x="455.05" y="40.85" font-size="3.4" fill="#666">167.4</text>
<line x1="453.85" y1="47.80" x2="454.85" y2="47.80" stroke="#555" stroke-width="0.4"/>
<text x="455.05" y="49.00" font-size="3.4" fill="#666">42.34</text>
<line x1="453.85" y1="55.95" x2="454.85" y2="55.95" stroke="#555" stroke-width="0.4"/>
<text x="455.05" y="57.15" font-size="3.4" fill="#666">10.2</text>
<line x1="453.85" y1="64.10" x2="454.85" y2="64.10" stroke="#555" stroke-width="0.4"/>
<text x="455.05" y="65.30" font-size="3.4" fill="#666">-0.45</text>
<rect x="416.65" y="82.30" width="32.80" height="33.40" fill="#fff" stroke="#b5b5b5" stroke-width="0.8"/>
<path d="M414.25 116.10h2M416.25 116.10v2M414.25 113.18h2M419.12 116.10v2M414.25 110.25h2M421.99 116.10v2M414.25 107.33h2M424.87 116.10v2M414.25 104.41h2M427.74 116.10v2M414.25 101.48h2M430.61 116.10v2M414.25 98.56h2M433.48 116.10v2M414.25 95.64h2M436.35 116.10v2M414.25 92.72h2M439.22 116.10v2M414.25 89.79h2M442.10 116.10v2M414.25 86.87h2M444.97 116.10v2M414.25 83.95h2M447.84 116.10v2" stroke="#666" stroke-width="0.6"/>
<g filter="url(#bl)">
<path d="M865 193h0m3 4h0m-3 2h0" stroke="#0005ff" stroke-width="2.20" stroke-linecap="square" fill="none" transform="scale(0.5)"/>
<path d="M863 190h0m-3 4h0m7 0h0m-4 1h0m4 0h0m0 1h0m-2 1h0m-2 1h0" stroke="#0031ff" stroke-width="2.20" stroke-linecap="square" fill="none" transform="scale(0.5)"/>
<path d="M862 192h0m3 0h0m2 1h0m-4 1h0m4 4h0" stroke="#005eff" stroke-width="2.20" stroke-linecap="square" fill="none" transform="scale(0.5)"/>
<path d="M865 196h0" stroke="#008aff" stroke-width="2.20" stroke-linecap="square" fill="none" transform="scale(0.5)"/>
<path d="M855 192h0m2 5h0m-9 3h0m4 0h0m-5 5h0m7 5h0" stroke="#3cffc2" stroke-width="2.20" stroke-linecap="square" fill="none" transform="scale(0.5)"/>
<path d="M843 184h0m15 2h0m-12 2h0m6 2h0m2 2h0m3 0h0m-5 1h0m-4 1h0m4 1h0m2 0h0m-6 1h0m6 0h0m1 1h0m-9 1h0m1 0h0m-3 2h0m6 0h0m1 0h0m0 0h0m-4 1h0m2 0h0m-3 1h0m3 0h0m7 0h0m-14 1h0m4 0h0m2 0h0m7 0h0m3 0h0m-8 4h0m3 0h0m-3 2h0m-1 2h0m6 1h0m-1 1h0m-1 2h0m4 3h0m-3 1h0m3 1h0" stroke="#69ff95" stroke-width="2.20" stroke-linecap="square" fill="none" transform="scale(0.5)"/>
<path d="M859 175h0m-17 9h0m9 0h0m-8 1h0m16 3h0m-3 1h0m0 0h0m1 0h0m-12 2h0m8 0h0m3 0h0m-8 1h0m3 0h0m-6 5h0m10 0h0m-10 1h0m1 0h0m3 0h0m-5 1h0m1 1h0m3 0h0m1 0h0m3 0h0m2 0h0m-6 1h0m4 0h0m-7 1h0m0 2h0m5 0h0m3 0h0m4 0h0m-14 1h0m9 0h0m1 0h0m-8 1h0m7 0h0m5 0h0m1 0h0m-14 1h0m8 0h0m5 0h0m0 0h0m-6 3h0m3 0h0m-1 1h0m-1 1h0m3 0h0m2 1h0m2 2h0m0 0h0m-6 2h0m4 0h0m1 4h0m-2 1h0" stroke="#95ff69" stroke-width="2.20" stroke-linecap="square" fill="none" transform="scale(0.5)"/>
<path d="M854 173h0m5 2h0m-13 2h0m7 2h0m-10 1h0m4 2h0m-5 1h0m13 1h0m4 0h0m-6 1h0m2 0h0m-10 1h0m3 0h0m5 0h0m1 0h0m2 0h0m1 0h0m-15 1h0m3 0h0m0 1h0m2 0h0m9 0h0m-4 1h0m-2 1h0m1 0h0m-1 2h0m5 0h0m-6 1h0m-8 1h0m10 1h0m-9 1h0m1 1h0m-2 1h0m6 1h0m7 0h0m-13 1h0m3 1h0m1 2h0m1 1h0m10 0h0m1 6h0m-2 3h0m1 0h0m2 1h0m-2 1h0m-3 1h0m6 2h0m-5 3h0m3 1h0" stroke="#c2ff3c" stroke-width="2.20" stroke-linecap="square" fill="none" transform="scale(0.5)"/>
<path d="M857 171h0m-7 2h0m6 1h0m-4 1h0m-5 1h0m5 0h0m-5 1h0m3 1h0m9 0h0m-11 1h0m-3 2h0m2 0h0m-2 1h0m2 1h0m8 1h0m1 0h0m1 0h0m-2 1h0m3 0h0m-6 1h0m5 0h0m-4 1h0m4 1h0m-18 2h0m4 0h0m10 0h0m-11 1h0m2 2h0m0 1h0m-1 1h0m-3 1h0m1 0h0m1 1h0m2 5h0m9 1h0m33 0h0m-35 12h0" stroke="#eeff10" stroke-width="2.20" stroke-linecap="square" fill="none" transform="scale(0.5)"/>
<path d="M853 173h0m-2 1h0m-3 1h0m9 2h0m-11 1h0m4 0h0m-2 1h0m3 0h0m-4 1h0m1 0h0m3 0h0m3 0h0m4 0h0m-11 1h0m-4 2h0m6 0h0m26 0h0m-22 1h0m-11 7h0m-4 3h0m2 1h0m32 2h0m3 1h0m-2 2h0m2 1h0m-6 1h0m11 2h0m-9 2h0m-6 7h0" stroke="#ffe300" stroke-width="2.20" stroke-linecap="square" fill="none" transform="scale(0.5)"/>
<path d="M857 171h0m-7 5h0m-3 4h0m30 0h0m-6 1h0m7 1h0m-30 1h0m33 0h0m-8 1h0m2 0h0m1 0h0m-7 2h0m6 0h0m-5 1h0m2 1h0m-2 1h0m0 0h0m3 1h0m-4 1h0m5 1h0m3 4h0m-9 2h0m5 0h0m-6 1h0m4 1h0m4 0h0m12 0h0m-12 1h0m13 0h0m-21 1h0m3 0h0m1 0h0m6 0h0m0 0h0m6 0h0m-24 1h0m2 0h0m21 0h0m2 0h0m-17 2h0m7 0h0m5 1h0m1 0h0m7 0h0m-9 1h0m12 0h0m-21 2h0m-9 1h0m14 0h0m-5 1h0m4 0h0m1 0h0m-4 7h0m0 0h0m-4 2h0m-7 1h0m13 1h0m-5 2h0" stroke="#ffb600" stroke-width="2.20" stroke-linecap="square" fill="none" transform="scale(0.5)"/>
<path d="M871 171h0m-1 2h0m3 1h0m2 0h0m-5 1h0m3 0h0m3 1h0m0 0h0m-5 1h0m4 0h0m-5 1h0m2 0h0m1 0h0m3 0h0m-6 1h0m5 0h0m4 0h0m-8 1h0m6 0h0m-9 1h0m2 0h0m4 0h0m3 0h0m-4 1h0m4 0h0m-15 1h0m9 1h0m5 0h0m1 0h0m5 0h0m-22 1h0m6 0h0m3 0h0m4 0h0m-3 1h0m4 0h0m1 0h0m7 0h0m-15 2h0m16 0h0m-23 1h0m3 0h0m11 0h0m8 0h0m6 0h0m-14 1h0m0 0h0m1 0h0m2 0h0m4 0h0m2 0h0m-13 1h0m3 1h0m4 0h0m-6 1h0m-1 1h0m4 0h0m-4 1h0m3 0h0m6 0h0m4 0h0m2 0h0m-14 1h0m3 0h0m9 0h0m7 0h0m-3 1h0m4 0h0m-5 1h0m-15 1h0m0 0h0m3 0h0m3 0h0m13 0h0m-29 1h0m5 0h0m22 0h0m1 0h0m3 0h0m-28 1h0m8 0h0m2 0h0m2 0h0m13 0h0m-28 1h0m4 0h0m12 0h0m6 0h0m-13 1h0m3 0h0m9 0h0m-20 1h0m9 0h0m1 0h0m14 0h0m-21 1h0m6 0h0m5 0h0m-7 1h0m4 0h0m1 0h0m5 0h0m2 0h0m2 0h0m5 0h0m-26 1h0m4 0h0m0 0h0m6 0h0m11 0h0m-13 1h0m1 0h0m0 0h0m3 0h0m-7 1h0m3 0h0m5 0h0m16 0h0m-15 1h0m1 0h0m2 0h0m2 0h0m-12 1h0m14 0h0m-17 1h0m-3 1h0m4 0h0m5 0h0m2 0h0m-14 2h0m2 0h0m3 0h0m3 0h0m1 0h0m2 0h0m5 0h0m-15 1h0m11 0h0m-4 1h0m2 0h0m7 0h0m-17 1h0m9 0h0m3 0h0m-8 1h0m4 0h0m3 0h0m1 0h0m2 0h0m1 0h0m-14 1h0m4 0h0m4 0h0m-8 1h0m1 1h0m4 0h0m1 0h0m7 0h0m-13 1h0m9 0h0m-4 2h0" stroke="#ff8a00" stroke-width="2.20" stroke-linecap="square" fill="none" transform="scale(0.5)"/>
<path d="M859 172h0m12 0h0m2 1h0m0 0h0m-8 1h0m1 0h0m0 0h0m1 1h0m6 0h0m-6 1h0m1 0h0m2 0h0m2 1h0m2 0h0m-2 1h0m9 0h0m-21 1h0m8 0h0m1 0h0m8 0h0m-4 2h0m2 0h0m-12 1h0m12 0h0m5 0h0m4 0h0m-21 1h0m0 0h0m5 0h0m13 0h0m2 0h0m-21 1h0m16 0h0m2 0h0m1 0h0m-13 1h0m7 0h0m7 0h0m1 0h0m1 0h0m-22 1h0m5 0h0m4 0h0m-5 1h0m4 0h0m8 0h0m4 0h0m2 0h0m-14 1h0m18 0h0m-16 1h0m17 0h0m-19 1h0m17 0h0m1 0h0m-10 1h0m4 0h0m2 0h0m2 0h0m-28 1h0m15 0h0m10 0h0m8 0h0m-10 1h0m7 0h0m3 0h0m-10 2h0m3 0h0m-3 1h0m2 0h0m5 0h0m5 0h0m-35 1h0m28 0h0m-12 2h0m0 0h0m6 0h0m4 0h0m5 0h0m2 0h0m3 0h0m1 0h0m-37 1h0m7 0h0m10 0h0m2 0h0m0 0h0m6 0h0m10 0h0m-33 1h0m11 0h0m-11 1h0m34 0h0m-5 1h0m-19 1h0m13 1h0m0 1h0m7 0h0m-29 1h0m11 1h0m7 1h0m9 0h0m-28 1h0m11 0h0m4 0h0m12 0h0m-16 1h0m5 0h0m-15 2h0m8 0h0m-5 1h0m5 0h0m0 0h0m8 0h0m-10 1h0m7 0h0m1 0h0m1 0h0m2 0h0m7 0h0m-16 1h0m1 0h0m5 0h0m1 0h0m2 0h0m1 0h0m-19 1h0m14 0h0m5 0h0m0 0h0m5 0h0m-14 1h0m8 0h0m-6 1h0m0 1h0m-9 2h0m-5 1h0m2 0h0m4 0h0m0 1h0m0 0h0m2 0h0m0 0h0" stroke="#ff5e00" stroke-width="2.20" stroke-linecap="square" fill="none" transform="scale(0.5)"/>
<path d="M862 170h0m-1 1h0m3 0h0m1 0h0m11 1h0m-6 3h0m-8 1h0m6 2h0m-6 2h0m20 0h0m-17 1h0m-1 1h0m15 0h0m4 1h0m-19 1h0m22 0h0m-23 3h0m21 0h0m0 0h0m-2 4h0m3 0h0m5 1h0m-3 1h0m-1 2h0m2 1h0m5 2h0m-3 5h0m-13 1h0m-11 3h0m11 0h0m7 0h0m-7 3h0m-1 1h0m3 0h0m0 2h0m2 2h0m-4 1h0m1 1h0m-2 1h0m-12 2h0m-4 3h0m2 1h0" stroke="#ff3100" stroke-width="2.20" stroke-linecap="square" fill="none" transform="scale(0.5)"/>
<path d="M861 168h0m6 2h0m4 1h0m-7 1h0m3 0h0m14 11h0m4 2h0m4 5h0m1 0h0m-3 1h0m5 1h0m-1 1h0m1 4h0m-14 18h0" stroke="#ff0500" stroke-width="2.20" stroke-linecap="square" fill="none" transform="scale(0.5)"/>
<path d="M859 171h0m3 2h0" stroke="#d80000" stroke-width="2.20" stroke-linecap="square" fill="none" transform="scale(0.5)"/>
</g>
<rect x="450.55" y="82.40" width="3.30" height="33.60" fill="url(#jet)"/>
<line x1="453.85" y1="83.10" x2="454.85" y2="83.10" stroke="#555" stroke-width="0.4"/>
<text x="455.05" y="84.30" font-size="3.4" fill="#666">640</text>
<line x1="453.85" y1="91.25" x2="454.85" y2="91.25" stroke="#555" stroke-width="0.4"/>
<text x="455.05" y="92.45" font-size="3.4" fill="#666">167.4</text>
<line x1="453.85" y1="99.40" x2="454.85" y2="99.40" stroke="#555" stroke-width="0.4"/>
<text x="455.05" y="100.60" font-size="3.4" fill="#666">42.34</text>
<line x1="453.85" y1="107.55" x2="454.85" y2="107.55" stroke="#555" stroke-width="0.4"/>
<text x="455.05" y="108.75" font-size="3.4" fill="#666">10.2</text>
<line x1="453.85" y1="115.70" x2="454.85" y2="115.70" stroke="#555" stroke-width="0.4"/>
<text x="455.05" y="116.90" font-size="3.4" fill="#666">-0.45</text>
<text x="485.30" y="25.90" font-size="10.1" fill="#111" text-anchor="middle" textLength="18.10" lengthAdjust="spacingAndGlyphs" stroke="#111" stroke-width="0.15">KI67</text>
<rect x="466.40" y="30.70" width="32.80" height="33.40" fill="#fff" stroke="#b5b5b5" stroke-width="0.8"/>
<path d="M464.00 64.50h2M466.00 64.50v2M464.00 61.58h2M468.87 64.50v2M464.00 58.65h2M471.74 64.50v2M464.00 55.73h2M474.62 64.50v2M464.00 52.81h2M477.49 64.50v2M464.00 49.88h2M480.36 64.50v2M464.00 46.96h2M483.23 64.50v2M464.00 44.04h2M486.10 64.50v2M464.00 41.12h2M488.97 64.50v2M464.00 38.19h2M491.85 64.50v2M464.00 35.27h2M494.72 64.50v2M464.00 32.35h2M497.59 64.50v2" stroke="#666" stroke-width="0.6"/>
<g filter="url(#bl)">
<path d="M977 97h0" stroke="#0000ab" stroke-width="2.20" stroke-linecap="square" fill="none" transform="scale(0.5)"/>
<path d="M976 91h0m1 2h0m1 0h0m1 1h0m-1 1h0m-1 3h0" stroke="#0000d8" stroke-width="2.20" stroke-linecap="square" fill="none" transform="scale(0.5)"/>
<path d="M977 78h0m-2 14h0m4 0h0m-4 1h0m1 2h0m-1 1h0m2 0h0m0 0h0m-2 1h0m4 0h0m-4 1h0m0 0h0" stroke="#0005ff" stroke-width="2.20" stroke-linecap="square" fill="none" transform="scale(0.5)"/>
<path d="M980 75h0m-4 3h0m-1 13h0m2 0h0m-2 1h0m3 5h0m1 0h0" stroke="#0031ff" stroke-width="2.20" stroke-linecap="square" fill="none" transform="scale(0.5)"/>
<path d="M978 74h0m0 5h0m2 19h0" stroke="#005eff" stroke-width="2.20" stroke-linecap="square" fill="none" transform="scale(0.5)"/>
<path d="M959 90h0m-2 7h0" stroke="#008aff" stroke-width="2.20" stroke-linecap="square" fill="none" transform="scale(0.5)"/>
<path d="M955 76h0m-1 1h0m-4 5h0m5 1h0m-13 1h0m16 6h0m-1 2h0m2 0h0m-1 3h0m0 1h0m28 7h0m4 0h0m-13 9h0m0 3h0m0 0h0" stroke="#00b6ff" stroke-width="2.20" stroke-linecap="square" fill="none" transform="scale(0.5)"/>
<path d="M957 77h0m2 1h0m-13 4h0m10 0h0m-11 2h0m5 2h0m-1 1h0m7 6h0m30 10h0m4 2h0m-14 6h0m1 0h0m0 1h0m-5 1h0m4 0h0m-2 1h0m5 0h0m0 0h0m-2 2h0m2 0h0m-5 1h0m3 0h0m-1 1h0" stroke="#00e3ff" stroke-width="2.20" stroke-linecap="square" fill="none" transform="scale(0.5)"/>
<path d="M950 81h0m8 2h0m-12 1h0m4 1h0m-3 1h0m8 6h0m32 13h0m3 0h0m-16 7h0m4 0h0m-6 2h0m2 1h0m2 0h0m2 2h0" stroke="#10ffee" stroke-width="2.20" stroke-linecap="square" fill="none" transform="scale(0.5)"/>
<path d="M949 85h0m-1 1h0m42 20h0" stroke="#3cffc2" stroke-width="2.20" stroke-linecap="square" fill="none" transform="scale(0.5)"/>
<path d="M974 116h0" stroke="#69ff95" stroke-width="2.20" stroke-linecap="square" fill="none" transform="scale(0.5)"/>
<path d="M987 89h0m-16 4h0m1 6h0m-6 5h0" stroke="#ffe300" stroke-width="2.20" stroke-linecap="square" fill="none" transform="scale(0.5)"/>
<path d="M960 67h0m22 17h0m3 0h0m-10 1h0m7 0h0m-16 2h0m16 0h0m-13 1h0m19 0h0m-9 1h0m-5 1h0m10 0h0m2 0h0m-15 2h0m10 0h0m-13 2h0m1 0h0m3 0h0m10 0h0m-15 1h0m-14 1h0m9 0h0m24 0h0m-25 2h0m0 0h0m25 0h0m-17 1h0m10 0h0m1 0h0m-10 1h0m9 0h0m-12 1h0m9 0h0m1 0h0m-15 4h0m12 0h0m5 2h0m4 1h0m-8 1h0m-16 5h0" stroke="#ffb600" stroke-width="2.20" stroke-linecap="square" fill="none" transform="scale(0.5)"/>
<path d="M958 70h0m4 5h0m19 5h0m2 1h0m-8 2h0m2 0h0m-17 1h0m8 0h0m1 0h0m3 0h0m-4 1h0m10 0h0m5 0h0m-12 1h0m3 0h0m3 0h0m2 0h0m1 0h0m-16 1h0m1 0h0m16 0h0m-21 1h0m13 0h0m3 0h0m1 0h0m0 0h0m6 0h0m5 0h0m-10 1h0m0 0h0m1 0h0m7 0h0m0 0h0m-18 1h0m8 0h0m2 0h0m2 0h0m0 0h0m-19 1h0m5 0h0m21 0h0m-18 2h0m1 0h0m1 0h0m10 0h0m-9 1h0m2 1h0m11 0h0m-11 1h0m-1 1h0m1 0h0m-2 1h0m1 1h0m5 0h0m-8 1h0m0 0h0m6 0h0m-12 1h0m1 0h0m2 0h0m1 0h0m3 0h0m-12 1h0m21 0h0m2 0h0m-18 1h0m7 0h0m4 0h0m6 0h0m-22 1h0m16 0h0m0 0h0m4 0h0m1 0h0m-31 1h0m15 0h0m2 0h0m8 0h0m4 0h0m1 0h0m-6 1h0m0 0h0m11 0h0m0 0h0m-31 2h0m12 0h0m2 0h0m15 0h0m-13 1h0m3 0h0m7 0h0m1 0h0m-21 1h0m25 1h0m-23 1h0m7 0h0m12 1h0m-15 1h0m2 1h0m-7 1h0m20 0h0" stroke="#ff8a00" stroke-width="2.20" stroke-linecap="square" fill="none" transform="scale(0.5)"/>
<path d="M971 68h0m-17 2h0m2 0h0m-5 2h0m3 0h0m9 1h0m-15 1h0m18 3h0m-6 1h0m-17 1h0m16 0h0m6 0h0m16 0h0m0 0h0m-8 1h0m8 1h0m3 0h0m-5 1h0m4 2h0m1 0h0m-19 1h0m3 1h0m15 0h0m-18 1h0m7 0h0m4 0h0m-2 1h0m4 0h0m9 0h0m-45 1h0m25 0h0m7 1h0m0 0h0m2 0h0m1 0h0m3 0h0m-19 1h0m1 0h0m2 0h0m6 0h0m11 0h0m5 0h0m-25 1h0m24 1h0m2 0h0m3 0h0m-26 1h0m3 1h0m26 0h0m-19 1h0m16 0h0m-25 1h0m17 0h0m7 1h0m3 0h0m-35 1h0m10 0h0m4 0h0m-25 1h0m34 0h0m3 0h0m4 0h0m3 0h0m-15 1h0m7 0h0m-36 1h0m16 0h0m2 0h0m16 0h0m-20 1h0m4 0h0m2 0h0m7 0h0m6 0h0m0 0h0m3 0h0m-31 1h0m12 0h0m0 0h0m7 0h0m0 0h0m0 0h0m1 0h0m7 0h0m-32 1h0m6 0h0m4 0h0m3 0h0m0 0h0m2 0h0m-4 1h0m4 0h0m16 0h0m4 0h0m-18 1h0m2 0h0m9 0h0m0 0h0m-27 1h0m0 0h0m17 0h0m11 0h0m1 0h0m-26 1h0m10 0h0m1 0h0m3 0h0m8 0h0m3 0h0m7 0h0m-31 1h0m3 0h0m1 0h0m2 0h0m14 0h0m1 0h0m-17 1h0m0 0h0m7 0h0m17 0h0m-14 1h0m20 0h0m-14 1h0m9 0h0m-17 1h0m2 0h0m4 0h0m1 0h0m10 0h0m-15 2h0m3 1h0m-14 1h0m6 3h0m7 2h0m1 0h0" stroke="#ff5e00" stroke-width="2.20" stroke-linecap="square" fill="none" transform="scale(0.5)"/>
<path d="M968 68h0m6 3h0m-14 1h0m1 0h0m1 0h0m2 7h0m-3 2h0m10 0h0m-7 2h0m-21 4h0m32 0h0m-28 2h0m14 0h0m3 0h0m-20 1h0m6 0h0m-3 1h0m22 0h0m-23 2h0m5 0h0m40 0h0m-24 1h0m-25 1h0m9 0h0m3 0h0m38 0h0m-44 1h0m1 1h0m22 0h0m-16 1h0m-12 1h0m0 0h0m6 0h0m42 0h0m-9 1h0m-39 1h0m9 0h0m20 1h0m7 0h0m-35 1h0m6 2h0m1 0h0m5 0h0m10 0h0m-9 1h0m-10 1h0m2 0h0m7 0h0m23 0h0m2 0h0m-17 1h0m2 0h0m-8 1h0m10 0h0m0 0h0m5 0h0m10 0h0m-10 1h0m2 0h0m-17 1h0m4 0h0m-14 1h0m21 0h0m-3 1h0m0 0h0m3 0h0m-3 1h0m16 0h0m-20 2h0m5 0h0m4 0h0m-6 1h0m0 1h0m1 0h0m0 1h0m1 0h0m-2 3h0m-1 1h0" stroke="#ff3100" stroke-width="2.20" stroke-linecap="square" fill="none" transform="scale(0.5)"/>
<path d="M973 74h0m-11 4h0m14 3h0m-26 8h0m-3 2h0m4 7h0m-7 1h0m48 0h0m-45 1h0m5 2h0m16 3h0m1 5h0m3 1h0m-2 1h0m-16 4h0m17 2h0m-10 1h0m3 1h0m1 0h0m2 0h0" stroke="#ff0500" stroke-width="2.20" stroke-linecap="square" fill="none" transform="scale(0.5)"/>
</g>
<rect x="500.30" y="30.80" width="3.30" height="33.60" fill="url(#jet)"/>
<line x1="503.60" y1="31.50" x2="504.60" y2="31.50" stroke="#555" stroke-width="0.4"/>
<text x="504.80" y="32.70" font-size="3.4" fill="#666">10013</text>
<line x1="503.60" y1="39.65" x2="504.60" y2="39.65" stroke="#555" stroke-width="0.4"/>
<text x="504.80" y="40.85" font-size="3.4" fill="#666">2186</text>
<line x1="503.60" y1="47.80" x2="504.60" y2="47.80" stroke="#555" stroke-width="0.4"/>
<text x="504.80" y="49.00" font-size="3.4" fill="#666">477.1</text>
<line x1="503.60" y1="55.95" x2="504.60" y2="55.95" stroke="#555" stroke-width="0.4"/>
<text x="504.80" y="57.15" font-size="3.4" fill="#666">104</text>
<line x1="503.60" y1="64.10" x2="504.60" y2="64.10" stroke="#555" stroke-width="0.4"/>
<text x="504.80" y="65.30" font-size="3.4" fill="#666">22.46</text>
<rect x="466.40" y="82.30" width="32.80" height="33.40" fill="#fff" stroke="#b5b5b5" stroke-width="0.8"/>
<path d="M464.00 116.10h2M466.00 116.10v2M464.00 113.18h2M468.87 116.10v2M464.00 110.25h2M471.74 116.10v2M464.00 107.33h2M474.62 116.10v2M464.00 104.41h2M477.49 116.10v2M464.00 101.48h2M480.36 116.10v2M464.00 98.56h2M483.23 116.10v2M464.00 95.64h2M486.10 116.10v2M464.00 92.72h2M488.97 116.10v2M464.00 89.79h2M491.85 116.10v2M464.00 86.87h2M494.72 116.10v2M464.00 83.95h2M497.59 116.10v2" stroke="#666" stroke-width="0.6"/>
<g filter="url(#bl)">
<path d="M973 192h0" stroke="#0000d8" stroke-width="2.20" stroke-linecap="square" fill="none" transform="scale(0.5)"/>
<path d="M976 173h0m8 12h0m0 0h0m2 1h0m5 6h0m1 0h0m-17 1h0m-1 1h0" stroke="#0031ff" stroke-width="2.20" stroke-linecap="square" fill="none" transform="scale(0.5)"/>
<path d="M972 172h0m2 4h0m0 0h0m1 1h0m2 0h0m0 2h0m-4 1h0m11 4h0m-1 1h0m2 1h0m-3 2h0m7 1h0m-1 2h0m1 1h0m1 0h0m-16 2h0m2 0h0" stroke="#005eff" stroke-width="2.20" stroke-linecap="square" fill="none" transform="scale(0.5)"/>
<path d="M974 176h0m2 2h0m-4 1h0m4 0h0m-2 1h0m13 6h0m1 2h0m-5 1h0m-6 2h0m4 0h0m8 0h0m0 0h0m-5 1h0m6 0h0m-2 1h0m-2 1h0m4 0h0m-16 7h0" stroke="#008aff" stroke-width="2.20" stroke-linecap="square" fill="none" transform="scale(0.5)"/>
<path d="M947 182h0m0 2h0m39 3h0m-2 2h0m0 2h0m4 4h0m-13 1h0m1 2h0m0 3h0" stroke="#00b6ff" stroke-width="2.20" stroke-linecap="square" fill="none" transform="scale(0.5)"/>
<path d="M967 170h0m-23 13h0m-2 3h0m-3 8h0m37 5h0" stroke="#00e3ff" stroke-width="2.20" stroke-linecap="square" fill="none" transform="scale(0.5)"/>
<path d="M966 168h0m-1 1h0m2 1h0m1 0h0m-21 11h0m0 2h0m1 2h0m-3 1h0m2 1h0m-9 1h0m2 4h0m29 16h0m-12 16h0" stroke="#10ffee" stroke-width="2.20" stroke-linecap="square" fill="none" transform="scale(0.5)"/>
<path d="M964 169h0m3 0h0m-2 1h0m1 0h0m-1 2h0m-24 15h0m1 2h0m38 7h0m-2 1h0" stroke="#3cffc2" stroke-width="2.20" stroke-linecap="square" fill="none" transform="scale(0.5)"/>
<path d="M948 184h0m-9 7h0m47 22h0m-2 3h0" stroke="#69ff95" stroke-width="2.20" stroke-linecap="square" fill="none" transform="scale(0.5)"/>
<path d="M963 197h0" stroke="#ffe300" stroke-width="2.20" stroke-linecap="square" fill="none" transform="scale(0.5)"/>
<path d="M971 173h0m-13 5h0m9 0h0m-9 1h0m24 1h0m-22 4h0m3 5h0m0 0h0m0 0h0m9 5h0m-14 1h0m-5 6h0" stroke="#ffb600" stroke-width="2.20" stroke-linecap="square" fill="none" transform="scale(0.5)"/>
<path d="M970 172h0m-15 1h0m-6 1h0m5 1h0m1 1h0m0 0h0m6 2h0m-9 1h0m7 0h0m2 0h0m-6 1h0m5 0h0m1 0h0m2 0h0m-5 1h0m4 2h0m14 0h0m-20 1h0m9 0h0m0 1h0m2 0h0m4 0h0m-1 1h0m-12 1h0m4 0h0m12 0h0m-16 1h0m5 0h0m3 0h0m-8 1h0m7 1h0m6 0h0m-10 1h0m2 1h0m6 1h0m2 1h0m0 0h0m-6 1h0m0 1h0m0 1h0m24 0h0m-26 1h0m3 0h0m1 0h0m4 1h0m2 0h0m-8 1h0m4 0h0m1 1h0m-12 1h0m2 0h0m5 0h0m5 1h0m0 0h0m12 0h0m-13 1h0m-8 1h0m5 0h0m8 1h0m-21 4h0m-3 2h0m37 0h0m-39 1h0m14 0h0m-4 3h0m-1 1h0m9 3h0m-12 1h0" stroke="#ff8a00" stroke-width="2.20" stroke-linecap="square" fill="none" transform="scale(0.5)"/>
<path d="M957 170h0m3 1h0m4 0h0m-9 1h0m10 1h0m-13 1h0m-2 1h0m8 0h0m0 0h0m-4 1h0m5 0h0m0 0h0m0 0h0m4 0h0m8 0h0m-6 1h0m-13 1h0m11 0h0m2 0h0m-14 1h0m6 0h0m1 0h0m4 0h0m7 0h0m12 0h0m-29 2h0m19 0h0m-22 1h0m7 0h0m9 0h0m16 0h0m-31 1h0m20 1h0m-14 1h0m3 0h0m1 0h0m12 1h0m1 0h0m-18 1h0m5 0h0m9 0h0m-17 1h0m3 0h0m4 0h0m21 1h0m-31 1h0m10 0h0m9 0h0m3 0h0m-26 1h0m11 0h0m3 0h0m1 0h0m10 0h0m-17 1h0m9 0h0m3 0h0m-3 1h0m2 0h0m3 0h0m-25 1h0m7 1h0m0 1h0m7 0h0m6 0h0m-3 1h0m2 0h0m7 0h0m1 0h0m-17 1h0m40 0h0m-36 1h0m-12 1h0m14 0h0m5 0h0m8 0h0m19 0h0m1 0h0m2 0h0m-51 1h0m5 0h0m40 1h0m2 0h0m-47 1h0m2 0h0m11 0h0m5 0h0m4 0h0m-17 1h0m11 0h0m8 0h0m0 0h0m4 0h0m1 0h0m1 0h0m16 0h0m5 0h0m-49 1h0m21 0h0m1 0h0m7 0h0m-27 1h0m2 0h0m2 0h0m7 0h0m4 0h0m-11 1h0m41 1h0m-44 1h0m16 0h0m-17 1h0m2 1h0m31 0h0m11 0h0m-40 1h0m8 0h0m7 0h0m-14 2h0m1 1h0m10 0h0m4 1h0m0 0h0m-7 1h0m-2 1h0m2 0h0m-2 1h0" stroke="#ff5e00" stroke-width="2.20" stroke-linecap="square" fill="none" transform="scale(0.5)"/>
<path d="M960 169h0m-1 1h0m4 0h0m-5 1h0m2 0h0m1 0h0m-5 1h0m3 0h0m12 0h0m-11 1h0m1 0h0m2 0h0m6 0h0m-13 1h0m3 0h0m2 0h0m5 0h0m-14 1h0m15 0h0m1 0h0m-10 1h0m5 0h0m-8 1h0m0 0h0m14 0h0m1 0h0m2 0h0m7 0h0m1 0h0m-23 1h0m9 0h0m-17 1h0m13 0h0m10 0h0m-3 1h0m-7 1h0m8 0h0m5 0h0m3 0h0m-7 1h0m-3 1h0m4 0h0m1 0h0m-18 1h0m16 0h0m-2 2h0m-17 1h0m13 0h0m3 0h0m-15 1h0m0 0h0m5 0h0m12 0h0m-22 1h0m2 0h0m6 0h0m13 0h0m9 0h0m-32 1h0m0 0h0m5 0h0m25 0h0m-30 1h0m0 0h0m30 0h0m-34 1h0m0 0h0m5 0h0m4 1h0m42 0h0m0 0h0m-51 1h0m0 0h0m5 0h0m12 1h0m32 0h0m-22 1h0m2 0h0m17 0h0m-45 1h0m1 0h0m-4 1h0m24 0h0m23 0h0m0 0h0m2 0h0m4 0h0m-35 1h0m0 0h0m0 0h0m11 0h0m14 0h0m8 0h0m1 0h0m-51 1h0m9 0h0m10 0h0m3 0h0m0 0h0m3 0h0m2 0h0m25 0h0m-37 1h0m11 0h0m23 0h0m-46 1h0m8 0h0m2 0h0m1 0h0m5 0h0m2 0h0m-1 1h0m2 0h0m3 0h0m25 0h0m1 0h0m0 0h0m-41 1h0m4 0h0m3 0h0m0 0h0m28 0h0m1 0h0m3 0h0m-44 1h0m8 0h0m5 0h0m7 0h0m4 0h0m-24 1h0m5 0h0m2 0h0m1 0h0m6 0h0m22 0h0m-20 1h0m2 0h0m12 0h0m13 0h0m1 0h0m-44 1h0m4 0h0m1 0h0m2 0h0m6 0h0m25 0h0m7 0h0m-46 1h0m5 0h0m9 0h0m4 0h0m20 0h0m-37 1h0m2 0h0m14 0h0m24 0h0m3 0h0m-20 1h0m7 0h0m1 0h0m8 0h0m2 0h0m-24 1h0m3 0h0m13 0h0m-21 1h0m5 0h0m-5 1h0m13 0h0m1 0h0m5 0h0m2 0h0m-28 1h0m28 1h0m-19 1h0m5 0h0m1 0h0m13 0h0m-10 1h0m10 0h0m-15 1h0m2 0h0m5 0h0m2 0h0m-2 2h0m-5 1h0m-5 2h0" stroke="#ff3100" stroke-width="2.20" stroke-linecap="square" fill="none" transform="scale(0.5)"/>
<path d="M962 169h0m-1 1h0m-11 5h0m20 0h0m0 2h0m0 1h0m-15 1h0m25 2h0m0 0h0m-9 3h0m0 0h0m2 0h0m-22 4h0m-9 2h0m2 0h0m-1 1h0m10 0h0m-12 1h0m4 0h0m-3 1h0m2 2h0m9 2h0m37 0h0m2 1h0m-36 1h0m31 0h0m-38 1h0m11 0h0m30 0h0m-31 1h0m29 0h0m2 0h0m-4 1h0m2 0h0m1 0h0m3 0h0m1 0h0m-42 1h0m9 2h0m23 0h0m-19 1h0m-10 1h0m38 0h0m-42 1h0m10 0h0m24 0h0m-31 1h0m35 0h0m-33 1h0m8 0h0m19 0h0m3 0h0m2 0h0m-23 1h0m16 0h0m-26 1h0m1 0h0m1 0h0m9 0h0m2 0h0m3 0h0m3 0h0m-6 1h0m5 0h0m1 0h0m-16 1h0m7 0h0m-8 1h0m14 0h0m11 0h0m-11 1h0m-3 1h0m4 0h0m2 0h0m-1 1h0m1 0h0m4 0h0m0 0h0m1 0h0m-21 1h0m7 0h0m3 0h0m3 0h0m3 0h0m-7 1h0m2 0h0m1 0h0m1 0h0m2 0h0m3 0h0m-5 1h0m-11 1h0m13 0h0m-11 1h0m7 0h0m-5 1h0" stroke="#ff0500" stroke-width="2.20" stroke-linecap="square" fill="none" transform="scale(0.5)"/>
<path d="M958 171h0m10 5h0m4 3h0m-27 12h0m3 1h0m-5 2h0m10 0h0m-9 5h0m3 0h0m5 2h0m5 2h0m0 1h0m-3 1h0m15 13h0m8 2h0m-7 2h0m-3 1h0" stroke="#d80000" stroke-width="2.20" stroke-linecap="square" fill="none" transform="scale(0.5)"/>
<path d="M974 216h0" stroke="#ab0000" stroke-width="2.20" stroke-linecap="square" fill="none" transform="scale(0.5)"/>
</g>
<rect x="500.30" y="82.40" width="3.30" height="33.60" fill="url(#jet)"/>
<line x1="503.60" y1="83.10" x2="504.60" y2="83.10" stroke="#555" stroke-width="0.4"/>
<text x="504.80" y="84.30" font-size="3.4" fill="#666">10013</text>
<line x1="503.60" y1="91.25" x2="504.60" y2="91.25" stroke="#555" stroke-width="0.4"/>
<text x="504.80" y="92.45" font-size="3.4" fill="#666">2186</text>
<line x1="503.60" y1="99.40" x2="504.60" y2="99.40" stroke="#555" stroke-width="0.4"/>
<text x="504.80" y="100.60" font-size="3.4" fill="#666">477.1</text>
<line x1="503.60" y1="107.55" x2="504.60" y2="107.55" stroke="#555" stroke-width="0.4"/>
<text x="504.80" y="108.75" font-size="3.4" fill="#666">104</text>
<line x1="503.60" y1="115.70" x2="504.60" y2="115.70" stroke="#555" stroke-width="0.4"/>
<text x="504.80" y="116.90" font-size="3.4" fill="#666">22.46</text>
<text x="7.00" y="151.90" font-size="10.2" fill="#000" font-weight="bold" textLength="7.00" lengthAdjust="spacingAndGlyphs" stroke="#000" stroke-width="0.45">B</text>
<rect x="61.0" y="145.50" width="9.6" height="5.0" fill="#1f77b4" stroke="#114163" stroke-width="0.6"/>
<circle cx="79.1" cy="148.00" r="4.4" fill="#fff" stroke="#111" stroke-width="0.8"/>
<text x="79.10" y="150.35" font-size="6.5" fill="#111" text-anchor="middle">1</text>
<text x="87.10" y="151.00" font-size="8.4" fill="#111" textLength="33.90" lengthAdjust="spacingAndGlyphs" stroke="#111" stroke-width="0.15">CD8+ CM</text>
<rect x="61.0" y="155.16" width="9.6" height="5.0" fill="#2ca02c" stroke="#185818" stroke-width="0.6"/>
<circle cx="79.1" cy="157.66" r="4.4" fill="#fff" stroke="#111" stroke-width="0.8"/>
<text x="79.10" y="160.01" font-size="6.5" fill="#111" text-anchor="middle">2</text>
<text x="87.10" y="160.66" font-size="8.4" fill="#111" textLength="32.90" lengthAdjust="spacingAndGlyphs" stroke="#111" stroke-width="0.15">CD8+ EM</text>
<rect x="61.0" y="164.82" width="9.6" height="5.0" fill="#d62728" stroke="#751516" stroke-width="0.6"/>
<circle cx="79.1" cy="167.32" r="4.4" fill="#fff" stroke="#111" stroke-width="0.8"/>
<text x="79.10" y="169.67" font-size="6.5" fill="#111" text-anchor="middle">3</text>
<text x="87.10" y="170.32" font-size="8.4" fill="#111" textLength="60.10" lengthAdjust="spacingAndGlyphs" stroke="#111" stroke-width="0.15">CD4+ Th2 Ki67++</text>
<rect x="61.0" y="174.48" width="9.6" height="5.0" fill="#9467bd" stroke="#513867" stroke-width="0.6"/>
<circle cx="79.1" cy="176.98" r="4.4" fill="#fff" stroke="#111" stroke-width="0.8"/>
<text x="79.10" y="179.33" font-size="6.5" fill="#111" text-anchor="middle">4</text>
<text x="87.10" y="179.98" font-size="8.4" fill="#111" textLength="57.90" lengthAdjust="spacingAndGlyphs" stroke="#111" stroke-width="0.15">CD4+ Th1 or Th9</text>
<rect x="61.0" y="184.14" width="9.6" height="5.0" fill="#8c564b" stroke="#4d2f29" stroke-width="0.6"/>
<circle cx="79.1" cy="186.64" r="4.4" fill="#fff" stroke="#111" stroke-width="0.8"/>
<text x="79.10" y="188.99" font-size="6.5" fill="#111" text-anchor="middle">5</text>
<text x="87.10" y="189.64" font-size="8.4" fill="#111" textLength="73.60" lengthAdjust="spacingAndGlyphs" stroke="#111" stroke-width="0.15">CD4+ CD8+HLA-DRhi</text>
<rect x="61.0" y="193.80" width="9.6" height="5.0" fill="#e377c2" stroke="#7c416a" stroke-width="0.6"/>
<circle cx="79.1" cy="196.30" r="4.4" fill="#fff" stroke="#111" stroke-width="0.8"/>
<text x="79.10" y="198.65" font-size="6.5" fill="#111" text-anchor="middle">6</text>
<text x="87.10" y="199.30" font-size="8.4" fill="#111" textLength="59.80" lengthAdjust="spacingAndGlyphs" stroke="#111" stroke-width="0.15">CD4+ Th2 CD95+</text>
<rect x="61.0" y="203.46" width="9.6" height="5.0" fill="#7f7f7f" stroke="#454545" stroke-width="0.6"/>
<circle cx="79.1" cy="205.96" r="4.4" fill="#fff" stroke="#111" stroke-width="0.8"/>
<text x="79.10" y="208.31" font-size="6.5" fill="#111" text-anchor="middle">7</text>
<text x="87.10" y="208.96" font-size="8.4" fill="#111" textLength="38.50" lengthAdjust="spacingAndGlyphs" stroke="#111" stroke-width="0.15">CD8+ Tscm</text>
<rect x="61.0" y="213.12" width="9.6" height="5.0" fill="#bcbd22" stroke="#676712" stroke-width="0.6"/>
<circle cx="79.1" cy="215.62" r="4.4" fill="#fff" stroke="#111" stroke-width="0.8"/>
<text x="79.10" y="217.97" font-size="6.5" fill="#111" text-anchor="middle">8</text>
<text x="87.10" y="218.62" font-size="8.4" fill="#111" textLength="39.80" lengthAdjust="spacingAndGlyphs" stroke="#111" stroke-width="0.15">CD4+ T-reg</text>
<rect x="61.0" y="222.78" width="9.6" height="5.0" fill="#17becf" stroke="#0c6871" stroke-width="0.6"/>
<circle cx="79.1" cy="225.28" r="4.4" fill="#fff" stroke="#111" stroke-width="0.8"/>
<text x="79.10" y="227.63" font-size="6.5" fill="#111" text-anchor="middle">9</text>
<text x="87.10" y="228.28" font-size="8.4" fill="#111" textLength="34.10" lengthAdjust="spacingAndGlyphs" stroke="#111" stroke-width="0.15">CD4+ Th2</text>
<rect x="61.0" y="232.44" width="9.6" height="5.0" fill="#ff7f0e" stroke="#8c4507" stroke-width="0.6"/>
<circle cx="79.1" cy="234.94" r="4.4" fill="#fff" stroke="#111" stroke-width="0.8"/>
<text x="79.10" y="237.29" font-size="6.0" fill="#111" text-anchor="middle" textLength="6.20" lengthAdjust="spacingAndGlyphs">10</text>
<text x="87.10" y="237.94" font-size="8.4" fill="#111" textLength="33.60" lengthAdjust="spacingAndGlyphs" stroke="#111" stroke-width="0.15">CD4+ Th1</text>
<path d="M109.00 248.50C110.43 247.05 112.77 246.17 114.60 245.80C116.43 245.43 118.20 245.60 120.00 246.30C121.80 247.00 124.12 248.48 125.40 250.00C126.68 251.52 125.93 253.82 127.70 255.40C129.47 256.98 132.95 257.82 136.00 259.50C139.05 261.18 142.90 263.12 146.00 265.50C149.10 267.88 152.18 270.55 154.60 273.80C157.02 277.05 159.38 281.47 160.50 285.00C161.62 288.53 161.63 291.60 161.30 295.00C160.97 298.40 159.62 302.48 158.50 305.40C157.38 308.32 156.52 310.32 154.60 312.50C152.68 314.68 149.30 316.83 147.00 318.50C144.70 320.17 143.38 320.87 140.80 322.50C138.22 324.13 134.83 327.68 131.50 328.30C128.17 328.92 123.88 327.25 120.80 326.20C117.72 325.15 115.30 323.62 113.00 322.00C110.70 320.38 108.78 318.42 107.00 316.50C105.22 314.58 104.63 312.35 102.30 310.50C99.97 308.65 95.30 307.28 93.00 305.40C90.70 303.52 89.77 301.27 88.50 299.20C87.23 297.13 86.43 294.92 85.40 293.00C84.37 291.08 83.23 289.78 82.30 287.70C81.37 285.62 79.93 282.70 79.80 280.50C79.67 278.30 80.05 276.42 81.50 274.50C82.95 272.58 86.25 271.25 88.50 269.00C90.75 266.75 93.08 262.75 95.00 261.00C96.92 259.25 98.17 259.58 100.00 258.50C101.83 257.42 104.50 256.17 106.00 254.50C107.50 252.83 107.57 249.95 109.00 248.50Z" fill="none" stroke="#9a9a9a" stroke-width="0.8" stroke-dasharray="2.2 1.3"/>
<path d="M70 294.3 L95 290.9 L101.5 288.6 L114.6 280.8 L119.2 271.5 L122.5 266.5 L133.8 254.8" fill="none" stroke="#e8141c" stroke-width="1.45" stroke-dasharray="4.6 2.6" stroke-linejoin="round"/>
<circle cx="116.2" cy="253.1" r="4.5" fill="#fff" stroke="#111" stroke-width="0.9"/>
<text x="116.20" y="255.50" font-size="6.7" fill="#111" text-anchor="middle">1</text>
<circle cx="101.6" cy="276.9" r="4.5" fill="#fff" stroke="#111" stroke-width="0.9"/>
<text x="101.60" y="279.30" font-size="6.7" fill="#111" text-anchor="middle">2</text>
<circle cx="97.0" cy="296.0" r="4.5" fill="#fff" stroke="#111" stroke-width="0.9"/>
<text x="97.00" y="298.40" font-size="6.7" fill="#111" text-anchor="middle">3</text>
<circle cx="131.8" cy="270.0" r="4.5" fill="#fff" stroke="#111" stroke-width="0.9"/>
<text x="131.80" y="272.40" font-size="6.7" fill="#111" text-anchor="middle">4</text>
<circle cx="148.2" cy="280.0" r="4.5" fill="#fff" stroke="#111" stroke-width="0.9"/>
<text x="148.20" y="282.40" font-size="6.7" fill="#111" text-anchor="middle">5</text>
<circle cx="133.8" cy="309.2" r="4.5" fill="#fff" stroke="#111" stroke-width="0.9"/>
<text x="133.80" y="311.60" font-size="6.7" fill="#111" text-anchor="middle">6</text>
<circle cx="93.1" cy="264.6" r="4.5" fill="#fff" stroke="#111" stroke-width="0.9"/>
<text x="93.10" y="267.00" font-size="6.7" fill="#111" text-anchor="middle">7</text>
<circle cx="148.9" cy="296.9" r="4.5" fill="#fff" stroke="#111" stroke-width="0.9"/>
<text x="148.90" y="299.30" font-size="6.7" fill="#111" text-anchor="middle">8</text>
<circle cx="116.2" cy="313.4" r="4.5" fill="#fff" stroke="#111" stroke-width="0.9"/>
<text x="116.20" y="315.80" font-size="6.7" fill="#111" text-anchor="middle">9</text>
<circle cx="126.9" cy="290.0" r="4.5" fill="#fff" stroke="#111" stroke-width="0.9"/>
<text x="126.90" y="292.40" font-size="6.2" fill="#111" text-anchor="middle" textLength="6.40" lengthAdjust="spacingAndGlyphs">10</text>
<text x="67.70" y="260.40" font-size="8.5" fill="#111" textLength="20.00" lengthAdjust="spacingAndGlyphs" stroke="#111" stroke-width="0.15">CD8+</text>
<text x="146.90" y="325.80" font-size="8.5" fill="#111" textLength="19.60" lengthAdjust="spacingAndGlyphs" stroke="#111" stroke-width="0.15">CD4+</text>
<line x1="63.20" y1="314.60" x2="63.20" y2="254.00" stroke="#000" stroke-width="1.5"/>
<path d="M63.2 250.8 L65.2 255.2 L61.2 255.2 Z" fill="#000"/>
<text x="0.00" y="0.00" font-size="10.0" fill="#111" textLength="26.40" lengthAdjust="spacingAndGlyphs" transform="translate(64.4,343.9) rotate(-90)" stroke="#111" stroke-width="0.15">tSNE2</text>
<text x="66.30" y="347.30" font-size="8.3" fill="#111" textLength="21.40" lengthAdjust="spacingAndGlyphs" stroke="#111" stroke-width="0.15">tSNE1</text>
<line x1="92.30" y1="344.60" x2="152.50" y2="344.60" stroke="#000" stroke-width="1.5"/>
<path d="M156.5 344.6 L152.0 342.6 L152.0 346.6 Z" fill="#000"/>
<text x="288.50" y="179.30" font-size="10.0" fill="#111" text-anchor="middle" textLength="34.60" lengthAdjust="spacingAndGlyphs" stroke="#111" stroke-width="0.15">CLL 129</text>
<text x="371.50" y="179.30" font-size="10.0" fill="#111" text-anchor="middle" textLength="34.60" lengthAdjust="spacingAndGlyphs" stroke="#111" stroke-width="0.15">CLL 130</text>
<text x="451.80" y="179.30" font-size="10.0" fill="#111" text-anchor="middle" textLength="34.00" lengthAdjust="spacingAndGlyphs" stroke="#111" stroke-width="0.15">CLL 132</text>
<line x1="252.85" y1="186.20" x2="252.85" y2="252.70" stroke="#555" stroke-width="1.3"/>
<line x1="252.85" y1="263.80" x2="252.85" y2="330.80" stroke="#555" stroke-width="1.3"/>
<line x1="260.40" y1="337.10" x2="327.30" y2="337.10" stroke="#555" stroke-width="1.3"/>
<line x1="338.00" y1="337.10" x2="405.00" y2="337.10" stroke="#555" stroke-width="1.3"/>
<line x1="415.80" y1="337.10" x2="482.70" y2="337.10" stroke="#555" stroke-width="1.3"/>
<text x="238.60" y="214.10" font-size="8.4" fill="#222" text-anchor="middle" textLength="17.50" lengthAdjust="spacingAndGlyphs" stroke="#111" stroke-width="0.15">0.1%</text>
<text x="238.80" y="223.10" font-size="8.4" fill="#222" text-anchor="middle" textLength="23.90" lengthAdjust="spacingAndGlyphs" stroke="#111" stroke-width="0.15">DMSO</text>
<text x="226.40" y="287.60" font-size="8.4" fill="#222" text-anchor="middle" textLength="24.30" lengthAdjust="spacingAndGlyphs" stroke="#111" stroke-width="0.15">300nM</text>
<text x="226.60" y="297.00" font-size="8.4" fill="#222" text-anchor="middle" textLength="31.20" lengthAdjust="spacingAndGlyphs" stroke="#111" stroke-width="0.15">duvelisib</text>
<line x1="245.00" y1="303.90" x2="245.00" y2="267.50" stroke="#000" stroke-width="1.5"/>
<path d="M245 264.2 L247 268.6 L243 268.6 Z" fill="#000"/>
<text x="0.00" y="0.00" font-size="10.0" fill="#111" textLength="26.90" lengthAdjust="spacingAndGlyphs" transform="translate(246.6,333.6) rotate(-90)" stroke="#111" stroke-width="0.15">tSNE2</text>
<text x="251.20" y="347.20" font-size="9.8" fill="#111" textLength="27.40" lengthAdjust="spacingAndGlyphs" stroke="#111" stroke-width="0.15">tSNE1</text>
<line x1="281.20" y1="344.60" x2="324.50" y2="344.60" stroke="#000" stroke-width="1.5"/>
<path d="M328.5 344.6 L324 342.6 L324 346.6 Z" fill="#000"/>
<g filter="url(#bl2)">
<path d="M584 370h0m6 0h0m-5 1h0m3 0h0m1 0h0m2 0h0m-7 1h0m1 0h0m1 0h0m5 0h0m-4 1h0m0 0h0m1 0h0m5 0h0m-15 1h0m1 0h0m4 0h0m2 0h0m-5 1h0m4 0h0m0 0h0m1 0h0m5 0h0m3 0h0m0 0h0m-19 1h0m8 0h0m4 0h0m1 0h0m7 0h0m-7 1h0m-4 1h0m4 0h0m1 0h0m6 0h0m-10 1h0m11 0h0m-10 1h0m4 0h0m-2 2h0" stroke="#1f77b4" stroke-width="2.70" stroke-linecap="square" fill="none" transform="scale(0.5)"/>
<path d="M539 368h0m24 6h0m14 2h0m-58 2h0m29 4h0m19 1h0m9 0h0m-25 2h0m14 0h0m-30 2h0m9 0h0m6 1h0m22 0h0m7 0h0m0 2h0m-25 1h0m10 0h0m-9 1h0m10 2h0m-44 1h0m40 0h0m1 1h0m-40 1h0m8 0h0m47 0h0m4 0h0m-26 2h0m6 1h0m-14 1h0m16 0h0m-16 1h0m27 1h0m-41 1h0m1 0h0m39 2h0m-29 2h0m32 0h0m-49 1h0m39 0h0m-1 1h0m-7 1h0m-5 1h0m-1 1h0m-29 1h0m48 0h0m-30 1h0m7 1h0m1 0h0m-6 2h0m4 0h0m-24 1h0m32 0h0m-15 3h0m13 4h0m-1 1h0m-2 6h0m7 0h0m-11 17h0m93 0h0m-20 32h0m18 1h0m-40 16h0" stroke="#2ca02c" stroke-width="2.70" stroke-linecap="square" fill="none" transform="scale(0.5)"/>
<path d="M591 377h0m-19 34h0m0 2h0m3 1h0m-8 1h0m2 1h0m2 1h0m0 0h0m3 0h0m-8 1h0m11 0h0m-12 1h0m0 0h0m6 0h0m9 0h0m-25 1h0m12 0h0m16 0h0m6 0h0m0 0h0m-15 1h0m7 0h0m-22 1h0m2 0h0m10 0h0m5 0h0m-14 1h0m1 0h0m3 0h0m3 0h0m7 0h0m3 0h0m-26 1h0m5 0h0m3 0h0m17 0h0m-18 1h0m8 0h0m2 0h0m15 0h0m-25 1h0m5 0h0m13 0h0m-18 1h0m1 0h0m2 0h0m11 0h0m3 1h0m-53 1h0m8 0h0m35 0h0m-37 1h0m35 0h0m5 0h0m2 0h0m9 0h0m-30 1h0m7 0h0m13 0h0m8 0h0m-57 1h0m11 0h0m26 0h0m-32 1h0m1 0h0m6 0h0m6 0h0m-9 1h0m-3 1h0m3 0h0m9 0h0m-15 1h0m77 0h0m-78 3h0m0 2h0m2 1h0m6 0h0m13 0h0m-2 1h0m-5 1h0m6 0h0m67 0h0m-75 1h0m4 0h0m8 1h0m-7 2h0m67 2h0m-79 2h0m-3 3h0m11 0h0m-15 2h0m18 0h0m0 4h0m-10 4h0m-7 4h0m69 11h0m-6 3h0" stroke="#d62728" stroke-width="2.70" stroke-linecap="square" fill="none" transform="scale(0.5)"/>
<path d="M601 385h0m8 2h0m6 0h0m-9 5h0m-19 1h0m11 2h0m6 0h0m14 1h0m-31 1h0m17 1h0m-10 1h0m5 1h0m-14 2h0m3 0h0m1 0h0m8 1h0m17 0h0m6 1h0m-23 1h0m10 0h0m4 0h0m21 1h0m-46 1h0m42 0h0m-13 2h0m-31 2h0m24 1h0m2 0h0m-15 1h0m-6 2h0m35 0h0m-39 1h0m9 30h0m-12 1h0m62 2h0m-37 21h0m16 8h0m-32 22h0" stroke="#9467bd" stroke-width="2.70" stroke-linecap="square" fill="none" transform="scale(0.5)"/>
<path d="M618 396h0m-1 2h0m0 0h0m-5 1h0m3 0h0m3 0h0m4 0h0m-3 1h0m-1 1h0m2 0h0m-2 1h0m5 1h0m-6 2h0" stroke="#8c564b" stroke-width="2.70" stroke-linecap="square" fill="none" transform="scale(0.5)"/>
<path d="M601 414h0m13 3h0m-11 3h0m3 0h0m-9 1h0m11 1h0m11 0h0m-11 2h0m2 1h0m-10 1h0m18 1h0m4 0h0m-20 1h0m11 0h0m-1 2h0m3 0h0m2 1h0m4 9h0m4 1h0m1 2h0m-12 2h0m11 0h0m-8 1h0m2 1h0m-7 1h0m13 0h0m1 1h0m0 0h0m-14 1h0m4 0h0m2 0h0m4 0h0m-11 1h0m0 0h0m-2 1h0m4 0h0m3 0h0m7 1h0m5 0h0m-12 1h0m2 0h0m0 0h0m2 0h0m3 0h0m-14 1h0m8 0h0m5 0h0m6 0h0m-13 1h0m0 0h0m1 0h0m5 0h0m0 0h0m4 0h0m-7 1h0m6 0h0m1 0h0m1 0h0m1 0h0m3 0h0m-30 1h0m21 0h0m10 0h0m-27 1h0m20 0h0m2 0h0m5 0h0m0 0h0m11 0h0m-31 1h0m3 0h0m5 0h0m4 0h0m-7 1h0m3 0h0m10 0h0m11 0h0m-35 1h0m9 0h0m17 0h0m0 0h0m3 0h0m-25 1h0m2 0h0m1 0h0m17 0h0m-17 1h0m1 0h0m20 0h0m18 0h0m-36 1h0m11 0h0m3 0h0m1 0h0m7 0h0m-31 1h0m1 0h0m19 0h0m-29 1h0m8 0h0m7 0h0m4 0h0m1 0h0m11 0h0m8 0h0m2 0h0m-31 1h0m4 0h0m4 0h0m3 0h0m6 0h0m4 0h0m2 0h0m1 0h0m-29 1h0m6 0h0m4 0h0m5 0h0m1 0h0m10 0h0m0 0h0m10 0h0m-38 1h0m10 0h0m2 0h0m3 0h0m1 0h0m6 0h0m3 0h0m2 0h0m4 0h0m1 0h0m-86 1h0m69 0h0m7 0h0m1 0h0m-1 1h0m0 0h0m2 0h0m-26 1h0m12 0h0m1 0h0m7 0h0m13 0h0m-40 1h0m8 0h0m2 0h0m8 0h0m2 0h0m6 0h0m5 0h0m6 0h0m1 0h0m1 0h0m-19 1h0m5 0h0m1 0h0m8 0h0m-25 1h0m8 0h0m7 0h0m0 0h0m3 0h0m2 0h0m3 0h0m7 0h0m2 0h0m1 0h0m3 0h0m-24 1h0m9 0h0m8 0h0m-69 1h0m20 0h0m7 0h0m0 0h0m27 0h0m2 0h0m-65 1h0m35 0h0m0 0h0m6 0h0m6 0h0m12 0h0m5 0h0m-51 1h0m7 0h0m5 0h0m1 0h0m8 0h0m5 0h0m6 0h0m20 0h0m3 0h0m2 0h0m-53 1h0m2 0h0m49 0h0m-59 1h0m1 0h0m9 0h0m1 0h0m18 0h0m2 0h0m30 0h0m9 0h0m0 0h0m-87 1h0m22 0h0m10 0h0m2 0h0m2 0h0m4 0h0m0 0h0m1 0h0m5 0h0m22 0h0m5 0h0m2 0h0m1 0h0m0 0h0m3 0h0m-62 1h0m5 0h0m13 0h0m10 0h0m5 0h0m2 0h0m1 0h0m3 0h0m15 0h0m-57 1h0m13 0h0m0 0h0m3 0h0m4 0h0m0 0h0m4 0h0m7 0h0m10 0h0m3 0h0m12 0h0m1 0h0m3 0h0m-42 1h0m3 0h0m6 0h0m7 0h0m1 0h0m4 0h0m0 0h0m-31 1h0m1 0h0m7 0h0m3 0h0m0 0h0m0 0h0m26 0h0m1 0h0m15 0h0m3 0h0m-80 1h0m37 0h0m0 0h0m3 0h0m13 0h0m0 0h0m1 0h0m2 0h0m1 0h0m-30 1h0m1 0h0m2 0h0m6 0h0m8 0h0m7 0h0m15 0h0m-45 1h0m2 0h0m27 0h0m5 0h0m4 0h0m1 0h0m-45 1h0m3 0h0m1 0h0m14 0h0m8 0h0m8 0h0m5 0h0m1 0h0m5 0h0m1 0h0m24 0h0m-66 1h0m4 0h0m2 0h0m10 0h0m5 0h0m0 0h0m2 0h0m2 0h0m-40 1h0m18 0h0m0 0h0m6 0h0m2 0h0m1 0h0m3 0h0m0 0h0m11 0h0m2 0h0m35 0h0m-69 1h0m2 0h0m7 0h0m1 0h0m2 0h0m1 0h0m4 0h0m1 0h0m4 0h0m5 0h0m3 0h0m2 0h0m14 0h0m-44 1h0m1 0h0m5 0h0m2 0h0m10 0h0m3 0h0m2 0h0m1 0h0m4 0h0m6 0h0m10 0h0m4 0h0m4 0h0m-45 1h0m7 0h0m2 0h0m2 0h0m3 0h0m9 0h0m0 0h0m0 0h0m1 0h0m2 0h0m1 0h0m9 0h0m-37 1h0m2 0h0m4 0h0m6 0h0m6 0h0m14 0h0m23 0h0m-54 1h0m0 0h0m1 0h0m8 0h0m2 0h0m9 0h0m2 0h0m6 0h0m3 0h0m6 0h0m5 0h0m-40 1h0m8 0h0m2 0h0m1 0h0m3 0h0m6 0h0m6 0h0m2 0h0m3 0h0m11 0h0m-44 1h0m9 0h0m3 0h0m14 0h0m2 0h0m3 0h0m2 0h0m-36 1h0m3 0h0m2 0h0m13 0h0m9 0h0m2 0h0m0 0h0m5 0h0m1 0h0m0 0h0m3 0h0m-38 1h0m9 0h0m11 0h0m2 0h0m13 0h0m-32 1h0m2 0h0m10 0h0m0 0h0m13 0h0m1 0h0m5 0h0m6 0h0m-41 1h0m25 0h0m19 0h0m-35 1h0m13 0h0m2 0h0m12 0h0m4 0h0m-27 1h0m10 0h0m11 0h0m-27 1h0m18 0h0m-15 1h0m8 0h0m5 0h0m3 0h0m-17 1h0m12 0h0m8 0h0m-10 4h0" stroke="#e377c2" stroke-width="2.70" stroke-linecap="square" fill="none" transform="scale(0.5)"/>
<path d="M561 375h0m6 1h0m-9 1h0m8 0h0m1 0h0m2 0h0m-12 1h0m10 0h0m3 0h0m-20 1h0m7 0h0m7 0h0m1 0h0m-3 1h0m0 0h0m0 0h0m0 0h0m-7 1h0m11 0h0m-37 6h0m9 0h0m4 2h0m6 0h0m-2 1h0m-7 1h0m1 0h0m3 0h0m2 0h0m-8 1h0m8 0h0m3 0h0m-12 1h0m6 0h0m2 0h0m1 0h0m2 0h0m-15 1h0m3 0h0m1 0h0m8 0h0m4 0h0m0 0h0m-7 2h0m4 0h0m3 0h0m-12 2h0m2 0h0m0 0h0m3 1h0m0 0h0m2 0h0m-3 1h0m2 0h0m2 0h0m3 0h0m-2 1h0m3 0h0m-3 1h0" stroke="#7f7f7f" stroke-width="2.70" stroke-linecap="square" fill="none" transform="scale(0.5)"/>
<path d="M624 420h0m3 0h0m1 0h0m-6 2h0m8 0h0m1 1h0m-9 1h0m1 1h0m0 0h0m2 4h0" stroke="#bcbd22" stroke-width="2.70" stroke-linecap="square" fill="none" transform="scale(0.5)"/>
<path d="M528 427h0m71 0h0m-16 2h0m8 0h0m2 0h0m2 0h0m-3 1h0m-3 1h0m5 0h0m3 0h0m2 0h0m10 0h0m-19 1h0m13 0h0m1 0h0m5 0h0m-32 1h0m9 0h0m4 0h0m2 0h0m1 0h0m10 0h0m3 0h0m1 0h0m-66 1h0m55 0h0m8 0h0m-36 1h0m22 0h0m4 0h0m2 0h0m0 0h0m8 0h0m-37 1h0m15 0h0m5 0h0m4 0h0m5 0h0m1 0h0m4 0h0m-15 1h0m5 0h0m1 0h0m5 0h0m7 0h0m1 0h0m2 0h0m4 0h0m-35 1h0m1 0h0m2 0h0m3 0h0m5 0h0m9 0h0m13 0h0m6 0h0m-58 1h0m11 0h0m13 0h0m0 0h0m2 0h0m21 0h0m34 0h0m-69 1h0m16 0h0m5 0h0m3 0h0m0 0h0m1 0h0m3 0h0m5 0h0m4 0h0m-49 1h0m5 0h0m30 0h0m0 0h0m4 0h0m10 0h0m5 0h0m-59 1h0m11 0h0m8 0h0m2 0h0m8 0h0m6 0h0m11 0h0m14 0h0m4 0h0m-52 1h0m1 0h0m7 0h0m0 0h0m9 0h0m12 0h0m13 0h0m4 0h0m3 0h0m1 0h0m-68 1h0m4 0h0m2 0h0m14 0h0m23 0h0m9 0h0m15 0h0m-66 1h0m13 0h0m1 0h0m5 0h0m10 0h0m11 0h0m2 0h0m2 0h0m5 0h0m3 0h0m4 0h0m4 0h0m1 0h0m12 0h0m-67 1h0m12 0h0m16 0h0m6 0h0m24 0h0m9 0h0m-62 1h0m1 0h0m0 0h0m9 0h0m1 0h0m2 0h0m9 0h0m4 0h0m5 0h0m1 0h0m1 0h0m11 0h0m0 0h0m3 0h0m1 0h0m1 0h0m-46 1h0m4 0h0m6 0h0m3 0h0m4 0h0m5 0h0m15 0h0m4 0h0m-54 1h0m3 0h0m17 0h0m0 0h0m5 0h0m0 0h0m1 0h0m1 0h0m1 0h0m1 0h0m5 0h0m1 0h0m11 0h0m4 0h0m0 0h0m4 0h0m1 0h0m-41 1h0m2 0h0m20 0h0m-29 1h0m6 0h0m13 0h0m1 0h0m11 0h0m3 0h0m2 0h0m13 0h0m1 0h0m3 0h0m-50 1h0m16 0h0m16 0h0m2 0h0m1 0h0m9 0h0m4 0h0m-57 1h0m12 0h0m3 0h0m1 0h0m3 0h0m3 0h0m3 0h0m7 0h0m0 0h0m5 0h0m10 0h0m3 0h0m6 0h0m1 0h0m-63 1h0m3 0h0m9 0h0m4 0h0m4 0h0m18 0h0m7 0h0m12 0h0m3 0h0m-59 1h0m23 0h0m9 0h0m0 0h0m3 0h0m4 0h0m6 0h0m9 0h0m-50 1h0m0 0h0m4 0h0m1 0h0m8 0h0m3 0h0m2 0h0m4 0h0m2 0h0m5 0h0m3 0h0m0 0h0m7 0h0m4 0h0m3 0h0m-42 1h0m6 0h0m12 0h0m1 0h0m5 0h0m-37 1h0m8 0h0m4 0h0m3 0h0m1 0h0m7 0h0m17 0h0m2 0h0m3 0h0m1 0h0m6 0h0m2 0h0m-45 1h0m5 0h0m13 0h0m8 0h0m2 0h0m5 0h0m5 0h0m13 0h0m2 0h0m5 0h0m-57 1h0m10 0h0m7 0h0m0 0h0m10 0h0m10 0h0m1 0h0m-40 1h0m11 0h0m16 0h0m4 0h0m13 0h0m-47 1h0m3 0h0m2 0h0m3 0h0m14 0h0m3 0h0m3 0h0m3 0h0m2 0h0m6 0h0m1 0h0m8 0h0m2 0h0m-53 1h0m13 0h0m20 0h0m2 0h0m2 0h0m4 0h0m6 0h0m2 0h0m3 0h0m4 0h0m-50 1h0m5 0h0m11 0h0m11 0h0m4 0h0m3 0h0m12 0h0m4 0h0m4 0h0m-56 1h0m2 0h0m2 0h0m2 0h0m14 0h0m4 0h0m1 0h0m8 0h0m3 0h0m9 0h0m3 0h0m-39 1h0m10 0h0m4 0h0m4 0h0m1 0h0m15 0h0m3 0h0m1 0h0m-46 1h0m6 0h0m3 0h0m7 0h0m3 0h0m3 0h0m14 0h0m3 0h0m9 0h0m3 0h0m-43 1h0m3 0h0m7 0h0m2 0h0m2 0h0m3 0h0m6 0h0m2 0h0m4 0h0m0 0h0m13 0h0m43 0h0m-118 1h0m30 0h0m0 0h0m8 0h0m9 0h0m24 0h0m1 0h0m-48 1h0m1 0h0m2 0h0m17 0h0m17 0h0m2 0h0m1 0h0m4 0h0m10 0h0m1 0h0m-65 1h0m17 0h0m10 0h0m3 0h0m5 0h0m6 0h0m4 0h0m4 0h0m2 0h0m0 0h0m1 0h0m0 0h0m-36 1h0m3 0h0m2 0h0m4 0h0m6 0h0m11 0h0m0 0h0m0 0h0m18 0h0m2 0h0m-42 1h0m3 0h0m3 0h0m9 0h0m0 0h0m8 0h0m3 0h0m3 0h0m4 0h0m1 0h0m-27 1h0m3 0h0m6 0h0m6 0h0m0 0h0m3 0h0m5 0h0m3 0h0m4 0h0m1 0h0m-45 1h0m14 0h0m7 0h0m5 0h0m1 0h0m0 0h0m2 0h0m3 0h0m1 0h0m7 0h0m1 0h0m-16 1h0m7 0h0m1 0h0m4 0h0m-18 1h0m5 0h0m4 0h0m-17 1h0m1 0h0m14 0h0m5 0h0m11 0h0m-16 1h0m8 1h0m-29 1h0m9 1h0m0 2h0m-6 2h0m-19 4h0m16 8h0m19 12h0" stroke="#17becf" stroke-width="2.70" stroke-linecap="square" fill="none" transform="scale(0.5)"/>
<path d="M596 396h0m-61 2h0m117 12h0m-16 9h0m2 1h0m-1 1h0m9 0h0m-10 2h0m2 0h0m2 0h0m9 0h0m-11 2h0m-1 1h0m0 1h0m3 0h0m11 0h0m-20 1h0m4 0h0m1 0h0m1 0h0m1 0h0m2 0h0m2 0h0m3 0h0m-16 1h0m6 0h0m12 0h0m-21 1h0m6 0h0m8 0h0m5 1h0m1 0h0m-12 1h0m14 0h0m-20 1h0m8 0h0m7 0h0m5 0h0m-22 2h0m1 0h0m2 0h0m6 0h0m-9 1h0m2 0h0m8 0h0m0 0h0m1 0h0m2 0h0m-11 1h0m14 0h0m2 0h0m-16 1h0m2 0h0m5 0h0m3 0h0m6 0h0m-12 1h0m2 0h0m2 0h0m6 0h0m3 0h0m3 0h0m0 0h0m1 0h0m-20 1h0m1 0h0m5 0h0m7 0h0m1 0h0m4 0h0m1 0h0m6 0h0m-29 1h0m5 0h0m3 0h0m13 0h0m0 0h0m-17 1h0m1 0h0m1 0h0m1 0h0m14 0h0m0 0h0m2 0h0m-48 1h0m28 0h0m6 0h0m2 0h0m7 0h0m1 0h0m1 0h0m5 0h0m-16 1h0m2 0h0m4 0h0m8 0h0m-19 1h0m15 0h0m5 0h0m-8 1h0m4 0h0m-20 1h0m17 0h0m5 0h0m3 0h0m-20 1h0m2 0h0m3 0h0m3 0h0m0 0h0m1 0h0m3 0h0m1 0h0m5 0h0m1 1h0m-14 1h0m1 0h0m3 0h0m6 0h0m-17 1h0m2 0h0m6 0h0m5 0h0m-10 1h0m2 0h0m4 0h0m-4 1h0m-4 1h0m6 0h0m0 0h0m8 0h0m2 0h0m2 0h0m-11 1h0m1 0h0m2 0h0m2 0h0m5 0h0m-12 2h0m0 0h0m1 0h0m3 0h0m2 1h0m3 0h0m5 0h0m-13 2h0m3 0h0m6 1h0m-13 1h0m14 1h0" stroke="#ff7f0e" stroke-width="2.70" stroke-linecap="square" fill="none" transform="scale(0.5)"/>
</g>
<g filter="url(#bl2)">
<path d="M747 372h0m-4 1h0m3 1h0m2 0h0m-5 2h0m8 2h0m-3 1h0m4 5h0" stroke="#1f77b4" stroke-width="2.70" stroke-linecap="square" fill="none" transform="scale(0.5)"/>
<path d="M738 377h0m5 1h0m0 1h0m0 1h0m-2 1h0m3 2h0m-6 1h0m4 0h0m3 1h0m-36 2h0m-13 1h0m44 0h0m2 2h0m-54 1h0m50 0h0m6 1h0m-38 2h0m19 1h0m-20 2h0m11 0h0m3 0h0m1 0h0m-8 1h0m-10 1h0m-13 1h0m45 0h0m5 0h0m-13 2h0m-44 1h0m19 0h0m18 0h0m20 0h0m-42 1h0m30 0h0m7 0h0m-45 1h0m44 0h0m-22 1h0m2 0h0m8 0h0m7 2h0m-41 1h0m2 0h0m9 1h0m18 0h0m-2 2h0m1 1h0m15 0h0m-50 4h0m23 2h0m-6 19h0m114 5h0m-120 11h0m8 2h0m72 3h0m12 10h0" stroke="#2ca02c" stroke-width="2.70" stroke-linecap="square" fill="none" transform="scale(0.5)"/>
<path d="M696 413h0m22 3h0m3 0h0m17 0h0m-14 1h0m3 0h0m1 0h0m3 0h0m5 0h0m-16 1h0m-12 1h0m23 0h0m-23 1h0m4 0h0m15 0h0m6 0h0m3 1h0m6 0h0m-27 1h0m1 0h0m8 0h0m2 0h0m1 0h0m-4 1h0m2 0h0m4 0h0m1 0h0m2 0h0m0 0h0m-38 1h0m5 0h0m1 0h0m4 0h0m5 0h0m6 0h0m9 0h0m1 0h0m0 0h0m2 0h0m7 0h0m7 0h0m0 0h0m-29 1h0m3 0h0m1 0h0m1 0h0m9 0h0m0 0h0m2 0h0m14 0h0m3 0h0m1 0h0m-48 1h0m8 0h0m3 0h0m8 0h0m7 0h0m3 0h0m6 0h0m4 0h0m1 0h0m5 0h0m-58 1h0m4 0h0m4 0h0m1 0h0m22 0h0m2 0h0m1 0h0m3 0h0m10 0h0m7 0h0m0 0h0m-45 1h0m7 0h0m26 0h0m4 0h0m8 0h0m-58 1h0m7 0h0m7 0h0m10 0h0m0 0h0m2 0h0m16 0h0m16 0h0m-51 1h0m14 0h0m5 0h0m1 0h0m7 0h0m15 0h0m-40 1h0m5 0h0m3 0h0m21 0h0m5 0h0m18 0h0m-49 1h0m18 0h0m15 0h0m-48 1h0m8 0h0m23 0h0m2 0h0m2 0h0m-28 1h0m5 0h0m12 0h0m4 0h0m0 0h0m6 0h0m-22 1h0m7 0h0m12 0h0m-23 1h0m18 0h0m-21 1h0m-2 1h0m8 0h0m9 0h0m3 0h0m-12 1h0m9 0h0m12 0h0m0 0h0m4 0h0m-16 1h0m2 0h0m1 0h0m2 0h0m-22 1h0m9 0h0m1 0h0m1 0h0m15 0h0m0 0h0m0 0h0m-28 1h0m4 0h0m1 0h0m3 0h0m1 0h0m9 0h0m2 0h0m3 0h0m4 0h0m-27 1h0m3 0h0m4 0h0m0 0h0m6 0h0m11 0h0m-23 1h0m17 0h0m5 1h0m19 0h0m-37 1h0m7 0h0m2 0h0m4 0h0m16 0h0m-29 1h0m0 0h0m3 0h0m8 0h0m2 0h0m3 0h0m1 0h0m8 0h0m-25 1h0m1 0h0m2 0h0m2 0h0m10 1h0m-14 1h0m1 0h0m9 0h0m2 0h0m1 0h0m2 0h0m-6 1h0m-13 1h0m3 0h0m23 0h0m-25 1h0m10 0h0m0 0h0m1 0h0m4 0h0m-7 1h0m1 0h0m1 0h0m5 0h0m-5 1h0m3 0h0m80 0h0m-86 2h0m7 0h0m-1 1h0m73 1h0m-77 1h0m0 0h0m-8 2h0m34 2h0m64 8h0" stroke="#d62728" stroke-width="2.70" stroke-linecap="square" fill="none" transform="scale(0.5)"/>
<path d="M757 408h0m9 0h0m-2 1h0m-11 1h0m5 0h0m28 0h0m-17 1h0m14 0h0m-22 1h0m12 0h0m8 0h0m1 0h0m-18 1h0m24 0h0m-30 1h0m1 0h0m12 0h0m4 0h0m4 0h0m-22 1h0m13 0h0m-24 1h0m22 0h0m1 0h0m-7 2h0m9 0h0m6 0h0m-11 1h0m18 0h0m-89 10h0m-7 12h0m2 16h0m46 2h0m-3 8h0m-4 28h0" stroke="#9467bd" stroke-width="2.70" stroke-linecap="square" fill="none" transform="scale(0.5)"/>
<path d="M719 400h0m53 48h0m0 2h0m8 1h0m-14 1h0m-52 1h0m55 0h0m9 0h0m1 0h0m-15 1h0m4 0h0m8 0h0m11 0h0m-22 1h0m5 0h0m-6 1h0m2 0h0m1 0h0m12 0h0m11 0h0m-23 1h0m7 0h0m-13 1h0m9 0h0m-2 1h0m21 0h0m-18 1h0m8 0h0m3 0h0m5 0h0m-22 1h0m3 0h0m0 0h0m11 0h0m-16 1h0m9 0h0m-7 1h0m12 0h0m-20 1h0m24 0h0m3 0h0m3 0h0m-24 1h0m1 0h0m2 0h0m8 0h0m8 0h0m13 0h0m-60 1h0m27 0h0m6 0h0m6 0h0m4 0h0m6 1h0m2 0h0m-22 1h0m2 1h0m7 0h0m12 0h0m-11 1h0m4 0h0m4 0h0m-2 2h0m-84 2h0m45 0h0m31 0h0m4 0h0m-25 1h0m4 1h0m3 0h0m-17 2h0m1 1h0m-16 1h0m13 0h0m7 0h0m2 0h0m6 0h0m40 0h0m-65 1h0m7 0h0m1 0h0m9 0h0m1 0h0m-14 1h0m11 0h0m0 0h0m16 0h0m-20 1h0m-13 1h0m1 0h0m3 0h0m6 0h0m12 0h0m6 0h0m8 0h0m-38 1h0m1 0h0m0 0h0m29 0h0m7 0h0m-44 1h0m26 0h0m1 0h0m4 0h0m1 0h0m9 0h0m-40 1h0m1 0h0m1 0h0m-10 1h0m44 0h0m12 0h0m-58 1h0m5 0h0m4 0h0m13 0h0m7 0h0m5 0h0m2 0h0m1 0h0m4 0h0m14 0h0m-58 1h0m5 0h0m9 0h0m5 0h0m7 0h0m8 0h0m1 0h0m2 0h0m11 0h0m7 0h0m-37 1h0m1 0h0m17 0h0m19 0h0m-58 1h0m4 0h0m9 0h0m2 0h0m13 0h0m1 0h0m7 0h0m5 0h0m3 0h0m-38 1h0m2 0h0m0 0h0m6 0h0m1 0h0m1 0h0m13 0h0m3 0h0m7 0h0m1 0h0m1 0h0m0 0h0m2 0h0m0 0h0m4 0h0m1 0h0m4 0h0m-50 1h0m49 0h0m2 0h0m-35 1h0m8 0h0m2 0h0m12 0h0m3 0h0m8 0h0m1 0h0m2 0h0m3 0h0m-44 1h0m2 0h0m2 0h0m5 0h0m13 0h0m6 0h0m4 0h0m4 0h0m-43 1h0m3 0h0m4 0h0m8 0h0m12 0h0m1 0h0m12 0h0m-21 1h0m0 0h0m1 0h0m7 0h0m16 0h0m3 0h0m-22 1h0m11 0h0m7 0h0m1 0h0m-36 1h0m33 0h0m-53 1h0m37 0h0m0 0h0m7 0h0m1 0h0m10 0h0m4 0h0m-44 1h0m4 0h0m21 0h0m5 0h0m-5 1h0m2 0h0m3 0h0m-1 1h0m-1 1h0m5 5h0" stroke="#e377c2" stroke-width="2.70" stroke-linecap="square" fill="none" transform="scale(0.5)"/>
<path d="M792 468h0m0 2h0m2 1h0m-9 3h0m2 1h0m2 0h0m4 1h0" stroke="#bcbd22" stroke-width="2.70" stroke-linecap="square" fill="none" transform="scale(0.5)"/>
<path d="M759 421h0m-1 1h0m-3 2h0m5 0h0m9 0h0m5 0h0m-21 2h0m3 0h0m11 0h0m5 0h0m0 0h0m3 0h0m-27 1h0m8 0h0m0 0h0m1 0h0m2 0h0m-4 1h0m3 0h0m1 0h0m1 0h0m-14 1h0m4 0h0m9 0h0m7 0h0m1 0h0m5 0h0m-36 1h0m18 0h0m5 0h0m6 0h0m1 0h0m4 0h0m-24 1h0m13 0h0m1 0h0m6 0h0m9 0h0m0 0h0m-26 1h0m3 0h0m4 0h0m9 0h0m3 0h0m2 0h0m10 0h0m-32 1h0m1 0h0m5 0h0m2 0h0m2 0h0m8 0h0m4 0h0m5 0h0m3 0h0m-30 1h0m1 0h0m7 0h0m0 0h0m14 0h0m2 0h0m-37 1h0m2 0h0m0 0h0m19 0h0m6 0h0m17 0h0m-49 1h0m8 0h0m0 0h0m0 0h0m2 0h0m5 0h0m0 0h0m1 0h0m7 0h0m2 0h0m1 0h0m5 0h0m14 0h0m-35 1h0m16 0h0m4 0h0m2 0h0m15 0h0m-44 1h0m3 0h0m16 0h0m3 0h0m1 0h0m2 0h0m13 0h0m1 0h0m1 0h0m1 0h0m-46 1h0m9 0h0m2 0h0m12 0h0m6 0h0m13 0h0m3 0h0m-36 1h0m8 0h0m0 0h0m2 0h0m3 0h0m12 0h0m2 0h0m5 0h0m5 0h0m-56 1h0m5 0h0m36 0h0m5 0h0m4 0h0m10 0h0m-70 1h0m16 0h0m13 0h0m7 0h0m5 0h0m4 0h0m4 0h0m3 0h0m9 0h0m3 0h0m0 0h0m-41 1h0m0 0h0m18 0h0m5 0h0m10 0h0m4 0h0m5 0h0m2 0h0m3 0h0m2 0h0m-59 1h0m12 0h0m6 0h0m22 0h0m2 0h0m11 0h0m3 0h0m-65 1h0m12 0h0m6 0h0m1 0h0m5 0h0m3 0h0m0 0h0m8 0h0m12 0h0m1 0h0m7 0h0m-52 1h0m5 0h0m2 0h0m3 0h0m17 0h0m1 0h0m2 0h0m5 0h0m0 0h0m5 0h0m10 0h0m6 0h0m1 0h0m1 0h0m2 0h0m-51 1h0m16 0h0m2 0h0m5 0h0m2 0h0m9 0h0m2 0h0m3 0h0m1 0h0m-44 1h0m11 0h0m21 0h0m3 0h0m16 0h0m0 0h0m2 0h0m2 0h0m3 0h0m-57 1h0m7 0h0m10 0h0m2 0h0m16 0h0m0 0h0m5 0h0m3 0h0m11 0h0m-63 1h0m0 0h0m2 0h0m3 0h0m4 0h0m11 0h0m27 0h0m4 0h0m1 0h0m-59 1h0m7 0h0m4 0h0m2 0h0m2 0h0m20 0h0m6 0h0m11 0h0m5 0h0m-58 1h0m11 0h0m13 0h0m6 0h0m1 0h0m2 0h0m2 0h0m0 0h0m11 0h0m5 0h0m-34 1h0m2 0h0m0 0h0m6 0h0m2 0h0m7 0h0m10 0h0m2 0h0m-48 1h0m10 0h0m3 0h0m3 0h0m11 0h0m3 0h0m1 0h0m24 0h0m3 0h0m-56 1h0m6 0h0m8 0h0m13 0h0m6 0h0m2 0h0m7 0h0m14 0h0m-50 1h0m0 0h0m30 0h0m10 0h0m2 0h0m1 0h0m-47 1h0m2 0h0m2 0h0m2 0h0m8 0h0m0 0h0m1 0h0m18 0h0m16 0h0m1 0h0m2 0h0m3 0h0m-69 1h0m5 0h0m9 0h0m2 0h0m3 0h0m10 0h0m5 0h0m9 0h0m7 0h0m7 0h0m11 0h0m-66 1h0m15 0h0m7 0h0m3 0h0m3 0h0m1 0h0m0 0h0m4 0h0m18 0h0m-59 1h0m1 0h0m8 0h0m2 0h0m7 0h0m3 0h0m32 0h0m1 0h0m5 0h0m-64 1h0m6 0h0m25 0h0m1 0h0m12 0h0m2 0h0m3 0h0m3 0h0m5 0h0m6 0h0m5 0h0m-65 1h0m27 0h0m2 0h0m6 0h0m3 0h0m3 0h0m2 0h0m11 0h0m-47 1h0m2 0h0m3 0h0m10 0h0m4 0h0m3 0h0m1 0h0m3 0h0m12 0h0m8 0h0m14 0h0m-58 1h0m0 0h0m3 0h0m5 0h0m7 0h0m7 0h0m1 0h0m4 0h0m1 0h0m7 0h0m14 0h0m9 0h0m-56 1h0m7 0h0m1 0h0m8 0h0m4 0h0m15 0h0m5 0h0m4 0h0m3 0h0m-53 1h0m13 0h0m1 0h0m5 0h0m2 0h0m11 0h0m4 0h0m3 0h0m5 0h0m5 0h0m7 0h0m-55 1h0m13 0h0m2 0h0m10 0h0m8 0h0m-32 1h0m11 0h0m16 0h0m7 0h0m4 0h0m9 0h0m2 0h0m3 0h0m1 0h0m5 0h0m3 0h0m-56 1h0m0 0h0m2 0h0m4 0h0m0 0h0m1 0h0m15 0h0m9 0h0m4 0h0m0 0h0m7 0h0m1 0h0m-42 1h0m1 0h0m6 0h0m4 0h0m1 0h0m4 0h0m10 0h0m7 0h0m2 0h0m5 0h0m-43 1h0m9 0h0m6 0h0m3 0h0m6 0h0m2 0h0m18 0h0m-37 1h0m0 0h0m6 0h0m6 0h0m1 0h0m9 0h0m1 0h0m2 0h0m9 0h0m3 0h0m-53 1h0m16 0h0m2 0h0m5 0h0m4 0h0m1 0h0m0 0h0m1 0h0m2 0h0m8 0h0m2 0h0m7 0h0m8 0h0m0 0h0m0 0h0m17 0h0m-68 1h0m0 0h0m5 0h0m22 0h0m5 0h0m6 0h0m2 0h0m1 0h0m1 0h0m21 0h0m-61 1h0m6 0h0m1 0h0m2 0h0m3 0h0m12 0h0m8 0h0m0 0h0m14 0h0m6 0h0m11 0h0m8 0h0m-62 1h0m3 0h0m14 0h0m1 0h0m2 0h0m6 0h0m-29 1h0m2 0h0m1 0h0m9 0h0m4 0h0m9 0h0m4 0h0m5 0h0m9 0h0m20 0h0m-68 1h0m7 0h0m2 0h0m4 0h0m5 0h0m5 0h0m4 0h0m13 0h0m-36 1h0m12 0h0m4 0h0m0 0h0m3 0h0m5 0h0m6 0h0m3 0h0m4 0h0m19 0h0m-54 1h0m8 0h0m7 0h0m8 0h0m1 0h0m11 0h0m12 0h0m-44 1h0m2 0h0m2 0h0m5 0h0m0 1h0m6 0h0m1 0h0m5 0h0m2 0h0m0 0h0m-23 1h0m13 0h0m4 0h0m0 0h0m-14 1h0m4 0h0m11 0h0m-12 1h0m1 1h0m-8 1h0m6 1h0m14 0h0m-12 1h0m2 2h0" stroke="#17becf" stroke-width="2.70" stroke-linecap="square" fill="none" transform="scale(0.5)"/>
<path d="M800 415h0m-10 1h0m12 0h0m1 0h0m-16 1h0m4 3h0m20 0h0m-18 1h0m11 0h0m-14 3h0m14 0h0m1 0h0m-28 1h0m24 0h0m-20 1h0m24 0h0m-19 1h0m3 0h0m5 0h0m-18 1h0m4 0h0m5 0h0m2 0h0m5 0h0m16 0h0m-23 2h0m21 0h0m1 1h0m3 0h0m-28 1h0m7 0h0m0 0h0m10 0h0m5 0h0m-17 1h0m3 0h0m0 0h0m-4 1h0m20 0h0m-21 1h0m2 0h0m5 0h0m9 0h0m-21 1h0m14 0h0m14 0h0m-25 1h0m0 0h0m3 0h0m1 0h0m11 0h0m-15 1h0m0 0h0m20 0h0m1 0h0m3 1h0m-29 1h0m18 0h0m3 0h0m5 0h0m-17 1h0m1 0h0m15 0h0m5 0h0m-19 1h0m8 0h0m7 0h0m-16 2h0m3 1h0m-5 1h0m8 0h0m16 0h0m-24 1h0m4 0h0m-11 1h0m3 0h0m5 0h0m12 0h0m-65 1h0m55 1h0m9 0h0m-3 1h0m0 0h0m0 0h0m2 0h0m0 0h0m6 0h0m0 0h0m4 0h0m0 1h0m-18 1h0m13 0h0m5 1h0m2 0h0m-10 2h0m6 5h0m-14 3h0m5 9h0m12 1h0m-73 26h0" stroke="#ff7f0e" stroke-width="2.70" stroke-linecap="square" fill="none" transform="scale(0.5)"/>
</g>
<g filter="url(#bl2)">
<path d="M904 370h0m-7 2h0m3 0h0m2 0h0m-3 1h0m2 0h0m2 0h0m-6 3h0m4 0h0m-4 1h0m1 0h0m2 0h0m-3 1h0m3 0h0m3 0h0m-7 1h0m10 0h0" stroke="#1f77b4" stroke-width="2.70" stroke-linecap="square" fill="none" transform="scale(0.5)"/>
<path d="M886 371h0m-5 1h0m-2 4h0m14 1h0m-12 1h0m0 1h0m11 0h0m-5 1h0m9 1h0m2 0h0m9 0h0m1 0h0m-22 1h0m14 0h0m3 0h0m-16 1h0m-50 1h0m50 0h0m-3 1h0m15 0h0m3 1h0m11 0h0m-31 1h0m5 0h0m7 1h0m2 0h0m-28 1h0m15 0h0m13 0h0m-14 1h0m23 0h0m3 0h0m9 1h0m-33 1h0m7 0h0m3 0h0m8 0h0m2 0h0m5 0h0m-38 1h0m19 1h0m9 0h0m6 0h0m-54 1h0m36 0h0m5 0h0m-19 1h0m11 0h0m23 0h0m-62 1h0m39 0h0m4 0h0m-1 1h0m25 0h0m-56 1h0m2 0h0m30 0h0m1 0h0m5 0h0m-41 1h0m28 0h0m22 0h0m-53 1h0m6 0h0m13 0h0m40 0h0m-54 1h0m4 0h0m11 0h0m17 0h0m8 0h0m3 0h0m4 0h0m-52 1h0m7 0h0m33 0h0m10 0h0m-51 1h0m6 0h0m44 0h0m4 0h0m9 0h0m3 0h0m-28 1h0m4 0h0m7 0h0m28 0h0m-90 1h0m2 0h0m6 0h0m27 0h0m29 0h0m-60 1h0m20 1h0m25 0h0m-46 1h0m13 0h0m23 0h0m-3 1h0m0 0h0m2 0h0m5 0h0m27 1h0m-58 1h0m5 0h0m0 0h0m11 0h0m14 0h0m7 1h0m-39 1h0m19 0h0m-20 1h0m13 0h0m3 0h0m-21 1h0m7 0h0m10 0h0m-2 1h0m8 1h0m4 0h0m2 0h0m-20 1h0m2 0h0m7 0h0m3 1h0m0 0h0m4 0h0m-22 1h0m19 0h0m11 0h0m-25 1h0m21 0h0m1 0h0m-25 1h0m23 0h0m72 0h0m-94 1h0m0 1h0m6 1h0m2 0h0m0 0h0m15 3h0m32 0h0m-52 1h0m-5 1h0m3 3h0m17 17h0m-10 4h0m16 17h0m50 17h0m-29 10h0" stroke="#2ca02c" stroke-width="2.70" stroke-linecap="square" fill="none" transform="scale(0.5)"/>
<path d="M870 375h0m-4 37h0m21 3h0m4 2h0m15 1h0m-20 1h0m4 0h0m4 0h0m3 0h0m-19 1h0m7 0h0m2 0h0m14 0h0m0 0h0m5 0h0m-23 1h0m1 0h0m9 0h0m5 0h0m-11 1h0m5 0h0m4 0h0m2 0h0m1 0h0m9 0h0m-28 1h0m2 0h0m18 0h0m-8 1h0m-20 1h0m11 0h0m5 0h0m3 0h0m5 0h0m-29 1h0m13 0h0m4 0h0m11 0h0m4 0h0m5 0h0m3 0h0m5 0h0m6 0h0m-18 1h0m1 0h0m2 0h0m-15 1h0m1 0h0m0 0h0m3 0h0m1 0h0m3 0h0m1 0h0m-13 1h0m4 0h0m1 0h0m7 0h0m6 0h0m10 0h0m-59 1h0m9 0h0m-11 1h0m8 0h0m29 0h0m0 0h0m5 0h0m0 0h0m6 0h0m-45 1h0m5 0h0m34 1h0m-30 1h0m2 0h0m1 0h0m-13 1h0m11 0h0m-1 1h0m-10 1h0m1 0h0m1 0h0m3 0h0m9 0h0m-13 1h0m3 0h0m1 0h0m1 0h0m6 0h0m2 0h0m-22 1h0m3 0h0m8 0h0m0 0h0m3 0h0m0 0h0m6 0h0m2 0h0m-19 1h0m3 0h0m1 0h0m4 0h0m8 0h0m0 0h0m2 0h0m-17 1h0m8 0h0m6 0h0m1 0h0m1 0h0m6 0h0m28 0h0m-50 2h0m-4 1h0m5 0h0m21 0h0m-13 1h0m-13 1h0m3 0h0m6 0h0m1 0h0m6 0h0m4 0h0m4 0h0m-25 1h0m4 0h0m7 0h0m1 0h0m2 0h0m2 0h0m1 0h0m3 0h0m-21 1h0m6 0h0m1 0h0m0 0h0m4 0h0m-11 1h0m8 0h0m0 0h0m2 0h0m7 0h0m3 0h0m-17 1h0m5 0h0m10 0h0m1 0h0m-13 1h0m1 0h0m5 0h0m4 0h0m0 0h0m-15 1h0m7 0h0m6 0h0m5 0h0m81 0h0m-95 1h0m0 0h0m1 0h0m8 0h0m0 0h0m1 0h0m-10 1h0m2 0h0m0 0h0m2 0h0m7 0h0m-11 1h0m-3 1h0m11 0h0m-8 1h0m0 0h0m3 0h0m9 0h0m2 1h0m-16 1h0m4 0h0m0 0h0m6 0h0m-8 2h0m6 0h0m4 1h0m-11 1h0m0 0h0m6 0h0m4 0h0m-5 1h0m-2 1h0m-3 3h0m-5 1h0m14 0h0m81 5h0m-13 6h0" stroke="#d62728" stroke-width="2.70" stroke-linecap="square" fill="none" transform="scale(0.5)"/>
<path d="M929 403h0m-7 3h0m1 0h0m7 0h0m0 1h0m-17 2h0m6 0h0m7 0h0m10 0h0m8 0h0m-16 1h0m15 0h0m-30 1h0m15 0h0m5 0h0m4 0h0m1 0h0m-25 1h0m12 0h0m4 0h0m-15 1h0m16 0h0m7 0h0m-14 1h0m2 0h0m-3 1h0m6 0h0m-1 1h0m-50 58h0m2 3h0" stroke="#9467bd" stroke-width="2.70" stroke-linecap="square" fill="none" transform="scale(0.5)"/>
<path d="M916 412h0m23 28h0m-7 4h0m-9 3h0m-29 4h0m39 1h0m-10 1h0m12 0h0m4 0h0m-13 1h0m16 0h0m-10 1h0m-16 1h0m12 1h0m14 0h0m-21 1h0m13 0h0m8 0h0m-15 1h0m5 0h0m8 0h0m-52 1h0m29 0h0m1 0h0m7 0h0m6 0h0m-7 1h0m4 0h0m1 0h0m8 0h0m2 0h0m3 0h0m14 0h0m3 0h0m-40 1h0m-5 1h0m3 0h0m6 0h0m3 1h0m6 0h0m-23 1h0m7 0h0m4 0h0m10 0h0m6 0h0m-28 1h0m20 0h0m18 0h0m-36 1h0m7 0h0m8 0h0m6 0h0m3 0h0m-18 1h0m1 0h0m14 0h0m2 0h0m16 0h0m-44 1h0m31 0h0m13 0h0m-49 1h0m4 0h0m20 0h0m-13 1h0m7 1h0m3 0h0m5 0h0m-23 1h0m16 0h0m2 0h0m3 0h0m4 0h0m3 0h0m4 0h0m8 0h0m4 0h0m-45 1h0m7 0h0m3 0h0m-10 1h0m19 0h0m2 0h0m5 0h0m1 0h0m8 0h0m-31 1h0m3 0h0m3 0h0m9 0h0m0 0h0m7 0h0m13 0h0m2 0h0m-46 1h0m5 0h0m12 0h0m13 0h0m7 0h0m-32 1h0m11 0h0m1 0h0m11 0h0m1 0h0m0 0h0m5 0h0m8 0h0m-38 1h0m11 0h0m7 0h0m16 0h0m-46 1h0m4 0h0m8 0h0m15 0h0m2 0h0m0 0h0m10 0h0m7 0h0m1 0h0m-31 1h0m1 0h0m3 0h0m10 0h0m2 0h0m-24 1h0m3 0h0m3 0h0m2 0h0m3 0h0m0 0h0m10 0h0m10 0h0m-23 1h0m7 0h0m1 0h0m5 0h0m12 0h0m-31 1h0m9 0h0m37 0h0m-56 1h0m3 0h0m5 0h0m1 0h0m7 0h0m5 0h0m1 0h0m0 0h0m5 0h0m5 0h0m10 0h0m-33 1h0m10 0h0m13 0h0m1 0h0m12 0h0m-46 1h0m0 0h0m15 0h0m4 0h0m0 0h0m3 0h0m-11 1h0m3 0h0m12 0h0m-23 1h0m2 0h0m9 0h0m3 0h0m3 0h0m10 0h0m1 0h0m0 0h0m4 0h0m-26 1h0m2 0h0m9 0h0m1 0h0m2 0h0m-11 1h0m1 0h0m22 0h0m-30 1h0m4 0h0m5 0h0m6 0h0m-15 1h0m3 0h0m9 0h0m0 1h0m19 0h0m2 0h0m-36 1h0m2 0h0m3 0h0m3 0h0m1 0h0m4 0h0m14 0h0m7 0h0m5 0h0m4 0h0m-36 1h0m21 0h0m-1 1h0m13 0h0m-40 1h0m4 0h0m7 0h0m7 1h0m0 3h0m5 0h0m-20 1h0m6 0h0m14 0h0m8 0h0m-28 1h0m5 0h0m6 0h0" stroke="#e377c2" stroke-width="2.70" stroke-linecap="square" fill="none" transform="scale(0.5)"/>
<path d="M882 388h0m7 1h0m-26 4h0m4 0h0m-11 1h0m3 0h0m5 1h0m0 0h0m-7 1h0m11 0h0m-6 2h0m6 0h0" stroke="#7f7f7f" stroke-width="2.70" stroke-linecap="square" fill="none" transform="scale(0.5)"/>
<path d="M952 469h0m1 0h0m2 0h0m-6 1h0m1 0h0m4 0h0m0 0h0m0 1h0m-6 1h0m8 0h0m-5 2h0m2 0h0" stroke="#bcbd22" stroke-width="2.70" stroke-linecap="square" fill="none" transform="scale(0.5)"/>
<path d="M906 396h0m7 5h0m36 8h0m-57 1h0m60 3h0m-41 2h0m14 0h0m-12 1h0m-9 1h0m9 0h0m-16 1h0m17 1h0m29 1h0m-64 1h0m40 0h0m7 1h0m-10 1h0m4 0h0m6 0h0m35 0h0m-53 1h0m1 0h0m1 0h0m4 0h0m17 0h0m-8 1h0m18 0h0m-30 1h0m11 0h0m7 0h0m2 0h0m-21 1h0m4 0h0m8 0h0m6 0h0m2 0h0m-15 1h0m4 0h0m-12 1h0m4 0h0m-2 1h0m2 0h0m16 0h0m-29 1h0m4 0h0m3 0h0m12 0h0m1 0h0m2 0h0m-33 1h0m4 0h0m2 0h0m6 0h0m5 0h0m5 0h0m7 0h0m0 0h0m-33 1h0m13 0h0m1 0h0m8 0h0m0 0h0m2 0h0m2 0h0m5 0h0m7 0h0m2 0h0m0 0h0m-35 1h0m1 0h0m33 0h0m11 0h0m-57 1h0m7 0h0m18 0h0m10 0h0m6 0h0m1 0h0m5 0h0m-50 1h0m11 0h0m5 0h0m8 0h0m14 0h0m0 0h0m5 0h0m1 0h0m1 0h0m4 0h0m1 0h0m2 0h0m5 0h0m-57 1h0m8 0h0m1 0h0m6 0h0m6 0h0m1 0h0m9 0h0m12 0h0m5 0h0m-52 1h0m19 0h0m9 0h0m7 0h0m3 0h0m6 0h0m11 0h0m-36 1h0m17 0h0m3 0h0m12 0h0m2 0h0m8 0h0m2 0h0m-55 1h0m8 0h0m0 0h0m3 0h0m2 0h0m2 0h0m0 0h0m22 0h0m1 0h0m1 0h0m3 0h0m4 0h0m7 0h0m-64 1h0m15 0h0m4 0h0m5 0h0m5 0h0m7 0h0m1 0h0m1 0h0m2 0h0m4 0h0m-25 1h0m0 0h0m1 0h0m10 0h0m3 0h0m1 0h0m20 0h0m1 0h0m3 0h0m1 0h0m5 0h0m-50 1h0m2 0h0m12 0h0m10 0h0m20 0h0m-53 1h0m15 0h0m2 0h0m10 0h0m2 0h0m4 0h0m8 0h0m2 0h0m2 0h0m8 0h0m-49 1h0m5 0h0m11 0h0m1 0h0m3 0h0m2 0h0m6 0h0m3 0h0m1 0h0m17 0h0m-58 1h0m15 0h0m4 0h0m4 0h0m12 0h0m0 0h0m10 0h0m1 0h0m1 0h0m1 0h0m1 0h0m0 0h0m5 0h0m5 0h0m4 0h0m0 0h0m-48 1h0m3 0h0m14 0h0m1 0h0m1 0h0m6 0h0m18 0h0m-43 1h0m0 0h0m2 0h0m1 0h0m9 0h0m3 0h0m9 0h0m15 0h0m-49 1h0m17 0h0m9 0h0m23 0h0m1 0h0m-55 1h0m7 0h0m2 0h0m0 0h0m1 0h0m10 0h0m6 0h0m7 0h0m10 0h0m6 0h0m3 0h0m1 0h0m12 0h0m-63 1h0m12 0h0m11 0h0m24 0h0m0 0h0m2 0h0m6 0h0m2 0h0m3 0h0m-54 1h0m2 0h0m8 0h0m1 0h0m5 0h0m2 0h0m1 0h0m1 0h0m5 0h0m2 0h0m1 0h0m0 0h0m16 0h0m4 0h0m-51 1h0m10 0h0m6 0h0m0 0h0m6 0h0m3 0h0m15 0h0m2 0h0m1 0h0m-45 1h0m13 0h0m4 0h0m9 0h0m2 0h0m6 0h0m1 0h0m5 0h0m9 0h0m-45 1h0m12 0h0m7 0h0m3 0h0m3 0h0m8 0h0m16 0h0m-54 1h0m5 0h0m5 0h0m7 0h0m15 0h0m8 0h0m0 0h0m10 0h0m1 0h0m-41 1h0m13 0h0m6 0h0m1 0h0m12 0h0m-48 1h0m1 0h0m1 0h0m8 0h0m12 0h0m26 0h0m0 0h0m-39 1h0m4 0h0m12 0h0m2 0h0m2 0h0m0 0h0m3 0h0m2 0h0m-15 1h0m12 0h0m4 0h0m4 0h0m1 0h0m5 0h0m-37 1h0m3 0h0m6 0h0m9 0h0m5 0h0m18 0h0m4 0h0m-55 1h0m11 0h0m3 0h0m3 0h0m2 0h0m3 0h0m11 0h0m7 0h0m2 0h0m7 0h0m1 0h0m0 0h0m1 0h0m-50 1h0m5 0h0m4 0h0m6 0h0m5 0h0m0 0h0m-18 1h0m12 0h0m2 0h0m3 0h0m8 0h0m2 0h0m-24 1h0m3 0h0m5 0h0m2 0h0m2 0h0m1 0h0m0 0h0m1 0h0m0 0h0m17 0h0m3 0h0m0 0h0m3 0h0m-39 1h0m2 0h0m5 0h0m1 0h0m0 0h0m2 0h0m2 0h0m3 0h0m17 0h0m2 0h0m8 0h0m-49 1h0m6 0h0m12 0h0m14 0h0m3 0h0m1 0h0m5 0h0m5 0h0m1 0h0m-50 1h0m6 0h0m5 0h0m0 0h0m23 0h0m1 0h0m5 0h0m0 0h0m-40 1h0m7 0h0m7 0h0m12 0h0m7 0h0m2 0h0m5 0h0m6 0h0m-40 1h0m8 0h0m1 0h0m1 0h0m17 0h0m8 0h0m5 0h0m-31 1h0m1 0h0m7 0h0m0 0h0m3 0h0m3 0h0m14 0h0m1 0h0m2 0h0m-47 1h0m11 0h0m2 0h0m2 0h0m14 0h0m2 0h0m2 0h0m3 0h0m-15 1h0m2 0h0m9 0h0m-28 1h0m4 0h0m9 0h0m2 0h0m1 0h0m26 0h0m0 0h0m1 0h0m-37 1h0m4 0h0m10 0h0m11 0h0m3 0h0m11 0h0m-23 1h0m1 0h0m4 0h0m1 0h0m8 0h0m-38 1h0m2 0h0m10 0h0m7 0h0m1 0h0m7 0h0m4 0h0m7 0h0m-7 1h0m2 0h0m1 0h0m1 0h0m1 0h0m-20 1h0m17 0h0m1 0h0m-26 1h0m3 0h0m9 0h0m3 0h0m3 0h0m1 0h0m1 0h0m7 0h0m-22 1h0m21 0h0m0 0h0m-31 1h0m11 0h0m6 0h0m4 0h0m0 1h0m10 0h0m-40 1h0m4 0h0m21 0h0m21 0h0m1 0h0m-45 1h0m20 0h0m0 0h0m1 0h0m15 0h0m1 0h0m3 0h0m-5 1h0m-17 1h0m13 0h0m-19 1h0m22 0h0m-28 2h0m17 0h0m-18 1h0m15 0h0m2 0h0m-20 2h0m8 0h0m23 0h0m-16 2h0m-16 4h0m9 2h0" stroke="#17becf" stroke-width="2.70" stroke-linecap="square" fill="none" transform="scale(0.5)"/>
<path d="M885 394h0m72 8h0m-4 8h0m-7 5h0m20 0h0m-38 1h0m19 0h0m5 0h0m-10 1h0m13 0h0m-16 1h0m1 0h0m2 0h0m-3 1h0m5 0h0m21 0h0m-9 1h0m-17 1h0m6 0h0m3 0h0m-11 1h0m0 0h0m17 0h0m-19 1h0m1 0h0m4 0h0m6 0h0m8 0h0m13 0h0m-28 1h0m1 0h0m17 0h0m3 0h0m4 0h0m-39 1h0m23 0h0m0 0h0m1 0h0m19 0h0m-28 1h0m8 0h0m2 0h0m-1 1h0m2 0h0m0 0h0m2 0h0m-18 1h0m24 1h0m-2 1h0m4 0h0m-21 1h0m4 0h0m22 0h0m1 0h0m-21 1h0m9 0h0m0 0h0m2 0h0m-25 1h0m9 0h0m10 0h0m15 0h0m-26 1h0m11 0h0m3 0h0m4 0h0m-16 2h0m8 0h0m14 0h0m-21 1h0m2 0h0m21 0h0m2 0h0m-27 1h0m9 0h0m12 0h0m-28 1h0m6 0h0m4 0h0m5 0h0m-17 1h0m8 0h0m9 0h0m2 0h0m12 0h0m-31 1h0m1 0h0m1 0h0m4 0h0m10 0h0m7 0h0m1 0h0m-14 1h0m3 0h0m1 0h0m1 0h0m15 0h0m-25 1h0m3 0h0m0 0h0m13 0h0m3 0h0m-22 1h0m4 0h0m10 0h0m-48 1h0m38 0h0m12 0h0m1 0h0m3 0h0m1 0h0m-18 1h0m0 0h0m12 0h0m15 0h0m-27 1h0m14 0h0m1 0h0m4 0h0m-30 1h0m9 0h0m3 0h0m9 0h0m1 0h0m2 0h0m5 0h0m5 0h0m0 0h0m5 0h0m1 0h0m-7 1h0m-26 1h0m11 0h0m6 1h0m1 0h0m11 0h0m1 0h0m-26 1h0m5 0h0m7 0h0m-9 1h0m7 0h0m1 0h0m-8 2h0m14 0h0m-2 1h0m-13 1h0m1 0h0m6 5h0m-9 2h0m-71 4h0m-2 9h0" stroke="#ff7f0e" stroke-width="2.70" stroke-linecap="square" fill="none" transform="scale(0.5)"/>
</g>
<g filter="url(#bl2)">
<path d="M578 533h0m2 0h0m1 0h0m-10 1h0m2 1h0m1 0h0m0 0h0m8 0h0m-14 1h0m5 0h0m1 0h0m16 0h0m-6 1h0m1 0h0m1 0h0m2 0h0m1 0h0m-18 1h0m4 0h0m6 0h0m5 0h0m-5 1h0m-7 1h0m9 0h0m0 2h0" stroke="#1f77b4" stroke-width="2.70" stroke-linecap="square" fill="none" transform="scale(0.5)"/>
<path d="M617 536h0m-26 6h0m11 3h0m-19 1h0m4 0h0m-9 1h0m-26 1h0m21 1h0m7 0h0m4 0h0m2 0h0m5 0h0m-42 1h0m6 0h0m5 0h0m7 0h0m8 0h0m8 0h0m0 0h0m2 0h0m2 0h0m7 0h0m-28 1h0m1 0h0m4 0h0m3 0h0m9 0h0m0 0h0m3 0h0m-34 1h0m3 0h0m1 0h0m13 0h0m2 0h0m5 0h0m13 0h0m-30 1h0m4 0h0m5 0h0m13 0h0m-23 1h0m2 0h0m5 0h0m3 0h0m17 0h0m-29 1h0m6 0h0m4 0h0m1 0h0m0 0h0m1 0h0m3 0h0m8 0h0m12 0h0m-28 1h0m5 0h0m12 0h0m2 0h0m4 0h0m7 0h0m-39 1h0m3 0h0m1 0h0m4 0h0m4 0h0m4 0h0m2 0h0m13 0h0m-23 1h0m10 0h0m1 0h0m5 0h0m5 0h0m1 0h0m1 0h0m2 0h0m-28 1h0m2 0h0m0 0h0m6 0h0m15 0h0m4 0h0m2 0h0m3 0h0m3 0h0m-40 1h0m3 0h0m0 0h0m7 0h0m3 0h0m12 0h0m1 0h0m3 0h0m2 0h0m2 0h0m-27 1h0m1 0h0m6 0h0m0 0h0m3 0h0m18 0h0m0 0h0m3 0h0m-33 1h0m1 0h0m2 0h0m3 0h0m4 0h0m1 0h0m14 0h0m-27 1h0m1 0h0m5 0h0m5 0h0m5 0h0m10 0h0m1 0h0m2 0h0m1 0h0m2 0h0m-22 1h0m9 0h0m1 0h0m-20 1h0m4 0h0m7 0h0m9 0h0m3 0h0m-18 1h0m3 0h0m10 0h0m5 0h0m4 0h0m11 0h0m-35 1h0m10 0h0m3 0h0m2 0h0m0 0h0m8 0h0m2 1h0m-23 1h0m-35 1h0m30 0h0m8 0h0m-46 1h0m7 0h0m25 0h0m-29 1h0m0 0h0m2 2h0m29 0h0m-28 1h0m7 0h0m1 1h0m15 1h0m-5 1h0m-26 1h0m7 0h0m7 0h0m10 0h0m3 0h0m0 0h0m-24 1h0m18 0h0m1 0h0m-20 1h0m1 0h0m2 0h0m3 0h0m10 0h0m8 0h0m3 0h0m7 0h0m-37 1h0m10 0h0m0 0h0m21 0h0m1 0h0m-30 1h0m1 0h0m2 0h0m8 0h0m-8 1h0m1 0h0m1 0h0m12 0h0m3 0h0m16 0h0m-38 1h0m8 0h0m8 0h0m4 0h0m8 0h0m1 0h0m-22 1h0m6 0h0m21 1h0m-19 1h0m3 0h0m1 0h0m9 0h0m-25 1h0m14 0h0m11 1h0m2 1h0m-23 1h0m28 0h0m-35 1h0m3 2h0m36 2h0m-36 4h0m4 1h0m44 4h0m43 9h0m-10 10h0m31 16h0m-35 27h0" stroke="#2ca02c" stroke-width="2.70" stroke-linecap="square" fill="none" transform="scale(0.5)"/>
<path d="M557 547h0m-29 10h0m1 0h0m38 3h0m-43 3h0m39 3h0m5 0h0m7 0h0m-3 2h0m0 1h0m6 0h0m5 0h0m2 0h0m-26 1h0m12 0h0m-6 1h0m5 0h0m8 0h0m3 0h0m2 0h0m-27 1h0m3 0h0m9 0h0m3 0h0m2 0h0m2 0h0m-20 1h0m17 0h0m-8 1h0m4 0h0m1 0h0m-8 1h0m25 0h0m0 0h0m-23 1h0m10 0h0m6 0h0m-23 1h0m3 0h0m5 0h0m2 0h0m3 0h0m5 0h0m4 0h0m5 0h0m-21 1h0m17 0h0m-12 2h0m7 0h0m3 0h0m1 0h0m-1 1h0m2 0h0m0 0h0m9 0h0m-33 1h0m0 0h0m8 0h0m0 0h0m8 0h0m7 0h0m2 0h0m7 0h0m-16 1h0m7 0h0m7 0h0m6 0h0m0 0h0m-40 1h0m7 0h0m1 0h0m0 0h0m8 0h0m2 0h0m5 0h0m2 0h0m9 0h0m-33 1h0m16 0h0m5 0h0m2 0h0m11 0h0m-27 1h0m4 0h0m1 0h0m6 0h0m1 0h0m7 0h0m6 0h0m-27 1h0m17 0h0m11 0h0m-11 1h0m9 0h0m3 0h0m-56 1h0m31 0h0m11 0h0m1 0h0m4 0h0m-59 1h0m25 0h0m14 0h0m5 0h0m-10 1h0m12 0h0m0 0h0m1 0h0m1 0h0m10 0h0m1 0h0m0 0h0m2 0h0m-58 1h0m1 0h0m5 0h0m8 0h0m21 0h0m0 0h0m15 0h0m10 0h0m-54 1h0m4 0h0m1 0h0m8 0h0m5 0h0m17 0h0m0 0h0m1 0h0m12 0h0m3 0h0m6 0h0m-70 1h0m6 0h0m12 0h0m8 0h0m4 0h0m29 0h0m0 0h0m15 0h0m-50 1h0m7 0h0m4 0h0m10 0h0m19 0h0m-51 1h0m5 0h0m14 0h0m1 0h0m26 0h0m0 0h0m6 0h0m-62 1h0m3 0h0m2 0h0m16 0h0m-18 1h0m7 0h0m3 0h0m4 0h0m6 0h0m6 0h0m8 0h0m0 0h0m16 0h0m-44 1h0m4 0h0m5 0h0m2 0h0m4 0h0m1 0h0m2 0h0m2 0h0m27 0h0m-52 1h0m3 0h0m18 0h0m11 0h0m-26 1h0m3 0h0m1 0h0m18 0h0m-29 1h0m4 0h0m6 0h0m2 0h0m6 0h0m0 0h0m-11 1h0m5 0h0m1 0h0m3 0h0m-19 1h0m4 0h0m3 0h0m3 0h0m7 0h0m4 0h0m0 0h0m9 0h0m-25 1h0m4 0h0m1 0h0m0 0h0m1 0h0m4 0h0m2 0h0m2 0h0m1 0h0m1 0h0m34 0h0m-56 1h0m13 0h0m3 0h0m5 0h0m7 0h0m-24 1h0m8 0h0m2 0h0m8 0h0m-15 1h0m2 0h0m9 0h0m5 0h0m5 0h0m-14 1h0m1 0h0m3 0h0m14 0h0m-34 1h0m17 0h0m1 0h0m3 0h0m13 0h0m-11 1h0m-13 1h0m12 0h0m8 0h0m-10 1h0m11 1h0m-20 3h0m3 2h0m87 25h0" stroke="#d62728" stroke-width="2.70" stroke-linecap="square" fill="none" transform="scale(0.5)"/>
<path d="M566 545h0m32 17h0m6 2h0m-6 1h0m-6 1h0m6 0h0m2 1h0m1 0h0m-12 2h0m8 1h0m7 1h0m2 0h0m-3 1h0m2 0h0m-14 2h0m8 0h0m-5 1h0m5 0h0m0 1h0m-7 1h0m4 0h0m2 0h0m2 0h0m-6 1h0m8 0h0m0 0h0m0 0h0m-9 1h0m10 1h0m2 0h0m-6 3h0m-5 1h0m-2 1h0m3 0h0m4 0h0m-42 15h0m62 11h0m-12 22h0m-13 5h0m-2 6h0m-18 14h0m16 2h0" stroke="#9467bd" stroke-width="2.70" stroke-linecap="square" fill="none" transform="scale(0.5)"/>
<path d="M613 562h0m1 0h0m2 1h0m-5 1h0m-3 1h0m6 0h0m5 2h0m-4 2h0m3 0h0m-2 2h0" stroke="#8c564b" stroke-width="2.70" stroke-linecap="square" fill="none" transform="scale(0.5)"/>
<path d="M570 541h0m-43 18h0m-7 6h0m8 0h0m94 19h0m10 5h0m-26 6h0m32 12h0m-20 3h0m5 5h0m-3 1h0m-13 2h0m13 0h0m13 0h0m-42 1h0m5 0h0m14 0h0m6 0h0m6 0h0m-12 1h0m2 0h0m9 0h0m0 0h0m25 0h0m-28 1h0m4 0h0m-24 1h0m2 0h0m11 0h0m6 0h0m2 0h0m-14 1h0m6 0h0m14 0h0m2 0h0m-32 1h0m15 0h0m12 0h0m3 0h0m15 0h0m-40 1h0m6 0h0m6 0h0m9 0h0m8 0h0m4 0h0m6 0h0m-38 1h0m7 0h0m4 0h0m2 0h0m3 0h0m9 1h0m-28 1h0m9 0h0m8 0h0m11 0h0m-24 1h0m8 0h0m15 0h0m6 0h0m1 0h0m7 0h0m-45 1h0m2 0h0m2 0h0m17 0h0m8 0h0m11 0h0m-42 1h0m5 0h0m2 0h0m2 0h0m14 0h0m7 0h0m12 0h0m-44 1h0m13 0h0m6 0h0m4 0h0m2 0h0m2 0h0m30 0h0m-58 1h0m3 0h0m5 0h0m4 0h0m1 0h0m20 0h0m-3 1h0m0 0h0m2 0h0m23 0h0m-65 1h0m23 0h0m10 0h0m15 0h0m-40 1h0m22 0h0m3 0h0m23 0h0m-45 1h0m4 0h0m5 0h0m1 0h0m2 0h0m25 0h0m1 0h0m4 0h0m-50 1h0m5 0h0m0 0h0m1 0h0m12 0h0m7 0h0m2 0h0m16 0h0m7 0h0m1 0h0m-57 1h0m4 0h0m8 0h0m2 0h0m24 0h0m6 0h0m1 0h0m1 0h0m16 0h0m-60 1h0m3 0h0m12 0h0m1 0h0m10 0h0m2 0h0m3 0h0m10 0h0m4 0h0m2 0h0m8 0h0m-53 1h0m4 0h0m12 0h0m8 0h0m13 0h0m2 0h0m3 0h0m4 0h0m5 0h0m-52 1h0m2 0h0m8 0h0m5 0h0m16 0h0m7 0h0m11 0h0m-34 1h0m6 0h0m11 0h0m5 0h0m2 0h0m7 0h0m1 0h0m2 0h0m5 0h0m-65 1h0m15 0h0m19 0h0m1 0h0m13 0h0m18 0h0m-54 1h0m1 0h0m4 0h0m4 0h0m0 0h0m7 0h0m24 0h0m1 0h0m17 0h0m3 0h0m-47 1h0m8 0h0m18 0h0m3 0h0m10 0h0m-56 1h0m0 0h0m6 0h0m2 0h0m4 0h0m5 0h0m0 0h0m16 0h0m12 0h0m3 0h0m3 0h0m0 0h0m-57 1h0m20 0h0m2 0h0m5 0h0m3 0h0m4 0h0m17 0h0m0 0h0m6 0h0m-61 1h0m4 0h0m3 0h0m9 0h0m2 0h0m29 0h0m5 0h0m-41 1h0m26 0h0m-32 1h0m8 0h0m26 0h0m7 0h0m5 0h0m5 0h0m-41 1h0m8 0h0m2 0h0m8 0h0m7 0h0m-24 1h0m0 0h0m45 0h0m7 0h0m-89 1h0m8 0h0m33 0h0m0 0h0m14 0h0m2 0h0m4 0h0m10 0h0m-49 1h0m5 0h0m7 0h0m15 0h0m8 0h0m25 0h0m-56 1h0m9 0h0m8 0h0m2 0h0m3 0h0m5 0h0m-12 1h0m4 0h0m1 0h0m10 0h0m7 0h0m9 0h0m2 0h0m-43 1h0m3 0h0m8 0h0m10 0h0m0 0h0m8 0h0m6 0h0m2 0h0m14 0h0m-55 1h0m10 0h0m2 0h0m24 0h0m4 0h0m-35 1h0m2 0h0m3 0h0m16 0h0m4 0h0m8 0h0m10 0h0m-42 1h0m21 0h0m14 0h0m-75 1h0m46 0h0m9 0h0m6 0h0m1 0h0m5 0h0m-21 1h0m5 0h0m6 0h0m3 0h0m6 0h0m6 0h0m7 0h0m-60 1h0m29 0h0m6 0h0m3 0h0m1 0h0m5 0h0m-26 1h0m7 0h0m5 0h0m0 0h0m1 0h0m5 0h0m-1 1h0m-22 1h0m5 0h0m1 0h0m2 0h0m1 0h0m2 0h0m1 0h0m5 0h0m13 0h0m-25 1h0m7 0h0m39 0h0m-33 1h0m17 1h0m12 0h0m-50 1h0m18 0h0m12 0h0m0 0h0m-16 2h0m4 0h0m21 0h0m-10 2h0m7 0h0m-41 1h0m29 0h0m-19 2h0m-8 2h0" stroke="#e377c2" stroke-width="2.70" stroke-linecap="square" fill="none" transform="scale(0.5)"/>
<path d="M555 531h0m8 2h0m-4 2h0m6 0h0m-37 2h0m35 1h0m-39 1h0m34 0h0m0 0h0m7 0h0m1 0h0m26 0h0m-68 1h0m20 0h0m17 0h0m0 0h0m1 0h0m2 0h0m7 0h0m11 0h0m-43 1h0m6 0h0m5 0h0m11 0h0m16 0h0m1 0h0m-50 1h0m14 0h0m6 0h0m9 0h0m1 0h0m1 0h0m10 0h0m1 0h0m7 0h0m-27 1h0m8 0h0m4 0h0m0 0h0m5 0h0m1 0h0m9 0h0m-50 1h0m1 0h0m13 0h0m1 0h0m7 0h0m1 0h0m15 0h0m0 0h0m1 0h0m3 0h0m3 0h0m12 0h0m-31 1h0m1 0h0m14 0h0m0 0h0m3 0h0m4 0h0m1 0h0m6 0h0m7 0h0m-60 1h0m34 0h0m1 0h0m12 0h0m2 0h0m-60 1h0m19 0h0m2 0h0m6 0h0m1 0h0m7 0h0m5 0h0m1 0h0m7 0h0m22 0h0m-62 1h0m11 0h0m3 0h0m21 0h0m1 0h0m3 0h0m4 0h0m4 0h0m7 0h0m10 0h0m-75 1h0m18 0h0m11 0h0m11 0h0m1 0h0m8 0h0m1 0h0m10 0h0m-51 1h0m1 0h0m15 0h0m1 0h0m1 0h0m5 0h0m4 0h0m0 0h0m-23 1h0m3 0h0m0 0h0m1 0h0m5 0h0m2 0h0m4 0h0m0 0h0m9 0h0m14 0h0m-33 1h0m-6 1h0m7 0h0m9 0h0m-18 1h0m0 0h0m20 0h0m-19 1h0m5 0h0m0 0h0m10 0h0m1 0h0m6 0h0m1 1h0m-32 1h0m1 0h0m5 0h0m10 0h0m0 0h0m9 0h0m1 0h0m4 0h0m6 0h0m0 0h0m-36 1h0m14 0h0m2 0h0m13 0h0m6 0h0m-38 1h0m11 0h0m6 0h0m23 0h0m-37 1h0m6 0h0m10 0h0m0 0h0m1 0h0m-13 1h0m9 0h0m10 0h0m1 0h0m2 0h0m1 0h0m0 0h0m4 0h0m3 0h0m4 0h0m-36 1h0m0 0h0m2 0h0m4 0h0m1 0h0m5 0h0m2 0h0m1 0h0m0 0h0m1 0h0m14 0h0m2 0h0m-33 1h0m13 0h0m1 0h0m2 0h0m2 0h0m0 0h0m1 0h0m1 0h0m5 0h0m1 0h0m6 0h0m-32 1h0m10 0h0m8 0h0m2 0h0m-14 1h0m4 0h0m5 0h0m1 0h0m0 0h0m2 0h0m6 0h0m2 0h0m1 0h0m1 0h0m1 0h0m2 0h0m5 0h0m-30 1h0m4 0h0m6 0h0m1 0h0m4 0h0m9 0h0m1 0h0m1 0h0m-20 1h0m1 0h0m5 0h0m1 0h0m3 0h0m3 0h0m4 0h0m-27 1h0m11 0h0m10 0h0m1 0h0m6 0h0m-23 1h0m4 0h0m13 0h0m1 0h0m3 0h0m11 0h0m-33 1h0m3 0h0m1 0h0m1 0h0m2 0h0m2 0h0m5 0h0m8 0h0m-21 1h0m2 0h0m2 0h0m2 0h0m0 0h0m7 0h0m0 0h0m3 0h0m8 0h0m1 0h0m-21 1h0m-11 1h0m6 0h0m12 0h0m8 0h0m6 0h0m-26 1h0m5 0h0m11 0h0m4 0h0m-13 1h0m3 0h0m2 0h0m8 1h0m0 0h0m-3 1h0m7 0h0m-8 3h0" stroke="#7f7f7f" stroke-width="2.70" stroke-linecap="square" fill="none" transform="scale(0.5)"/>
<path d="M631 580h0m-3 1h0m1 3h0m2 2h0m-3 45h0m-1 1h0m4 0h0m-3 1h0m4 0h0m0 1h0m1 0h0m-3 2h0m1 0h0m2 1h0m-1 1h0" stroke="#bcbd22" stroke-width="2.70" stroke-linecap="square" fill="none" transform="scale(0.5)"/>
<path d="M569 536h0m2 11h0m-49 11h0m30 9h0m14 11h0m-44 9h0m32 6h0m46 1h0m-42 1h0m-10 1h0m4 0h0m7 0h0m20 0h0m-14 1h0m15 0h0m9 0h0m-30 2h0m-7 1h0m22 1h0m10 0h0m17 0h0m-33 1h0m-6 1h0m30 0h0m7 0h0m-31 1h0m-14 1h0m24 0h0m-19 1h0m17 0h0m-22 1h0m7 0h0m-8 1h0m15 0h0m1 0h0m8 0h0m1 0h0m23 0h0m1 0h0m-43 1h0m15 0h0m10 0h0m2 0h0m1 0h0m-19 1h0m2 0h0m3 0h0m8 0h0m-31 1h0m13 0h0m9 0h0m9 0h0m-66 1h0m33 0h0m9 0h0m13 0h0m-22 1h0m3 0h0m26 0h0m4 0h0m8 0h0m6 0h0m-42 2h0m5 0h0m12 0h0m-28 1h0m7 0h0m20 0h0m12 0h0m11 0h0m2 1h0m7 0h0m-43 1h0m25 0h0m-52 1h0m19 0h0m10 0h0m39 0h0m-74 1h0m15 0h0m30 0h0m16 0h0m6 0h0m5 0h0m-67 1h0m7 0h0m7 0h0m13 0h0m11 0h0m2 0h0m14 0h0m-36 1h0m33 0h0m15 0h0m3 0h0m2 0h0m-57 1h0m7 0h0m22 0h0m-19 1h0m18 0h0m3 0h0m1 0h0m-21 1h0m23 0h0m1 0h0m-53 1h0m21 0h0m39 0h0m-61 1h0m8 0h0m9 0h0m1 0h0m12 0h0m1 0h0m3 0h0m36 0h0m-54 1h0m23 0h0m-3 1h0m-12 1h0m23 0h0m8 0h0m-35 1h0m29 0h0m-31 1h0m14 0h0m20 0h0m-23 1h0m33 0h0m-43 1h0m36 0h0m-33 1h0m1 0h0m8 0h0m21 0h0m5 0h0m-31 1h0m28 0h0m-41 1h0m23 0h0m7 0h0m-29 1h0m2 0h0m23 0h0m16 0h0m0 0h0m-45 1h0m28 0h0m2 0h0m-15 1h0m4 0h0m-16 1h0m24 0h0m7 0h0m4 0h0m-29 1h0m5 0h0m17 0h0m19 0h0m-32 1h0m24 0h0m-38 1h0m26 0h0m7 1h0m-6 1h0m-13 1h0m18 0h0m-12 1h0m0 1h0m-23 1h0m16 0h0m-15 1h0m16 1h0m-22 1h0m23 0h0m-12 1h0m5 3h0m15 0h0m-19 2h0m12 0h0m1 0h0m-4 12h0m76 7h0m-75 2h0" stroke="#17becf" stroke-width="2.70" stroke-linecap="square" fill="none" transform="scale(0.5)"/>
<path d="M560 543h0m74 13h0m-37 1h0m28 6h0m-1 2h0m20 5h0m-37 1h0m20 0h0m-5 2h0m6 0h0m1 2h0m-15 1h0m12 0h0m2 1h0m2 0h0m-9 2h0m23 0h0m-31 1h0m2 1h0m25 1h0m-29 1h0m-1 1h0m8 0h0m17 0h0m4 0h0m5 0h0m-28 1h0m17 0h0m-26 1h0m42 0h0m-18 3h0m-20 1h0m0 0h0m15 0h0m19 0h0m-36 1h0m2 0h0m26 0h0m-35 2h0m42 0h0m-36 1h0m14 0h0m0 0h0m19 0h0m-6 1h0m-22 1h0m20 1h0m-10 1h0m8 0h0m7 0h0m-10 1h0m10 0h0m6 1h0m-11 1h0m2 0h0m-19 1h0m-6 1h0m39 0h0m-30 1h0m13 0h0m-19 2h0m5 0h0m4 0h0m22 0h0m1 0h0m-4 2h0m-40 1h0m13 0h0m15 0h0m5 1h0m9 0h0m-18 1h0m18 0h0m0 0h0m-117 1h0m84 0h0m8 1h0m-2 2h0m11 1h0m6 1h0m3 0h0m-11 1h0m8 0h0m-8 3h0m12 6h0m-10 9h0" stroke="#ff7f0e" stroke-width="2.70" stroke-linecap="square" fill="none" transform="scale(0.5)"/>
</g>
<g filter="url(#bl2)">
<path d="M723 535h0m24 0h0m-24 1h0m-2 1h0m10 0h0m12 0h0m21 1h0m-43 1h0m19 0h0m4 0h0m-9 1h0m21 0h0m-16 1h0m10 0h0m0 0h0m0 1h0m2 0h0m-10 1h0m4 0h0m-30 1h0m1 0h0m3 0h0m4 0h0m11 0h0m2 0h0m7 0h0m6 0h0m6 0h0m-43 1h0m35 0h0m-16 1h0m2 0h0m19 0h0m-32 1h0m7 0h0m12 0h0m8 0h0m0 0h0m4 0h0m3 0h0m-44 1h0m18 0h0m10 0h0m17 0h0m-37 1h0m4 0h0m14 0h0m15 0h0m-37 1h0m6 0h0m9 0h0m0 0h0m5 0h0m1 0h0m7 0h0m2 0h0m0 0h0m-27 1h0m4 0h0m14 0h0m1 0h0m3 0h0m3 0h0m4 0h0m7 0h0m7 0h0m-37 1h0m0 0h0m6 0h0m2 0h0m0 0h0m1 0h0m3 0h0m2 0h0m10 0h0m-29 1h0m14 0h0m4 0h0m8 0h0m4 0h0m-36 1h0m10 0h0m14 0h0m1 0h0m2 0h0m-20 1h0m6 0h0m8 0h0m2 0h0m2 0h0m1 0h0m5 0h0m1 0h0m10 0h0m2 0h0m-35 1h0m5 0h0m1 0h0m1 0h0m16 0h0m4 0h0m4 0h0m18 0h0m-50 1h0m5 0h0m23 0h0m-28 1h0m13 0h0m-12 1h0m2 0h0m1 0h0m8 0h0m5 0h0m4 0h0m14 0h0m-76 1h0m45 0h0m4 0h0m8 0h0m5 0h0m-17 1h0m6 0h0m2 0h0m8 0h0m2 0h0m14 0h0m-60 1h0m24 0h0m6 0h0m1 0h0m1 0h0m14 0h0m-62 1h0m10 0h0m7 0h0m25 0h0m1 0h0m1 0h0m8 0h0m1 0h0m9 0h0m3 0h0m1 0h0m-19 1h0m2 0h0m1 0h0m29 0h0m6 0h0m-85 1h0m6 0h0m17 0h0m21 0h0m0 0h0m2 0h0m-45 1h0m6 0h0m9 0h0m33 0h0m0 0h0m5 0h0m-52 1h0m10 0h0m13 0h0m26 0h0m14 0h0m5 0h0m2 0h0m-76 1h0m1 0h0m6 0h0m6 0h0m3 0h0m32 0h0m-37 1h0m8 0h0m2 0h0m23 0h0m14 0h0m-58 1h0m7 0h0m10 0h0m7 0h0m11 0h0m19 0h0m2 0h0m5 0h0m2 0h0m8 0h0m-70 1h0m30 0h0m-35 1h0m15 0h0m5 0h0m23 0h0m-43 1h0m1 0h0m8 0h0m5 0h0m4 0h0m10 0h0m9 0h0m-30 1h0m1 0h0m0 0h0m1 0h0m5 0h0m1 0h0m2 0h0m4 0h0m0 0h0m5 0h0m16 0h0m4 0h0m-42 1h0m2 0h0m1 0h0m1 0h0m15 0h0m1 0h0m6 0h0m3 0h0m3 0h0m1 0h0m-29 1h0m8 0h0m0 0h0m12 0h0m6 0h0m-14 1h0m8 0h0m-18 1h0m5 0h0m7 0h0m-19 1h0m3 0h0m6 0h0m3 0h0m16 0h0m5 0h0m-24 1h0m2 0h0m18 0h0m-25 1h0m3 0h0m11 0h0m17 0h0m-35 1h0m4 0h0m12 0h0m-9 1h0m8 0h0m0 0h0m-9 1h0m12 0h0m1 0h0m5 0h0m-12 1h0m7 1h0m11 1h0m-27 1h0m131 1h0m-134 2h0m34 0h0m-5 2h0m-6 12h0m9 15h0m87 7h0m-24 21h0m-4 5h0" stroke="#2ca02c" stroke-width="2.70" stroke-linecap="square" fill="none" transform="scale(0.5)"/>
<path d="M733 549h0m-18 19h0m14 1h0m11 1h0m4 0h0m-17 1h0m17 0h0m-21 1h0m6 0h0m0 0h0m3 0h0m11 0h0m5 0h0m-32 1h0m7 0h0m3 0h0m2 0h0m2 0h0m1 0h0m10 0h0m-22 1h0m2 0h0m1 0h0m12 0h0m0 0h0m1 0h0m-7 1h0m0 0h0m8 0h0m-15 1h0m7 0h0m2 0h0m8 0h0m1 0h0m2 0h0m2 0h0m0 0h0m-25 1h0m9 0h0m4 0h0m1 0h0m0 0h0m7 0h0m2 0h0m8 0h0m-30 1h0m1 0h0m11 0h0m16 0h0m-32 1h0m7 0h0m1 0h0m18 0h0m7 0h0m-35 1h0m4 0h0m1 0h0m11 0h0m6 0h0m3 0h0m8 0h0m-28 1h0m1 0h0m2 0h0m2 0h0m2 0h0m1 0h0m8 0h0m0 0h0m9 0h0m-26 1h0m0 0h0m9 0h0m1 0h0m9 0h0m1 0h0m2 0h0m4 0h0m3 0h0m-31 1h0m8 0h0m18 0h0m2 0h0m0 0h0m-19 1h0m2 0h0m5 0h0m3 0h0m2 0h0m1 0h0m-19 1h0m7 0h0m3 0h0m-39 1h0m24 0h0m5 0h0m6 0h0m11 0h0m-50 1h0m1 0h0m7 0h0m0 0h0m2 0h0m3 0h0m15 0h0m16 0h0m2 0h0m1 0h0m3 0h0m2 0h0m2 0h0m-51 1h0m3 0h0m5 0h0m39 0h0m-49 1h0m2 0h0m2 0h0m0 0h0m27 0h0m4 0h0m-39 1h0m7 0h0m3 0h0m1 0h0m10 0h0m2 0h0m7 0h0m16 0h0m-51 1h0m19 0h0m2 0h0m5 0h0m15 0h0m9 0h0m9 0h0m-54 1h0m1 0h0m17 0h0m2 0h0m1 0h0m28 0h0m-58 1h0m5 0h0m4 0h0m8 0h0m3 0h0m1 0h0m0 0h0m5 0h0m0 0h0m4 0h0m1 0h0m29 0h0m-42 1h0m0 0h0m7 0h0m2 0h0m1 0h0m3 0h0m1 0h0m12 0h0m12 0h0m-46 1h0m5 0h0m2 0h0m3 0h0m10 0h0m24 0h0m-43 1h0m8 0h0m3 0h0m2 0h0m0 0h0m2 0h0m8 0h0m-22 1h0m0 0h0m9 0h0m-12 1h0m15 0h0m3 0h0m2 0h0m2 0h0m-13 1h0m7 0h0m6 0h0m-11 1h0m5 0h0m4 0h0m2 0h0m4 0h0m1 0h0m-30 1h0m2 0h0m26 0h0m-29 1h0m6 0h0m0 0h0m6 0h0m23 0h0m-37 1h0m3 0h0m7 0h0m4 0h0m1 0h0m2 0h0m3 0h0m10 0h0m7 0h0m-29 1h0m4 0h0m1 0h0m19 0h0m-24 1h0m6 0h0m1 0h0m2 0h0m11 0h0m3 0h0m0 0h0m-26 1h0m0 0h0m5 0h0m4 0h0m-8 1h0m1 0h0m1 0h0m3 0h0m7 0h0m1 0h0m5 0h0m2 0h0m5 0h0m-27 1h0m2 0h0m4 1h0m2 0h0m4 0h0m42 0h0m-54 1h0m26 0h0m2 0h0m-36 1h0m12 0h0m1 0h0m4 0h0m6 1h0m11 0h0m-21 1h0m15 0h0m0 0h0m-15 1h0m1 0h0m0 0h0m6 0h0m4 0h0m0 0h0m6 0h0m-21 1h0m3 0h0m13 0h0m-25 1h0m18 0h0m1 0h0m1 0h0m6 0h0m-14 1h0m1 0h0m5 0h0m9 1h0m-19 1h0m3 0h0m7 0h0m3 0h0m96 0h0m-107 1h0m1 0h0m11 0h0m-9 1h0m8 0h0m3 0h0m3 0h0m-17 1h0m14 0h0m-16 1h0m8 1h0m9 1h0m4 1h0m-10 4h0m7 0h0m-18 1h0m91 0h0m-51 46h0" stroke="#d62728" stroke-width="2.70" stroke-linecap="square" fill="none" transform="scale(0.5)"/>
<path d="M756 563h0m1 4h0m8 0h0m4 0h0m4 0h0m1 0h0m11 0h0m-20 1h0m-20 1h0m20 0h0m-14 1h0m21 0h0m6 0h0m-28 1h0m30 0h0m-30 1h0m3 0h0m13 0h0m-15 1h0m3 0h0m3 0h0m5 0h0m4 1h0m-13 1h0m13 0h0m-13 1h0m11 1h0m-6 1h0m8 0h0m-1 1h0m-4 2h0m-11 8h0m7 2h0m-19 7h0m55 14h0m-32 10h0m-46 5h0m68 28h0" stroke="#9467bd" stroke-width="2.70" stroke-linecap="square" fill="none" transform="scale(0.5)"/>
<path d="M702 555h0m92 51h0m-30 2h0m-6 1h0m-48 2h0m55 0h0m-12 2h0m22 0h0m-2 1h0m-27 1h0m5 0h0m1 1h0m6 0h0m3 0h0m6 0h0m4 0h0m6 0h0m2 1h0m3 0h0m3 0h0m-10 1h0m0 0h0m-27 1h0m12 0h0m3 1h0m14 0h0m-33 1h0m9 0h0m18 0h0m1 0h0m6 0h0m-18 1h0m14 0h0m8 0h0m-28 1h0m6 0h0m1 0h0m2 0h0m-10 1h0m1 0h0m4 0h0m-3 2h0m6 0h0m-6 1h0m3 0h0m3 0h0m3 0h0m5 0h0m1 0h0m13 0h0m4 0h0m-29 1h0m3 0h0m22 0h0m-23 2h0m28 0h0m-4 1h0m9 0h0m-39 9h0m21 1h0m-9 1h0m-14 1h0m-60 1h0m45 0h0m1 0h0m14 0h0m-12 1h0m10 0h0m14 0h0m1 0h0m-54 1h0m19 0h0m3 0h0m15 0h0m8 1h0m3 0h0m-58 1h0m27 0h0m4 0h0m13 0h0m17 0h0m-50 1h0m22 0h0m27 0h0m3 0h0m-51 1h0m7 0h0m8 0h0m5 0h0m42 0h0m-61 1h0m3 0h0m13 0h0m6 0h0m2 0h0m16 0h0m-42 1h0m0 0h0m4 0h0m5 0h0m1 0h0m9 0h0m1 0h0m16 0h0m6 0h0m1 0h0m1 0h0m6 0h0m7 0h0m7 0h0m-71 1h0m27 0h0m3 0h0m17 0h0m-38 1h0m16 0h0m9 0h0m6 0h0m9 0h0m7 0h0m-53 1h0m17 0h0m2 0h0m20 0h0m10 0h0m14 0h0m1 0h0m1 0h0m-52 1h0m26 0h0m3 0h0m19 0h0m4 0h0m-29 1h0m4 0h0m2 0h0m2 0h0m-47 1h0m23 0h0m43 0h0m-68 1h0m2 0h0m13 0h0m18 0h0m5 0h0m5 0h0m5 0h0m9 0h0m-39 1h0m4 0h0m7 0h0m3 0h0m19 0h0m0 0h0m7 0h0m-57 1h0m28 0h0m24 0h0m-41 1h0m19 0h0m5 0h0m18 0h0m-32 1h0m54 0h0m-61 1h0m11 0h0m23 0h0m2 0h0m-23 1h0m11 0h0m0 0h0m-18 1h0m9 0h0m17 0h0m9 0h0m5 0h0m-44 2h0m8 1h0m11 4h0m25 0h0" stroke="#e377c2" stroke-width="2.70" stroke-linecap="square" fill="none" transform="scale(0.5)"/>
<path d="M683 540h0m16 0h0m-26 5h0m25 4h0m1 0h0m4 0h0m-10 1h0m1 0h0m5 0h0m8 0h0m5 0h0m-23 1h0m8 0h0m-19 1h0m13 0h0m0 0h0m11 0h0m6 0h0m1 0h0m2 0h0m4 0h0m-32 1h0m8 0h0m5 1h0m-13 1h0m7 0h0m17 0h0m-17 1h0m13 0h0m10 0h0m-12 1h0m3 1h0m14 0h0m-29 2h0m13 0h0m-16 1h0m6 0h0m20 0h0m-17 1h0m15 0h0m-1 1h0m-17 1h0m8 0h0m3 0h0m7 0h0m-3 1h0m9 2h0" stroke="#7f7f7f" stroke-width="2.70" stroke-linecap="square" fill="none" transform="scale(0.5)"/>
<path d="M701 557h0m-6 7h0m6 4h0m79 1h0m-72 6h0m43 0h0m25 3h0m-19 2h0m11 0h0m-67 1h0m54 0h0m9 0h0m-11 1h0m-1 1h0m6 0h0m3 0h0m1 0h0m13 0h0m2 0h0m7 0h0m-35 1h0m12 0h0m2 0h0m-8 1h0m-15 1h0m13 0h0m0 0h0m2 0h0m1 0h0m2 0h0m-9 1h0m2 0h0m0 0h0m1 0h0m4 0h0m6 0h0m1 0h0m5 0h0m12 0h0m-26 1h0m12 0h0m-27 1h0m0 0h0m1 0h0m14 0h0m1 0h0m6 0h0m0 0h0m1 0h0m3 0h0m-28 1h0m4 0h0m1 0h0m10 0h0m-1 1h0m6 0h0m3 0h0m1 0h0m-27 1h0m11 0h0m1 0h0m19 0h0m-34 1h0m4 0h0m14 0h0m2 0h0m2 0h0m-20 1h0m3 0h0m3 0h0m2 0h0m2 0h0m2 0h0m3 0h0m4 0h0m1 0h0m5 0h0m-25 1h0m18 0h0m0 0h0m1 0h0m4 0h0m2 0h0m-19 1h0m6 0h0m3 0h0m-19 1h0m8 0h0m3 0h0m11 0h0m7 0h0m-48 1h0m10 0h0m9 0h0m1 0h0m5 0h0m4 0h0m0 0h0m2 0h0m9 0h0m-32 1h0m12 0h0m4 0h0m9 0h0m-17 1h0m18 0h0m9 0h0m4 0h0m-36 1h0m0 0h0m1 0h0m0 0h0m4 0h0m4 0h0m7 0h0m1 0h0m0 0h0m6 0h0m2 0h0m1 0h0m1 0h0m6 0h0m-23 1h0m6 0h0m3 0h0m4 0h0m2 0h0m1 0h0m2 0h0m8 0h0m-34 1h0m2 0h0m12 0h0m1 0h0m3 0h0m2 0h0m8 0h0m1 0h0m0 0h0m-11 1h0m-25 1h0m4 0h0m5 0h0m4 0h0m1 0h0m4 0h0m6 0h0m1 0h0m12 0h0m-43 1h0m24 0h0m6 0h0m1 0h0m-29 1h0m26 0h0m4 0h0m7 0h0m3 0h0m-43 1h0m4 0h0m7 0h0m5 0h0m10 0h0m10 0h0m3 0h0m8 0h0m-49 1h0m15 0h0m4 0h0m1 0h0m11 0h0m1 0h0m2 0h0m2 0h0m-29 1h0m2 0h0m14 0h0m4 0h0m13 0h0m-30 1h0m11 0h0m15 0h0m-39 1h0m14 0h0m7 0h0m3 0h0m5 0h0m7 0h0m-22 1h0m6 0h0m7 0h0m12 0h0m-25 1h0m1 0h0m14 0h0m4 0h0m-19 1h0m7 0h0m3 0h0m9 0h0m1 0h0m31 0h0m-45 1h0m6 0h0m2 0h0m9 0h0m-37 1h0m2 0h0m17 0h0m-10 1h0m4 0h0m4 0h0m0 0h0m2 0h0m-18 1h0m1 0h0m5 0h0m0 0h0m17 0h0m-23 1h0m6 0h0m2 0h0m6 0h0m9 0h0m1 0h0m4 0h0m-20 1h0m25 0h0m0 0h0m-37 1h0m5 0h0m1 0h0m15 0h0m5 0h0m23 0h0m-45 1h0m1 0h0m4 0h0m5 0h0m5 0h0m0 0h0m8 0h0m-23 1h0m14 0h0m1 0h0m-34 1h0m23 0h0m-3 1h0m1 0h0m15 0h0m4 0h0m9 0h0m-28 1h0m5 0h0m9 0h0m37 0h0m-40 1h0m1 0h0m28 0h0m3 0h0m1 0h0m-42 1h0m16 0h0m9 0h0m-40 1h0m23 0h0m8 0h0m14 0h0m18 0h0m-60 1h0m5 0h0m30 0h0m7 0h0m2 0h0m30 0h0m-69 1h0m9 0h0m45 0h0m10 0h0m-38 1h0m21 0h0m9 0h0m-1 1h0m23 0h0m3 0h0m-99 1h0m40 0h0m25 0h0m23 0h0m-78 1h0m61 0h0m-38 1h0m0 0h0m8 0h0m44 0h0m-62 1h0m14 0h0m31 0h0m21 0h0m-48 1h0m10 0h0m22 0h0m0 0h0m-51 1h0m24 0h0m3 0h0m-49 1h0m29 0h0m15 0h0m4 0h0m-19 1h0m55 0h0m-33 1h0m28 0h0m22 0h0m-22 1h0m-53 2h0m79 3h0m-91 1h0m4 0h0m77 3h0m-81 2h0m84 5h0" stroke="#17becf" stroke-width="2.70" stroke-linecap="square" fill="none" transform="scale(0.5)"/>
<path d="M729 551h0m-42 4h0m45 0h0m-21 5h0m61 8h0m19 7h0m3 2h0m-6 4h0m-5 2h0m17 2h0m-26 1h0m4 0h0m4 0h0m12 0h0m5 0h0m-82 1h0m69 0h0m6 1h0m4 0h0m6 0h0m-28 1h0m7 0h0m8 0h0m4 0h0m15 0h0m-34 1h0m7 0h0m3 0h0m2 0h0m4 0h0m-3 1h0m4 0h0m-31 1h0m5 0h0m6 0h0m5 0h0m14 0h0m6 0h0m-20 2h0m9 0h0m3 0h0m16 0h0m1 0h0m-18 1h0m-2 1h0m-20 1h0m8 1h0m5 0h0m29 0h0m-30 1h0m9 0h0m-27 1h0m24 0h0m12 0h0m10 0h0m-29 1h0m1 0h0m1 0h0m3 0h0m9 0h0m14 0h0m-40 1h0m16 0h0m-82 1h0m67 0h0m6 0h0m17 0h0m1 0h0m-23 1h0m10 1h0m4 0h0m4 0h0m10 0h0m4 0h0m4 0h0m5 0h0m-46 1h0m1 0h0m20 0h0m1 0h0m8 0h0m1 0h0m-15 1h0m8 0h0m9 0h0m13 0h0m-74 1h0m70 0h0m-46 1h0m-6 1h0m36 0h0m13 0h0m-11 1h0m10 0h0m6 0h0m-14 1h0m-9 1h0m17 0h0m5 0h0m-26 1h0m5 0h0m16 0h0m1 0h0m1 0h0m7 0h0m-25 1h0m8 0h0m8 0h0m-12 1h0m-3 1h0m23 0h0m-22 1h0m15 0h0m-5 6h0" stroke="#ff7f0e" stroke-width="2.70" stroke-linecap="square" fill="none" transform="scale(0.5)"/>
</g>
<g filter="url(#bl2)">
<path d="M898 531h0m1 1h0m0 0h0m6 0h0m-8 1h0m0 1h0m0 0h0m3 0h0m2 0h0m-6 1h0m1 0h0m1 0h0m0 0h0m3 2h0m4 0h0m4 0h0m-12 1h0m2 1h0m1 0h0m1 0h0" stroke="#1f77b4" stroke-width="2.70" stroke-linecap="square" fill="none" transform="scale(0.5)"/>
<path d="M894 529h0m-13 2h0m9 3h0m1 2h0m-18 1h0m11 0h0m6 0h0m0 0h0m-13 1h0m16 0h0m14 0h0m-18 1h0m2 0h0m22 0h0m-30 1h0m-2 1h0m2 0h0m11 0h0m0 0h0m3 0h0m8 0h0m9 0h0m-33 1h0m9 0h0m2 0h0m8 0h0m2 0h0m1 0h0m-19 1h0m4 0h0m19 0h0m5 0h0m-25 1h0m2 0h0m10 0h0m-7 1h0m1 0h0m1 0h0m18 0h0m-37 1h0m14 0h0m3 0h0m1 0h0m2 0h0m2 0h0m1 0h0m7 0h0m0 0h0m3 0h0m-30 1h0m7 0h0m5 0h0m1 0h0m7 0h0m4 0h0m4 0h0m4 0h0m-28 1h0m7 0h0m9 0h0m4 0h0m-23 1h0m3 0h0m4 0h0m9 0h0m-12 1h0m8 0h0m6 0h0m3 0h0m7 0h0m6 0h0m-24 1h0m8 0h0m2 0h0m1 0h0m5 0h0m1 0h0m6 0h0m-33 1h0m5 0h0m5 0h0m1 0h0m0 0h0m3 0h0m11 0h0m-25 1h0m17 0h0m0 0h0m6 0h0m0 0h0m2 0h0m-23 1h0m1 0h0m0 0h0m3 0h0m8 0h0m9 0h0m1 0h0m0 0h0m-21 1h0m2 0h0m6 0h0m15 0h0m0 0h0m2 0h0m-30 1h0m6 0h0m2 0h0m2 0h0m15 0h0m1 0h0m2 0h0m6 0h0m4 0h0m-21 1h0m8 0h0m2 0h0m5 0h0m9 0h0m-41 1h0m1 0h0m8 0h0m0 0h0m9 0h0m7 0h0m6 0h0m3 0h0m-40 1h0m11 0h0m4 0h0m2 0h0m4 0h0m0 0h0m3 0h0m1 0h0m0 0h0m10 0h0m17 0h0m-69 1h0m3 0h0m17 0h0m2 0h0m6 0h0m5 0h0m2 0h0m2 0h0m-6 1h0m8 0h0m4 0h0m27 0h0m-44 1h0m0 0h0m8 0h0m0 0h0m13 0h0m4 0h0m7 0h0m-14 1h0m12 0h0m1 0h0m-74 1h0m53 0h0m0 0h0m10 0h0m2 0h0m6 0h0m-67 1h0m11 0h0m40 0h0m1 0h0m8 0h0m-56 1h0m6 0h0m0 0h0m7 0h0m1 0h0m0 0h0m6 0h0m15 0h0m13 0h0m10 0h0m1 0h0m12 0h0m-68 1h0m3 0h0m7 0h0m10 0h0m9 0h0m1 0h0m10 0h0m4 0h0m11 0h0m-71 1h0m8 0h0m1 0h0m4 0h0m1 0h0m8 0h0m5 0h0m1 0h0m2 0h0m3 0h0m32 0h0m-55 1h0m11 0h0m0 0h0m14 0h0m4 0h0m7 0h0m24 0h0m-48 1h0m9 0h0m34 0h0m13 0h0m-76 1h0m4 0h0m4 0h0m1 0h0m35 0h0m22 0h0m18 0h0m-83 1h0m6 0h0m0 0h0m12 0h0m9 0h0m-24 1h0m6 0h0m2 0h0m5 0h0m5 0h0m7 0h0m12 0h0m-35 1h0m12 0h0m10 0h0m2 0h0m4 0h0m0 0h0m-28 1h0m3 0h0m4 0h0m4 0h0m9 0h0m4 0h0m37 0h0m-62 1h0m10 0h0m2 0h0m2 0h0m13 0h0m-8 1h0m5 0h0m5 0h0m-30 1h0m5 0h0m2 0h0m1 0h0m2 0h0m15 0h0m1 0h0m11 0h0m-38 1h0m8 0h0m4 0h0m5 0h0m5 0h0m0 0h0m1 0h0m3 0h0m8 0h0m-31 1h0m1 0h0m1 0h0m10 0h0m1 0h0m7 0h0m7 0h0m-30 1h0m11 0h0m9 0h0m4 0h0m1 0h0m-24 1h0m2 0h0m3 0h0m5 0h0m2 0h0m4 0h0m9 0h0m4 0h0m-32 1h0m9 0h0m8 0h0m0 0h0m8 0h0m-6 1h0m4 0h0m4 0h0m3 0h0m-26 1h0m2 0h0m4 0h0m10 0h0m5 0h0m-15 1h0m96 0h0m-81 1h0m50 0h0m-12 1h0m1 40h0m35 22h0" stroke="#2ca02c" stroke-width="2.70" stroke-linecap="square" fill="none" transform="scale(0.5)"/>
<path d="M848 549h0m-12 16h0m49 1h0m3 0h0m-1 1h0m6 0h0m6 0h0m-20 2h0m3 0h0m0 0h0m1 0h0m10 0h0m1 0h0m1 0h0m-4 1h0m18 0h0m-26 1h0m9 0h0m-5 1h0m0 0h0m0 0h0m1 0h0m0 0h0m2 0h0m6 0h0m2 0h0m14 0h0m-26 1h0m4 0h0m6 0h0m2 0h0m2 0h0m-8 1h0m0 0h0m4 0h0m2 0h0m1 0h0m1 0h0m4 0h0m-24 1h0m1 0h0m6 0h0m2 0h0m7 0h0m5 0h0m2 0h0m-69 1h0m42 0h0m5 0h0m2 0h0m4 0h0m2 0h0m1 0h0m1 0h0m4 0h0m3 0h0m3 0h0m-21 1h0m2 0h0m0 0h0m8 0h0m5 0h0m11 0h0m-8 1h0m1 0h0m9 0h0m3 0h0m-26 1h0m4 0h0m12 0h0m-25 1h0m0 0h0m3 0h0m7 0h0m2 0h0m4 0h0m0 0h0m6 0h0m8 0h0m23 0h0m-52 1h0m1 0h0m3 0h0m6 0h0m3 0h0m4 0h0m5 0h0m2 0h0m-24 1h0m1 0h0m2 0h0m1 0h0m1 0h0m0 0h0m8 0h0m1 0h0m6 0h0m1 0h0m1 0h0m4 0h0m-41 1h0m28 0h0m41 0h0m-82 1h0m27 0h0m15 0h0m-43 1h0m17 0h0m19 0h0m2 0h0m4 0h0m9 0h0m-51 1h0m3 0h0m3 0h0m2 0h0m7 0h0m13 0h0m11 0h0m1 0h0m2 0h0m1 0h0m7 0h0m3 0h0m-53 1h0m6 0h0m26 0h0m1 0h0m6 0h0m13 0h0m2 0h0m-57 1h0m4 0h0m4 0h0m8 0h0m17 0h0m2 0h0m9 0h0m3 0h0m4 0h0m4 0h0m3 0h0m-59 1h0m5 0h0m3 0h0m2 0h0m7 0h0m2 0h0m4 0h0m3 0h0m14 0h0m1 0h0m1 0h0m2 0h0m3 0h0m4 0h0m4 0h0m-63 1h0m22 0h0m5 0h0m19 0h0m1 0h0m0 0h0m1 0h0m2 0h0m8 0h0m3 0h0m-43 1h0m3 0h0m0 0h0m10 0h0m1 0h0m19 0h0m3 0h0m6 0h0m3 0h0m-54 1h0m6 0h0m20 0h0m10 0h0m4 0h0m1 0h0m5 0h0m9 0h0m-60 1h0m3 0h0m2 0h0m4 0h0m1 0h0m6 0h0m1 0h0m7 0h0m6 0h0m12 0h0m7 0h0m1 0h0m-50 1h0m3 0h0m1 0h0m1 0h0m2 0h0m3 0h0m3 0h0m3 0h0m7 0h0m-17 1h0m3 0h0m8 0h0m7 0h0m1 0h0m0 0h0m2 0h0m13 0h0m8 0h0m3 0h0m4 0h0m-57 1h0m4 0h0m5 0h0m7 0h0m11 0h0m6 0h0m14 0h0m13 0h0m-48 1h0m1 0h0m6 0h0m27 0h0m7 0h0m3 0h0m-53 1h0m2 0h0m2 0h0m12 0h0m1 0h0m0 0h0m1 0h0m4 0h0m1 0h0m1 0h0m2 0h0m24 0h0m-54 1h0m4 0h0m7 0h0m7 0h0m2 0h0m2 0h0m-19 1h0m10 0h0m14 0h0m7 0h0m-29 1h0m5 0h0m0 0h0m8 0h0m7 0h0m2 0h0m2 0h0m1 0h0m-30 1h0m14 0h0m16 0h0m-22 1h0m1 0h0m3 0h0m2 0h0m3 0h0m10 0h0m0 0h0m7 0h0m8 0h0m-45 1h0m1 0h0m9 0h0m3 0h0m6 0h0m0 0h0m5 0h0m2 0h0m-25 1h0m8 0h0m7 0h0m6 0h0m0 0h0m9 0h0m6 0h0m-27 1h0m6 0h0m14 0h0m-24 1h0m10 0h0m5 0h0m0 0h0m4 0h0m6 0h0m5 0h0m-37 1h0m9 0h0m1 0h0m11 0h0m4 0h0m4 0h0m0 0h0m5 0h0m1 0h0m1 0h0m-28 1h0m4 0h0m10 0h0m1 0h0m13 0h0m-30 1h0m21 0h0m0 0h0m-24 1h0m1 0h0m6 0h0m5 0h0m11 0h0m7 0h0m-17 1h0m3 0h0m5 0h0m4 0h0m0 0h0m3 0h0m3 0h0m-25 1h0m1 0h0m3 0h0m0 0h0m1 0h0m3 0h0m7 0h0m9 0h0m-24 1h0m0 0h0m3 0h0m4 0h0m1 0h0m10 0h0m1 0h0m5 0h0m-21 1h0m12 0h0m11 0h0m-20 1h0m3 0h0m1 0h0m5 0h0m9 0h0m-27 1h0m2 0h0m5 0h0m1 0h0m1 0h0m5 0h0m6 0h0m1 0h0m-16 1h0m7 0h0m7 0h0m0 0h0m2 0h0m2 0h0m2 0h0m-26 1h0m12 0h0m1 0h0m5 0h0m12 0h0m37 1h0m-58 1h0m2 0h0m2 0h0m2 1h0m2 0h0m-12 1h0m3 0h0m-4 1h0m12 0h0m-10 1h0m9 0h0m1 0h0m3 0h0m-14 1h0m1 0h0m11 1h0m-7 1h0m2 0h0m12 2h0" stroke="#d62728" stroke-width="2.70" stroke-linecap="square" fill="none" transform="scale(0.5)"/>
<path d="M902 531h0m13 7h0m-14 8h0m31 25h0m-7 1h0m-7 1h0m6 0h0m2 0h0m7 0h0m-35 1h0m23 0h0m8 0h0m3 0h0m1 0h0m-15 1h0m2 0h0m10 0h0m0 0h0m1 0h0m-92 1h0m8 0h0m74 0h0m8 0h0m0 0h0m0 1h0m-9 1h0m2 0h0m3 0h0m6 0h0m-18 1h0m16 0h0m3 0h0m-19 1h0m5 0h0m2 0h0m4 0h0m4 0h0m8 0h0m-13 1h0m3 0h0m2 0h0m-12 1h0m7 2h0m-5 1h0m3 0h0m-1 1h0m-40 2h0m85 21h0m-31 17h0m-53 7h0m16 27h0" stroke="#9467bd" stroke-width="2.70" stroke-linecap="square" fill="none" transform="scale(0.5)"/>
<path d="M924 550h0m-57 12h0m66 24h0m10 10h0m-61 9h0m78 5h0m-36 6h0m10 0h0m-23 3h0m15 1h0m4 0h0m5 0h0m11 0h0m-13 1h0m20 0h0m-38 1h0m3 0h0m3 0h0m29 0h0m-38 1h0m3 0h0m10 0h0m2 0h0m1 0h0m-19 1h0m32 0h0m-25 1h0m7 0h0m3 0h0m35 0h0m-30 1h0m2 0h0m-25 1h0m6 1h0m9 0h0m2 0h0m2 0h0m4 0h0m3 0h0m3 0h0m5 0h0m6 0h0m3 0h0m-8 1h0m-39 1h0m5 0h0m2 0h0m20 0h0m4 0h0m-29 1h0m0 0h0m17 0h0m6 0h0m7 0h0m-34 1h0m25 0h0m-22 1h0m2 0h0m1 0h0m4 0h0m16 0h0m-8 1h0m7 0h0m9 0h0m-24 1h0m0 0h0m31 0h0m0 0h0m0 0h0m-47 1h0m21 0h0m3 0h0m10 0h0m-27 1h0m1 0h0m15 0h0m2 0h0m3 0h0m3 0h0m-38 1h0m1 0h0m3 0h0m8 0h0m2 0h0m1 0h0m1 0h0m7 0h0m6 0h0m11 0h0m1 0h0m-24 1h0m10 0h0m12 0h0m15 0h0m-59 1h0m8 0h0m0 0h0m5 0h0m1 0h0m14 0h0m1 0h0m10 0h0m4 0h0m2 0h0m8 0h0m1 0h0m7 0h0m-46 1h0m11 0h0m18 0h0m-47 1h0m15 0h0m1 0h0m1 0h0m2 0h0m16 0h0m7 0h0m6 0h0m11 0h0m-59 1h0m28 0h0m12 0h0m1 0h0m2 0h0m3 0h0m9 0h0m-48 1h0m42 0h0m4 0h0m18 0h0m1 0h0m-70 1h0m6 0h0m15 0h0m3 0h0m7 0h0m13 0h0m-43 1h0m21 0h0m-26 1h0m12 0h0m8 0h0m17 0h0m2 0h0m4 0h0m5 0h0m-76 1h0m35 0h0m17 0h0m10 0h0m14 0h0m9 0h0m-33 1h0m-1 1h0m9 0h0m21 0h0m6 0h0m-50 1h0m1 0h0m0 0h0m5 0h0m10 0h0m6 0h0m2 0h0m10 0h0m0 0h0m6 0h0m1 0h0m2 0h0m2 0h0m-51 1h0m1 0h0m17 0h0m2 0h0m4 0h0m14 0h0m4 0h0m6 0h0m2 0h0m-45 1h0m6 0h0m11 0h0m17 0h0m9 0h0m-46 1h0m7 0h0m8 0h0m-34 1h0m3 0h0m7 0h0m8 0h0m21 0h0m10 0h0m2 0h0m18 0h0m-44 1h0m18 0h0m0 0h0m13 0h0m3 0h0m9 0h0m-42 1h0m13 0h0m1 0h0m5 0h0m1 0h0m2 0h0m29 0h0m-50 1h0m13 0h0m3 0h0m9 0h0m-19 1h0m14 0h0m2 0h0m-42 1h0m3 0h0m2 0h0m39 0h0m-62 1h0m44 0h0m8 0h0m9 0h0m-47 1h0m29 0h0m2 0h0m15 1h0m5 0h0m-27 1h0m13 0h0m-38 1h0m3 0h0m35 0h0m16 0h0m-46 1h0m25 0h0m-3 1h0m-14 2h0m4 0h0m3 0h0m1 1h0m0 1h0m-18 2h0" stroke="#e377c2" stroke-width="2.70" stroke-linecap="square" fill="none" transform="scale(0.5)"/>
<path d="M865 535h0m9 0h0m4 2h0m-19 5h0m4 0h0m3 1h0m10 0h0m1 0h0m-16 1h0m14 0h0m-11 1h0m15 0h0m2 0h0m-23 1h0m10 1h0m11 0h0m-24 2h0m14 0h0m-16 1h0m9 0h0m-20 1h0m16 0h0m9 1h0m-3 1h0m-5 1h0m-2 1h0m4 0h0m3 0h0m2 0h0m-5 2h0m1 0h0m1 0h0m8 0h0m-8 1h0m7 0h0m-4 1h0m2 0h0m2 0h0m-15 1h0m5 1h0m2 0h0m7 1h0m-11 1h0m8 0h0m-3 1h0m10 5h0m0 1h0" stroke="#7f7f7f" stroke-width="2.70" stroke-linecap="square" fill="none" transform="scale(0.5)"/>
<path d="M953 633h0m-2 2h0m-3 1h0m2 0h0m7 0h0m-10 1h0m10 1h0m-6 1h0m-2 1h0m5 0h0m2 0h0m-6 1h0m6 1h0m-6 1h0m4 0h0" stroke="#bcbd22" stroke-width="2.70" stroke-linecap="square" fill="none" transform="scale(0.5)"/>
<path d="M925 564h0m16 4h0m12 0h0m-98 5h0m31 8h0m34 4h0m-5 2h0m14 0h0m-16 1h0m11 0h0m-15 2h0m10 0h0m-17 1h0m19 0h0m-15 1h0m19 0h0m-8 1h0m-13 1h0m10 0h0m-16 1h0m6 0h0m7 0h0m4 0h0m-25 1h0m5 0h0m1 0h0m11 0h0m10 0h0m-18 1h0m5 0h0m4 0h0m1 0h0m1 0h0m11 0h0m5 0h0m-33 1h0m2 0h0m5 0h0m1 0h0m7 0h0m9 0h0m1 0h0m1 0h0m3 0h0m-32 1h0m4 0h0m3 0h0m0 0h0m6 0h0m7 0h0m4 0h0m3 0h0m0 0h0m6 0h0m-28 1h0m8 0h0m6 0h0m5 0h0m2 0h0m2 0h0m3 0h0m-31 1h0m1 0h0m4 0h0m5 0h0m6 0h0m0 0h0m1 0h0m0 0h0m5 0h0m4 0h0m1 0h0m1 0h0m-42 1h0m13 0h0m6 0h0m6 0h0m6 0h0m0 0h0m4 0h0m7 0h0m-36 1h0m3 0h0m5 0h0m1 0h0m11 0h0m1 0h0m0 0h0m5 0h0m7 0h0m1 0h0m-33 1h0m13 0h0m2 0h0m4 0h0m1 0h0m2 0h0m-58 1h0m34 0h0m3 0h0m13 0h0m1 0h0m4 0h0m3 0h0m1 0h0m3 0h0m6 0h0m-34 1h0m5 0h0m4 0h0m2 0h0m2 0h0m5 0h0m1 0h0m5 0h0m5 0h0m-31 1h0m4 0h0m1 0h0m12 0h0m0 0h0m0 0h0m1 0h0m8 0h0m6 0h0m1 0h0m1 0h0m4 0h0m1 0h0m9 0h0m-41 1h0m1 0h0m2 0h0m10 0h0m2 0h0m13 0h0m6 0h0m7 0h0m-51 1h0m12 0h0m4 0h0m0 0h0m7 0h0m7 0h0m2 0h0m-32 1h0m5 0h0m1 0h0m4 0h0m0 0h0m0 0h0m2 0h0m2 0h0m9 0h0m0 0h0m5 0h0m1 0h0m3 0h0m4 0h0m1 0h0m7 0h0m6 0h0m-45 1h0m4 0h0m1 0h0m0 0h0m8 0h0m5 0h0m4 0h0m10 0h0m-20 1h0m2 0h0m12 0h0m2 0h0m1 0h0m-37 1h0m10 0h0m3 0h0m8 0h0m14 0h0m-34 1h0m1 0h0m11 0h0m5 0h0m5 0h0m1 0h0m3 0h0m0 0h0m1 0h0m7 0h0m3 0h0m6 0h0m-52 1h0m4 0h0m3 0h0m12 0h0m2 0h0m3 0h0m10 0h0m5 0h0m7 0h0m-58 1h0m24 0h0m3 0h0m6 0h0m2 0h0m8 0h0m9 0h0m1 0h0m2 0h0m-34 1h0m25 0h0m7 0h0m2 0h0m2 0h0m-41 1h0m16 0h0m4 0h0m1 0h0m1 0h0m1 0h0m2 0h0m0 0h0m2 0h0m6 0h0m23 0h0m-60 1h0m2 0h0m6 0h0m7 0h0m5 0h0m4 0h0m2 0h0m7 0h0m8 0h0m4 0h0m4 0h0m-55 1h0m18 0h0m0 0h0m3 0h0m7 0h0m17 0h0m1 0h0m3 0h0m6 0h0m2 0h0m-44 1h0m3 0h0m4 0h0m1 0h0m4 0h0m9 0h0m5 0h0m5 0h0m5 0h0m1 0h0m-46 1h0m30 0h0m0 0h0m-46 1h0m21 0h0m1 0h0m2 0h0m6 0h0m3 0h0m0 0h0m2 0h0m11 0h0m3 0h0m19 0h0m-56 1h0m2 0h0m9 0h0m5 0h0m1 0h0m8 0h0m5 0h0m3 0h0m10 0h0m1 0h0m5 0h0m-45 1h0m2 0h0m7 0h0m3 0h0m20 0h0m0 0h0m16 0h0m-22 1h0m4 0h0m-30 1h0m1 0h0m13 0h0m6 0h0m4 0h0m6 0h0m1 0h0m2 0h0m-42 1h0m2 0h0m1 0h0m13 0h0m5 0h0m3 0h0m17 0h0m-39 1h0m12 0h0m3 0h0m1 0h0m5 0h0m2 0h0m5 0h0m12 0h0m-32 1h0m12 0h0m2 0h0m2 0h0m16 0h0m-30 1h0m3 0h0m3 0h0m5 0h0m2 0h0m4 0h0m6 0h0m1 0h0m0 0h0m4 0h0m3 0h0m-28 1h0m1 0h0m1 0h0m5 0h0m7 0h0m1 0h0m-18 1h0m0 0h0m10 0h0m5 0h0m9 0h0m-35 1h0m2 0h0m4 0h0m10 0h0m1 0h0m6 0h0m9 0h0m7 0h0m2 0h0m-31 1h0m1 0h0m4 0h0m9 0h0m2 0h0m0 0h0m2 0h0m1 0h0m3 0h0m4 0h0m1 0h0m4 0h0m1 0h0m-36 1h0m3 0h0m2 0h0m5 0h0m2 0h0m7 0h0m1 0h0m0 0h0m9 0h0m6 0h0m-34 1h0m5 0h0m6 0h0m-1 1h0m13 0h0m-26 1h0m7 0h0m11 0h0m-16 1h0m8 0h0m1 0h0m2 0h0m2 1h0m-27 1h0m13 0h0m14 0h0m0 0h0m4 0h0m2 0h0m2 0h0m-21 1h0m3 0h0m2 0h0m9 0h0m1 0h0m13 1h0m-35 1h0m25 1h0m-21 1h0m15 0h0m-19 1h0m16 0h0m2 0h0m-3 1h0m-4 2h0m-4 2h0" stroke="#17becf" stroke-width="2.70" stroke-linecap="square" fill="none" transform="scale(0.5)"/>
<path d="M950 572h0m-8 7h0m18 0h0m-1 2h0m-23 2h0m6 0h0m10 0h0m12 1h0m-26 1h0m5 0h0m18 1h0m0 2h0m-40 1h0m12 0h0m13 0h0m7 0h0m-53 1h0m21 1h0m10 0h0m5 0h0m0 1h0m-3 1h0m0 0h0m14 0h0m-12 1h0m9 0h0m14 0h0m6 1h0m4 0h0m-14 1h0m8 0h0m-23 1h0m15 0h0m-10 1h0m5 1h0m3 0h0m1 1h0m-33 1h0m8 0h0m5 0h0m10 0h0m8 0h0m12 0h0m2 0h0m-36 2h0m10 0h0m6 0h0m2 0h0m-18 1h0m3 0h0m9 0h0m10 0h0m2 1h0m1 0h0m-17 1h0m23 0h0m-24 1h0m1 0h0m25 1h0m0 0h0m-38 1h0m27 0h0m6 0h0m11 0h0m-28 1h0m9 1h0m2 0h0m-21 1h0m10 1h0m2 0h0m-17 1h0m13 0h0m9 0h0m5 0h0m-62 1h0m47 1h0m16 0h0m4 3h0m-33 11h0m-40 21h0" stroke="#ff7f0e" stroke-width="2.70" stroke-linecap="square" fill="none" transform="scale(0.5)"/>
</g>
<text x="6.00" y="365.50" font-size="10.6" fill="#000" font-weight="bold" textLength="7.60" lengthAdjust="spacingAndGlyphs" stroke="#000" stroke-width="0.45">C</text>
<rect x="68.60" y="434.30" width="15.40" height="4.27" fill="#e28496" stroke="#d9687f" stroke-width="0.6"/>
<line x1="76.30" y1="424.62" x2="76.30" y2="442.12" stroke="#c8143c" stroke-width="1.0"/>
<line x1="72.30" y1="424.62" x2="80.30" y2="424.62" stroke="#c8143c" stroke-width="1.0"/>
<line x1="72.30" y1="442.12" x2="80.30" y2="442.12" stroke="#c8143c" stroke-width="1.0"/>
<circle cx="76.30" cy="429.60" r="1.25" fill="#c8143c"/>
<circle cx="73.10" cy="435.58" r="1.25" fill="#c8143c"/>
<circle cx="79.20" cy="435.44" r="1.25" fill="#c8143c"/>
<rect x="93.10" y="392.31" width="15.10" height="46.26" fill="#8aa8c6" stroke="#7898bb" stroke-width="0.6"/>
<line x1="100.65" y1="381.21" x2="100.65" y2="402.84" stroke="#1f558f" stroke-width="1.0"/>
<line x1="96.65" y1="381.21" x2="104.65" y2="381.21" stroke="#1f558f" stroke-width="1.0"/>
<line x1="96.65" y1="402.84" x2="104.65" y2="402.84" stroke="#1f558f" stroke-width="1.0"/>
<circle cx="97.55" cy="388.75" r="1.25" fill="#1f558f"/>
<circle cx="103.05" cy="389.89" r="1.25" fill="#1f558f"/>
<circle cx="100.65" cy="396.29" r="1.25" fill="#1f558f"/>
<line x1="60.00" y1="438.57" x2="117.00" y2="438.57" stroke="#1a1a1a" stroke-width="1.3" stroke-dasharray="2.6 0.5"/>
<line x1="60.00" y1="366.90" x2="60.00" y2="453.60" stroke="#111" stroke-width="1.5"/>
<line x1="59.25" y1="452.80" x2="117.00" y2="452.80" stroke="#111" stroke-width="1.5"/>
<text x="55.40" y="455.90" font-size="8.8" fill="#111" text-anchor="end" textLength="15.64" lengthAdjust="spacingAndGlyphs" stroke="#111" stroke-width="0.18">−0.1</text>
<text x="55.40" y="441.67" font-size="8.8" fill="#111" text-anchor="end" textLength="11.01" lengthAdjust="spacingAndGlyphs" stroke="#111" stroke-width="0.18">0.0</text>
<text x="55.40" y="427.43" font-size="8.8" fill="#111" text-anchor="end" textLength="11.01" lengthAdjust="spacingAndGlyphs" stroke="#111" stroke-width="0.18">0.1</text>
<text x="55.40" y="413.20" font-size="8.8" fill="#111" text-anchor="end" textLength="11.01" lengthAdjust="spacingAndGlyphs" stroke="#111" stroke-width="0.18">0.2</text>
<text x="55.40" y="398.97" font-size="8.8" fill="#111" text-anchor="end" textLength="11.01" lengthAdjust="spacingAndGlyphs" stroke="#111" stroke-width="0.18">0.3</text>
<text x="55.40" y="384.73" font-size="8.8" fill="#111" text-anchor="end" textLength="11.01" lengthAdjust="spacingAndGlyphs" stroke="#111" stroke-width="0.18">0.4</text>
<text x="55.40" y="370.50" font-size="8.8" fill="#111" text-anchor="end" textLength="11.01" lengthAdjust="spacingAndGlyphs" stroke="#111" stroke-width="0.18">0.5</text>
<path d="M57.00 452.80H60.0M58.10 449.24H60.0M58.10 445.68H60.0M58.10 442.12H60.0M57.00 438.57H60.0M58.10 435.01H60.0M58.10 431.45H60.0M58.10 427.89H60.0M57.00 424.33H60.0M58.10 420.77H60.0M58.10 417.22H60.0M58.10 413.66H60.0M57.00 410.10H60.0M58.10 406.54H60.0M58.10 402.98H60.0M58.10 399.42H60.0M57.00 395.87H60.0M58.10 392.31H60.0M58.10 388.75H60.0M58.10 385.19H60.0M57.00 381.63H60.0M58.10 378.07H60.0M58.10 374.52H60.0M58.10 370.96H60.0M57.00 367.40H60.0" stroke="#111" stroke-width="0.8"/>
<line x1="76.30" y1="452.80" x2="76.30" y2="456.40" stroke="#111" stroke-width="1.1"/>
<text x="0.00" y="0.00" font-size="8.6" fill="#111" text-anchor="end" textLength="44.20" lengthAdjust="spacingAndGlyphs" transform="translate(78.30,462.80) rotate(-45)" stroke="#111" stroke-width="0.18">0.1% DMSO</text>
<line x1="100.65" y1="452.80" x2="100.65" y2="456.40" stroke="#111" stroke-width="1.1"/>
<text x="0.00" y="0.00" font-size="8.6" fill="#111" text-anchor="end" textLength="59.30" lengthAdjust="spacingAndGlyphs" transform="translate(102.65,462.80) rotate(-45)" stroke="#111" stroke-width="0.18">300nM duvelisib</text>
<line x1="77.10" y1="365.50" x2="99.80" y2="365.50" stroke="#333" stroke-width="1.5"/>
<text x="88.45" y="367.10" font-size="10.8" fill="#000" text-anchor="middle">**</text>
<text x="0.00" y="0.00" font-size="9.3" fill="#111" text-anchor="middle" textLength="101.70" lengthAdjust="spacingAndGlyphs" transform="translate(33.70,409.60) rotate(-90)" stroke="#111" stroke-width="0.15">Cluster 1: CD8-CM log10 scale</text>
<rect x="196.25" y="431.32" width="15.00" height="4.68" fill="#e28496" stroke="#d9687f" stroke-width="0.6"/>
<line x1="203.75" y1="422.40" x2="203.75" y2="437.27" stroke="#c8143c" stroke-width="1.0"/>
<line x1="199.75" y1="422.40" x2="207.75" y2="422.40" stroke="#c8143c" stroke-width="1.0"/>
<line x1="199.75" y1="437.27" x2="207.75" y2="437.27" stroke="#c8143c" stroke-width="1.0"/>
<circle cx="201.25" cy="428.01" r="1.25" fill="#c8143c"/>
<circle cx="206.75" cy="428.77" r="1.25" fill="#c8143c"/>
<circle cx="203.75" cy="433.28" r="1.25" fill="#c8143c"/>
<rect x="220.50" y="398.18" width="15.00" height="37.82" fill="#8aa8c6" stroke="#7898bb" stroke-width="0.6"/>
<line x1="228.00" y1="381.60" x2="228.00" y2="413.05" stroke="#1f558f" stroke-width="1.0"/>
<line x1="224.00" y1="381.60" x2="232.00" y2="381.60" stroke="#1f558f" stroke-width="1.0"/>
<line x1="224.00" y1="413.05" x2="232.00" y2="413.05" stroke="#1f558f" stroke-width="1.0"/>
<circle cx="228.00" cy="390.52" r="1.25" fill="#1f558f"/>
<circle cx="228.00" cy="398.18" r="1.25" fill="#1f558f"/>
<circle cx="228.00" cy="403.27" r="1.25" fill="#1f558f"/>
<line x1="187.50" y1="436.00" x2="243.75" y2="436.00" stroke="#1a1a1a" stroke-width="1.3" stroke-dasharray="2.6 0.5"/>
<line x1="187.50" y1="367.50" x2="187.50" y2="453.80" stroke="#111" stroke-width="1.5"/>
<line x1="186.75" y1="453.00" x2="243.75" y2="453.00" stroke="#111" stroke-width="1.5"/>
<text x="182.90" y="456.10" font-size="8.8" fill="#111" text-anchor="end" textLength="15.64" lengthAdjust="spacingAndGlyphs" stroke="#111" stroke-width="0.18">−0.2</text>
<text x="182.90" y="439.10" font-size="8.8" fill="#111" text-anchor="end" textLength="11.01" lengthAdjust="spacingAndGlyphs" stroke="#111" stroke-width="0.18">0.0</text>
<text x="182.90" y="422.10" font-size="8.8" fill="#111" text-anchor="end" textLength="11.01" lengthAdjust="spacingAndGlyphs" stroke="#111" stroke-width="0.18">0.2</text>
<text x="182.90" y="405.10" font-size="8.8" fill="#111" text-anchor="end" textLength="11.01" lengthAdjust="spacingAndGlyphs" stroke="#111" stroke-width="0.18">0.4</text>
<text x="182.90" y="388.10" font-size="8.8" fill="#111" text-anchor="end" textLength="11.01" lengthAdjust="spacingAndGlyphs" stroke="#111" stroke-width="0.18">0.6</text>
<text x="182.90" y="371.10" font-size="8.8" fill="#111" text-anchor="end" textLength="11.01" lengthAdjust="spacingAndGlyphs" stroke="#111" stroke-width="0.18">0.8</text>
<path d="M184.50 453.00H187.5M185.60 448.75H187.5M185.60 444.50H187.5M185.60 440.25H187.5M184.50 436.00H187.5M185.60 431.75H187.5M185.60 427.50H187.5M185.60 423.25H187.5M184.50 419.00H187.5M185.60 414.75H187.5M185.60 410.50H187.5M185.60 406.25H187.5M184.50 402.00H187.5M185.60 397.75H187.5M185.60 393.50H187.5M185.60 389.25H187.5M184.50 385.00H187.5M185.60 380.75H187.5M185.60 376.50H187.5M185.60 372.25H187.5M184.50 368.00H187.5" stroke="#111" stroke-width="0.8"/>
<line x1="203.75" y1="453.00" x2="203.75" y2="456.60" stroke="#111" stroke-width="1.1"/>
<text x="0.00" y="0.00" font-size="8.6" fill="#111" text-anchor="end" textLength="44.20" lengthAdjust="spacingAndGlyphs" transform="translate(205.75,463.00) rotate(-45)" stroke="#111" stroke-width="0.18">0.1% DMSO</text>
<line x1="228.00" y1="453.00" x2="228.00" y2="456.60" stroke="#111" stroke-width="1.1"/>
<text x="0.00" y="0.00" font-size="8.6" fill="#111" text-anchor="end" textLength="59.30" lengthAdjust="spacingAndGlyphs" transform="translate(230.00,463.00) rotate(-45)" stroke="#111" stroke-width="0.18">300nM duvelisib</text>
<line x1="204.25" y1="366.25" x2="227.50" y2="366.25" stroke="#333" stroke-width="1.5"/>
<text x="215.88" y="367.85" font-size="10.8" fill="#000" text-anchor="middle">**</text>
<text x="0.00" y="0.00" font-size="9.3" fill="#111" text-anchor="middle" textLength="98.25" lengthAdjust="spacingAndGlyphs" transform="translate(160.95,409.60) rotate(-90)" stroke="#111" stroke-width="0.15">Cluster 2: CD8– N log10 scale</text>
<rect x="330.00" y="400.54" width="15.00" height="52.46" fill="#e28496" stroke="#d9687f" stroke-width="0.6"/>
<line x1="337.50" y1="394.52" x2="337.50" y2="404.27" stroke="#c8143c" stroke-width="1.0"/>
<line x1="333.50" y1="394.52" x2="341.50" y2="394.52" stroke="#c8143c" stroke-width="1.0"/>
<line x1="333.50" y1="404.27" x2="341.50" y2="404.27" stroke="#c8143c" stroke-width="1.0"/>
<circle cx="337.50" cy="397.39" r="1.25" fill="#c8143c"/>
<circle cx="335.10" cy="401.00" r="1.25" fill="#c8143c"/>
<circle cx="340.20" cy="401.00" r="1.25" fill="#c8143c"/>
<rect x="355.00" y="422.04" width="14.80" height="30.96" fill="#8aa8c6" stroke="#7898bb" stroke-width="0.6"/>
<line x1="362.40" y1="410.57" x2="362.40" y2="432.02" stroke="#1f558f" stroke-width="1.0"/>
<line x1="358.40" y1="410.57" x2="366.40" y2="410.57" stroke="#1f558f" stroke-width="1.0"/>
<line x1="358.40" y1="432.02" x2="366.40" y2="432.02" stroke="#1f558f" stroke-width="1.0"/>
<circle cx="362.40" cy="417.45" r="1.25" fill="#1f558f"/>
<circle cx="362.40" cy="420.61" r="1.25" fill="#1f558f"/>
<circle cx="362.40" cy="426.05" r="1.25" fill="#1f558f"/>
<line x1="320.75" y1="366.50" x2="320.75" y2="453.80" stroke="#111" stroke-width="1.5"/>
<line x1="320.00" y1="453.00" x2="377.50" y2="453.00" stroke="#111" stroke-width="1.5"/>
<text x="316.15" y="456.10" font-size="8.8" fill="#111" text-anchor="end" textLength="11.01" lengthAdjust="spacingAndGlyphs" stroke="#111" stroke-width="0.18">0.0</text>
<text x="316.15" y="427.43" font-size="8.8" fill="#111" text-anchor="end" textLength="11.01" lengthAdjust="spacingAndGlyphs" stroke="#111" stroke-width="0.18">0.5</text>
<text x="316.15" y="398.77" font-size="8.8" fill="#111" text-anchor="end" textLength="11.01" lengthAdjust="spacingAndGlyphs" stroke="#111" stroke-width="0.18">1.0</text>
<text x="316.15" y="370.10" font-size="8.8" fill="#111" text-anchor="end" textLength="11.01" lengthAdjust="spacingAndGlyphs" stroke="#111" stroke-width="0.18">1.5</text>
<path d="M317.75 453.00H320.75M318.85 445.83H320.75M318.85 438.67H320.75M318.85 431.50H320.75M317.75 424.33H320.75M318.85 417.17H320.75M318.85 410.00H320.75M318.85 402.83H320.75M317.75 395.67H320.75M318.85 388.50H320.75M318.85 381.33H320.75M318.85 374.17H320.75M317.75 367.00H320.75" stroke="#111" stroke-width="0.8"/>
<line x1="337.50" y1="453.00" x2="337.50" y2="456.60" stroke="#111" stroke-width="1.1"/>
<text x="0.00" y="0.00" font-size="8.6" fill="#111" text-anchor="end" textLength="44.20" lengthAdjust="spacingAndGlyphs" transform="translate(339.50,463.00) rotate(-45)" stroke="#111" stroke-width="0.18">0.1% DMSO</text>
<line x1="362.40" y1="453.00" x2="362.40" y2="456.60" stroke="#111" stroke-width="1.1"/>
<text x="0.00" y="0.00" font-size="8.6" fill="#111" text-anchor="end" textLength="59.30" lengthAdjust="spacingAndGlyphs" transform="translate(364.40,463.00) rotate(-45)" stroke="#111" stroke-width="0.18">300nM duvelisib</text>
<line x1="338.30" y1="366.00" x2="361.70" y2="366.00" stroke="#333" stroke-width="1.5"/>
<text x="350.00" y="367.60" font-size="10.8" fill="#000" text-anchor="middle">**</text>
<text x="0.00" y="0.00" font-size="9.3" fill="#111" text-anchor="middle" textLength="78.75" lengthAdjust="spacingAndGlyphs" transform="translate(289.80,409.40) rotate(-90)" stroke="#111" stroke-width="0.15">Cluster 3: Th2 - PD1mid</text>
<text x="0.00" y="0.00" font-size="9.3" fill="#111" text-anchor="middle" textLength="36.25" lengthAdjust="spacingAndGlyphs" transform="translate(301.20,409.40) rotate(-90)" stroke="#111" stroke-width="0.15">log10 scale</text>
<rect x="455.75" y="426.98" width="15.00" height="5.45" fill="#e28496" stroke="#d9687f" stroke-width="0.6"/>
<line x1="463.25" y1="417.61" x2="463.25" y2="434.62" stroke="#c8143c" stroke-width="1.0"/>
<line x1="459.25" y1="417.61" x2="467.25" y2="417.61" stroke="#c8143c" stroke-width="1.0"/>
<line x1="459.25" y1="434.62" x2="467.25" y2="434.62" stroke="#c8143c" stroke-width="1.0"/>
<circle cx="463.25" cy="421.75" r="1.25" fill="#c8143c"/>
<circle cx="460.00" cy="428.29" r="1.25" fill="#c8143c"/>
<circle cx="465.00" cy="428.07" r="1.25" fill="#c8143c"/>
<rect x="480.75" y="390.34" width="15.00" height="42.10" fill="#8aa8c6" stroke="#7898bb" stroke-width="0.6"/>
<line x1="488.25" y1="381.83" x2="488.25" y2="397.54" stroke="#1f558f" stroke-width="1.0"/>
<line x1="484.25" y1="381.83" x2="492.25" y2="381.83" stroke="#1f558f" stroke-width="1.0"/>
<line x1="484.25" y1="397.54" x2="492.25" y2="397.54" stroke="#1f558f" stroke-width="1.0"/>
<circle cx="485.50" cy="386.19" r="1.25" fill="#1f558f"/>
<circle cx="491.25" cy="386.19" r="1.25" fill="#1f558f"/>
<circle cx="488.25" cy="392.52" r="1.25" fill="#1f558f"/>
<line x1="447.00" y1="432.44" x2="505.00" y2="432.44" stroke="#1a1a1a" stroke-width="1.3" stroke-dasharray="2.6 0.5"/>
<line x1="447.00" y1="366.50" x2="447.00" y2="455.05" stroke="#111" stroke-width="1.5"/>
<line x1="446.25" y1="454.25" x2="505.00" y2="454.25" stroke="#111" stroke-width="1.5"/>
<text x="442.40" y="457.35" font-size="8.8" fill="#111" text-anchor="end" textLength="15.64" lengthAdjust="spacingAndGlyphs" stroke="#111" stroke-width="0.18">−0.1</text>
<text x="442.40" y="435.54" font-size="8.8" fill="#111" text-anchor="end" textLength="11.01" lengthAdjust="spacingAndGlyphs" stroke="#111" stroke-width="0.18">0.0</text>
<text x="442.40" y="413.73" font-size="8.8" fill="#111" text-anchor="end" textLength="11.01" lengthAdjust="spacingAndGlyphs" stroke="#111" stroke-width="0.18">0.1</text>
<text x="442.40" y="391.91" font-size="8.8" fill="#111" text-anchor="end" textLength="11.01" lengthAdjust="spacingAndGlyphs" stroke="#111" stroke-width="0.18">0.2</text>
<text x="442.40" y="370.10" font-size="8.8" fill="#111" text-anchor="end" textLength="11.01" lengthAdjust="spacingAndGlyphs" stroke="#111" stroke-width="0.18">0.3</text>
<path d="M444.00 454.25H447.0M445.10 448.80H447.0M445.10 443.34H447.0M445.10 437.89H447.0M444.00 432.44H447.0M445.10 426.98H447.0M445.10 421.53H447.0M445.10 416.08H447.0M444.00 410.62H447.0M445.10 405.17H447.0M445.10 399.72H447.0M445.10 394.27H447.0M444.00 388.81H447.0M445.10 383.36H447.0M445.10 377.91H447.0M445.10 372.45H447.0M444.00 367.00H447.0" stroke="#111" stroke-width="0.8"/>
<line x1="463.25" y1="454.25" x2="463.25" y2="457.85" stroke="#111" stroke-width="1.1"/>
<text x="0.00" y="0.00" font-size="8.6" fill="#111" text-anchor="end" textLength="44.20" lengthAdjust="spacingAndGlyphs" transform="translate(465.25,464.25) rotate(-45)" stroke="#111" stroke-width="0.18">0.1% DMSO</text>
<line x1="488.25" y1="454.25" x2="488.25" y2="457.85" stroke="#111" stroke-width="1.1"/>
<text x="0.00" y="0.00" font-size="8.6" fill="#111" text-anchor="end" textLength="59.30" lengthAdjust="spacingAndGlyphs" transform="translate(490.25,464.25) rotate(-45)" stroke="#111" stroke-width="0.18">300nM duvelisib</text>
<line x1="464.25" y1="365.00" x2="487.50" y2="365.00" stroke="#333" stroke-width="1.5"/>
<text x="475.88" y="366.60" font-size="10.8" fill="#000" text-anchor="middle">**</text>
<text x="0.00" y="0.00" font-size="9.3" fill="#111" text-anchor="middle" textLength="97.00" lengthAdjust="spacingAndGlyphs" transform="translate(411.20,411.50) rotate(-90)" stroke="#111" stroke-width="0.15">Cluster 4: CD8 CCR6+CCR4+</text>
<text x="0.00" y="0.00" font-size="9.3" fill="#111" text-anchor="middle" textLength="67.50" lengthAdjust="spacingAndGlyphs" transform="translate(423.10,410.00) rotate(-90)" stroke="#111" stroke-width="0.15">CXCR3+log10 scale</text>
<rect x="67.00" y="558.16" width="15.00" height="55.09" fill="#e28496" stroke="#d9687f" stroke-width="0.6"/>
<line x1="74.50" y1="542.51" x2="74.50" y2="572.52" stroke="#c8143c" stroke-width="1.0"/>
<line x1="70.50" y1="542.51" x2="78.50" y2="542.51" stroke="#c8143c" stroke-width="1.0"/>
<line x1="70.50" y1="572.52" x2="78.50" y2="572.52" stroke="#c8143c" stroke-width="1.0"/>
<circle cx="71.75" cy="554.30" r="1.25" fill="#c8143c"/>
<circle cx="76.75" cy="554.30" r="1.25" fill="#c8143c"/>
<circle cx="74.50" cy="564.59" r="1.25" fill="#c8143c"/>
<rect x="91.25" y="597.60" width="15.00" height="15.65" fill="#8aa8c6" stroke="#7898bb" stroke-width="0.6"/>
<line x1="98.75" y1="586.67" x2="98.75" y2="606.39" stroke="#1f558f" stroke-width="1.0"/>
<line x1="94.75" y1="586.67" x2="102.75" y2="586.67" stroke="#1f558f" stroke-width="1.0"/>
<line x1="94.75" y1="606.39" x2="102.75" y2="606.39" stroke="#1f558f" stroke-width="1.0"/>
<circle cx="95.75" cy="593.74" r="1.25" fill="#1f558f"/>
<circle cx="101.25" cy="595.03" r="1.25" fill="#1f558f"/>
<circle cx="98.75" cy="600.82" r="1.25" fill="#1f558f"/>
<line x1="58.00" y1="527.00" x2="58.00" y2="614.05" stroke="#111" stroke-width="1.5"/>
<line x1="57.25" y1="613.25" x2="114.50" y2="613.25" stroke="#111" stroke-width="1.5"/>
<text x="53.40" y="616.35" font-size="8.8" fill="#111" text-anchor="end" textLength="11.01" lengthAdjust="spacingAndGlyphs" stroke="#111" stroke-width="0.18">0.0</text>
<text x="53.40" y="594.91" font-size="8.8" fill="#111" text-anchor="end" textLength="11.01" lengthAdjust="spacingAndGlyphs" stroke="#111" stroke-width="0.18">0.1</text>
<text x="53.40" y="573.48" font-size="8.8" fill="#111" text-anchor="end" textLength="11.01" lengthAdjust="spacingAndGlyphs" stroke="#111" stroke-width="0.18">0.2</text>
<text x="53.40" y="552.04" font-size="8.8" fill="#111" text-anchor="end" textLength="11.01" lengthAdjust="spacingAndGlyphs" stroke="#111" stroke-width="0.18">0.3</text>
<text x="53.40" y="530.60" font-size="8.8" fill="#111" text-anchor="end" textLength="11.01" lengthAdjust="spacingAndGlyphs" stroke="#111" stroke-width="0.18">0.4</text>
<path d="M55.00 613.25H58.0M56.10 607.89H58.0M56.10 602.53H58.0M56.10 597.17H58.0M55.00 591.81H58.0M56.10 586.45H58.0M56.10 581.09H58.0M56.10 575.73H58.0M55.00 570.38H58.0M56.10 565.02H58.0M56.10 559.66H58.0M56.10 554.30H58.0M55.00 548.94H58.0M56.10 543.58H58.0M56.10 538.22H58.0M56.10 532.86H58.0M55.00 527.50H58.0" stroke="#111" stroke-width="0.8"/>
<line x1="74.50" y1="613.25" x2="74.50" y2="616.85" stroke="#111" stroke-width="1.1"/>
<text x="0.00" y="0.00" font-size="8.6" fill="#111" text-anchor="end" textLength="44.20" lengthAdjust="spacingAndGlyphs" transform="translate(76.50,623.25) rotate(-45)" stroke="#111" stroke-width="0.18">0.1% DMSO</text>
<line x1="98.75" y1="613.25" x2="98.75" y2="616.85" stroke="#111" stroke-width="1.1"/>
<text x="0.00" y="0.00" font-size="8.6" fill="#111" text-anchor="end" textLength="59.30" lengthAdjust="spacingAndGlyphs" transform="translate(100.75,623.25) rotate(-45)" stroke="#111" stroke-width="0.18">300nM duvelisib</text>
<line x1="75.00" y1="526.25" x2="98.00" y2="526.25" stroke="#333" stroke-width="1.5"/>
<text x="86.50" y="527.85" font-size="10.8" fill="#000" text-anchor="middle">**</text>
<text x="0.00" y="0.00" font-size="9.3" fill="#111" text-anchor="middle" textLength="85.50" lengthAdjust="spacingAndGlyphs" transform="translate(25.95,570.25) rotate(-90)" stroke="#111" stroke-width="0.15">Cluster 5: Th2 - exhausted</text>
<text x="0.00" y="0.00" font-size="9.3" fill="#111" text-anchor="middle" textLength="37.50" lengthAdjust="spacingAndGlyphs" transform="translate(37.70,570.00) rotate(-90)" stroke="#111" stroke-width="0.15">log10 scale</text>
<rect x="198.75" y="594.19" width="15.00" height="1.71" fill="#e28496" stroke="#d9687f" stroke-width="0.6"/>
<line x1="206.25" y1="585.64" x2="206.25" y2="600.35" stroke="#c8143c" stroke-width="1.0"/>
<line x1="202.25" y1="585.64" x2="210.25" y2="585.64" stroke="#c8143c" stroke-width="1.0"/>
<line x1="202.25" y1="600.35" x2="210.25" y2="600.35" stroke="#c8143c" stroke-width="1.0"/>
<circle cx="206.25" cy="589.74" r="1.25" fill="#c8143c"/>
<circle cx="203.75" cy="594.53" r="1.25" fill="#c8143c"/>
<circle cx="209.25" cy="594.53" r="1.25" fill="#c8143c"/>
<rect x="223.25" y="551.44" width="15.00" height="44.46" fill="#8aa8c6" stroke="#7898bb" stroke-width="0.6"/>
<line x1="230.75" y1="537.76" x2="230.75" y2="565.12" stroke="#1f558f" stroke-width="1.0"/>
<line x1="226.75" y1="537.76" x2="234.75" y2="537.76" stroke="#1f558f" stroke-width="1.0"/>
<line x1="226.75" y1="565.12" x2="234.75" y2="565.12" stroke="#1f558f" stroke-width="1.0"/>
<circle cx="228.25" cy="548.02" r="1.25" fill="#1f558f"/>
<circle cx="233.25" cy="548.02" r="1.25" fill="#1f558f"/>
<circle cx="230.75" cy="556.91" r="1.25" fill="#1f558f"/>
<line x1="190.00" y1="595.90" x2="247.00" y2="595.90" stroke="#1a1a1a" stroke-width="1.3" stroke-dasharray="2.6 0.5"/>
<line x1="190.00" y1="527.00" x2="190.00" y2="613.80" stroke="#111" stroke-width="1.5"/>
<line x1="189.25" y1="613.00" x2="247.00" y2="613.00" stroke="#111" stroke-width="1.5"/>
<text x="185.40" y="616.10" font-size="8.8" fill="#111" text-anchor="end" textLength="20.04" lengthAdjust="spacingAndGlyphs" stroke="#111" stroke-width="0.18">−0.05</text>
<text x="185.40" y="599.00" font-size="8.8" fill="#111" text-anchor="end" textLength="15.41" lengthAdjust="spacingAndGlyphs" stroke="#111" stroke-width="0.18">0.00</text>
<text x="185.40" y="581.90" font-size="8.8" fill="#111" text-anchor="end" textLength="15.41" lengthAdjust="spacingAndGlyphs" stroke="#111" stroke-width="0.18">0.05</text>
<text x="185.40" y="564.80" font-size="8.8" fill="#111" text-anchor="end" textLength="15.41" lengthAdjust="spacingAndGlyphs" stroke="#111" stroke-width="0.18">0.10</text>
<text x="185.40" y="547.70" font-size="8.8" fill="#111" text-anchor="end" textLength="15.41" lengthAdjust="spacingAndGlyphs" stroke="#111" stroke-width="0.18">0.15</text>
<text x="185.40" y="530.60" font-size="8.8" fill="#111" text-anchor="end" textLength="15.41" lengthAdjust="spacingAndGlyphs" stroke="#111" stroke-width="0.18">0.20</text>
<path d="M187.00 613.00H190.0M188.10 608.73H190.0M188.10 604.45H190.0M188.10 600.17H190.0M187.00 595.90H190.0M188.10 591.62H190.0M188.10 587.35H190.0M188.10 583.07H190.0M187.00 578.80H190.0M188.10 574.52H190.0M188.10 570.25H190.0M188.10 565.97H190.0M187.00 561.70H190.0M188.10 557.43H190.0M188.10 553.15H190.0M188.10 548.88H190.0M187.00 544.60H190.0M188.10 540.33H190.0M188.10 536.05H190.0M188.10 531.77H190.0M187.00 527.50H190.0" stroke="#111" stroke-width="0.8"/>
<line x1="206.25" y1="613.00" x2="206.25" y2="616.60" stroke="#111" stroke-width="1.1"/>
<text x="0.00" y="0.00" font-size="8.6" fill="#111" text-anchor="end" textLength="44.20" lengthAdjust="spacingAndGlyphs" transform="translate(208.25,623.00) rotate(-45)" stroke="#111" stroke-width="0.18">0.1% DMSO</text>
<line x1="230.75" y1="613.00" x2="230.75" y2="616.60" stroke="#111" stroke-width="1.1"/>
<text x="0.00" y="0.00" font-size="8.6" fill="#111" text-anchor="end" textLength="59.30" lengthAdjust="spacingAndGlyphs" transform="translate(232.75,623.00) rotate(-45)" stroke="#111" stroke-width="0.18">300nM duvelisib</text>
<line x1="207.00" y1="526.25" x2="230.00" y2="526.25" stroke="#333" stroke-width="1.5"/>
<text x="218.50" y="527.85" font-size="10.8" fill="#000" text-anchor="middle">**</text>
<text x="0.00" y="0.00" font-size="9.3" fill="#111" text-anchor="middle" textLength="67.50" lengthAdjust="spacingAndGlyphs" transform="translate(152.30,570.00) rotate(-90)" stroke="#111" stroke-width="0.15">Cluster 6: CD8 TSCM</text>
<text x="0.00" y="0.00" font-size="9.3" fill="#111" text-anchor="middle" textLength="37.50" lengthAdjust="spacingAndGlyphs" transform="translate(163.95,570.00) rotate(-90)" stroke="#111" stroke-width="0.15">log10 scale</text>
<rect x="332.50" y="572.09" width="15.00" height="25.16" fill="#e28496" stroke="#d9687f" stroke-width="0.6"/>
<line x1="340.00" y1="545.40" x2="340.00" y2="597.25" stroke="#c8143c" stroke-width="1.0"/>
<line x1="336.00" y1="545.40" x2="344.00" y2="545.40" stroke="#c8143c" stroke-width="1.0"/>
<line x1="336.00" y1="597.25" x2="344.00" y2="597.25" stroke="#c8143c" stroke-width="1.0"/>
<circle cx="337.00" cy="564.27" r="1.25" fill="#c8143c"/>
<circle cx="342.50" cy="565.80" r="1.25" fill="#c8143c"/>
<circle cx="340.00" cy="583.31" r="1.25" fill="#c8143c"/>
<rect x="357.00" y="595.55" width="15.00" height="1.70" fill="#8aa8c6" stroke="#7898bb" stroke-width="0.6"/>
<line x1="364.50" y1="591.30" x2="364.50" y2="597.25" stroke="#1f558f" stroke-width="1.0"/>
<line x1="360.50" y1="591.30" x2="368.50" y2="591.30" stroke="#1f558f" stroke-width="1.0"/>
<line x1="360.50" y1="597.25" x2="368.50" y2="597.25" stroke="#1f558f" stroke-width="1.0"/>
<circle cx="359.25" cy="595.55" r="1.25" fill="#1f558f"/>
<circle cx="369.25" cy="595.55" r="1.25" fill="#1f558f"/>
<circle cx="364.50" cy="593.85" r="1.25" fill="#1f558f"/>
<line x1="323.25" y1="597.25" x2="381.25" y2="597.25" stroke="#1a1a1a" stroke-width="1.3" stroke-dasharray="2.6 0.5"/>
<line x1="323.25" y1="528.75" x2="323.25" y2="615.05" stroke="#111" stroke-width="1.5"/>
<line x1="322.50" y1="614.25" x2="381.25" y2="614.25" stroke="#111" stroke-width="1.5"/>
<text x="318.65" y="617.35" font-size="8.8" fill="#111" text-anchor="end" textLength="15.64" lengthAdjust="spacingAndGlyphs" stroke="#111" stroke-width="0.18">−0.1</text>
<text x="318.65" y="600.35" font-size="8.8" fill="#111" text-anchor="end" textLength="11.01" lengthAdjust="spacingAndGlyphs" stroke="#111" stroke-width="0.18">0.0</text>
<text x="318.65" y="583.35" font-size="8.8" fill="#111" text-anchor="end" textLength="11.01" lengthAdjust="spacingAndGlyphs" stroke="#111" stroke-width="0.18">0.1</text>
<text x="318.65" y="566.35" font-size="8.8" fill="#111" text-anchor="end" textLength="11.01" lengthAdjust="spacingAndGlyphs" stroke="#111" stroke-width="0.18">0.2</text>
<text x="318.65" y="549.35" font-size="8.8" fill="#111" text-anchor="end" textLength="11.01" lengthAdjust="spacingAndGlyphs" stroke="#111" stroke-width="0.18">0.3</text>
<text x="318.65" y="532.35" font-size="8.8" fill="#111" text-anchor="end" textLength="11.01" lengthAdjust="spacingAndGlyphs" stroke="#111" stroke-width="0.18">0.4</text>
<path d="M320.25 614.25H323.25M321.35 610.00H323.25M321.35 605.75H323.25M321.35 601.50H323.25M320.25 597.25H323.25M321.35 593.00H323.25M321.35 588.75H323.25M321.35 584.50H323.25M320.25 580.25H323.25M321.35 576.00H323.25M321.35 571.75H323.25M321.35 567.50H323.25M320.25 563.25H323.25M321.35 559.00H323.25M321.35 554.75H323.25M321.35 550.50H323.25M320.25 546.25H323.25M321.35 542.00H323.25M321.35 537.75H323.25M321.35 533.50H323.25M320.25 529.25H323.25" stroke="#111" stroke-width="0.8"/>
<line x1="340.00" y1="614.25" x2="340.00" y2="617.85" stroke="#111" stroke-width="1.1"/>
<text x="0.00" y="0.00" font-size="8.6" fill="#111" text-anchor="end" textLength="44.20" lengthAdjust="spacingAndGlyphs" transform="translate(342.00,624.25) rotate(-45)" stroke="#111" stroke-width="0.18">0.1% DMSO</text>
<line x1="364.50" y1="614.25" x2="364.50" y2="617.85" stroke="#111" stroke-width="1.1"/>
<text x="0.00" y="0.00" font-size="8.6" fill="#111" text-anchor="end" textLength="59.30" lengthAdjust="spacingAndGlyphs" transform="translate(366.50,624.25) rotate(-45)" stroke="#111" stroke-width="0.18">300nM duvelisib</text>
<line x1="340.40" y1="527.80" x2="363.80" y2="527.80" stroke="#333" stroke-width="1.5"/>
<text x="351.90" y="524.00" font-size="10.4" fill="#111" text-anchor="middle" textLength="9.00" lengthAdjust="spacingAndGlyphs">ns</text>
<text x="0.00" y="0.00" font-size="9.3" fill="#111" text-anchor="middle" textLength="81.75" lengthAdjust="spacingAndGlyphs" transform="translate(289.80,571.60) rotate(-90)" stroke="#111" stroke-width="0.15">Cluster 7: exhausted Th2</text>
<text x="0.00" y="0.00" font-size="9.3" fill="#111" text-anchor="middle" textLength="37.50" lengthAdjust="spacingAndGlyphs" transform="translate(301.20,571.25) rotate(-90)" stroke="#111" stroke-width="0.15">log10 scale</text>
<rect x="457.00" y="591.20" width="15.00" height="21.80" fill="#e28496" stroke="#d9687f" stroke-width="0.6"/>
<line x1="464.50" y1="586.28" x2="464.50" y2="594.40" stroke="#c8143c" stroke-width="1.0"/>
<line x1="460.50" y1="586.28" x2="468.50" y2="586.28" stroke="#c8143c" stroke-width="1.0"/>
<line x1="460.50" y1="594.40" x2="468.50" y2="594.40" stroke="#c8143c" stroke-width="1.0"/>
<circle cx="462.50" cy="589.27" r="1.25" fill="#c8143c"/>
<circle cx="467.50" cy="591.20" r="1.25" fill="#c8143c"/>
<circle cx="464.50" cy="592.48" r="1.25" fill="#c8143c"/>
<rect x="481.75" y="568.11" width="15.00" height="44.89" fill="#8aa8c6" stroke="#7898bb" stroke-width="0.6"/>
<line x1="489.25" y1="541.39" x2="489.25" y2="593.34" stroke="#1f558f" stroke-width="1.0"/>
<line x1="485.25" y1="541.39" x2="493.25" y2="541.39" stroke="#1f558f" stroke-width="1.0"/>
<line x1="485.25" y1="593.34" x2="493.25" y2="593.34" stroke="#1f558f" stroke-width="1.0"/>
<circle cx="489.25" cy="558.07" r="1.25" fill="#1f558f"/>
<circle cx="489.25" cy="565.55" r="1.25" fill="#1f558f"/>
<circle cx="489.25" cy="578.80" r="1.25" fill="#1f558f"/>
<line x1="448.00" y1="527.00" x2="448.00" y2="613.80" stroke="#111" stroke-width="1.5"/>
<line x1="447.25" y1="613.00" x2="505.00" y2="613.00" stroke="#111" stroke-width="1.5"/>
<text x="443.40" y="616.10" font-size="8.8" fill="#111" text-anchor="end" textLength="11.01" lengthAdjust="spacingAndGlyphs" stroke="#111" stroke-width="0.18">0.0</text>
<text x="443.40" y="594.73" font-size="8.8" fill="#111" text-anchor="end" textLength="11.01" lengthAdjust="spacingAndGlyphs" stroke="#111" stroke-width="0.18">0.1</text>
<text x="443.40" y="573.35" font-size="8.8" fill="#111" text-anchor="end" textLength="11.01" lengthAdjust="spacingAndGlyphs" stroke="#111" stroke-width="0.18">0.2</text>
<text x="443.40" y="551.98" font-size="8.8" fill="#111" text-anchor="end" textLength="11.01" lengthAdjust="spacingAndGlyphs" stroke="#111" stroke-width="0.18">0.3</text>
<text x="443.40" y="530.60" font-size="8.8" fill="#111" text-anchor="end" textLength="11.01" lengthAdjust="spacingAndGlyphs" stroke="#111" stroke-width="0.18">0.4</text>
<path d="M445.00 613.00H448.0M446.10 607.66H448.0M446.10 602.31H448.0M446.10 596.97H448.0M445.00 591.62H448.0M446.10 586.28H448.0M446.10 580.94H448.0M446.10 575.59H448.0M445.00 570.25H448.0M446.10 564.91H448.0M446.10 559.56H448.0M446.10 554.22H448.0M445.00 548.88H448.0M446.10 543.53H448.0M446.10 538.19H448.0M446.10 532.84H448.0M445.00 527.50H448.0" stroke="#111" stroke-width="0.8"/>
<line x1="464.50" y1="613.00" x2="464.50" y2="616.60" stroke="#111" stroke-width="1.1"/>
<text x="0.00" y="0.00" font-size="8.6" fill="#111" text-anchor="end" textLength="44.20" lengthAdjust="spacingAndGlyphs" transform="translate(466.50,623.00) rotate(-45)" stroke="#111" stroke-width="0.18">0.1% DMSO</text>
<line x1="489.25" y1="613.00" x2="489.25" y2="616.60" stroke="#111" stroke-width="1.1"/>
<text x="0.00" y="0.00" font-size="8.6" fill="#111" text-anchor="end" textLength="59.30" lengthAdjust="spacingAndGlyphs" transform="translate(491.25,623.00) rotate(-45)" stroke="#111" stroke-width="0.18">300nM duvelisib</text>
<line x1="465.75" y1="526.25" x2="488.25" y2="526.25" stroke="#333" stroke-width="1.5"/>
<text x="476.80" y="522.45" font-size="10.4" fill="#111" text-anchor="middle" textLength="9.00" lengthAdjust="spacingAndGlyphs">ns</text>
<text x="0.00" y="0.00" font-size="9.3" fill="#111" text-anchor="middle" textLength="97.50" lengthAdjust="spacingAndGlyphs" transform="translate(426.70,570.00) rotate(-90)" stroke="#111" stroke-width="0.15">Cluster 8: Th2 – N log10 scale</text>
<rect x="0.5" y="0.5" width="519" height="669" fill="none" stroke="#000" stroke-width="1"/>
</svg>
</body></html>
